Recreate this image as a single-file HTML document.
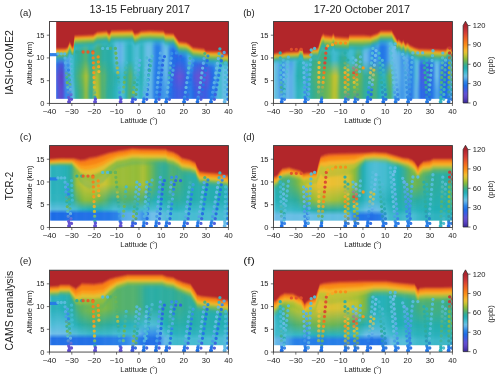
<!DOCTYPE html>
<html><head><meta charset="utf-8"><style>
html,body{margin:0;padding:0;background:#fff;width:500px;height:378px;overflow:hidden}
svg{display:block;will-change:transform}
text{font-family:"Liberation Sans",sans-serif;fill:#222}
.t{font-size:7px}
.l{font-size:8.2px}
.ti{font-size:10px}
</style></head><body>
<svg width="500" height="378" viewBox="0 0 500 378">
<defs><filter id="bl" x="-5%" y="-5%" width="110%" height="110%"><feGaussianBlur stdDeviation="0.8 0.4"/></filter><filter id="bb" x="-5%" y="-5%" width="110%" height="110%"><feGaussianBlur stdDeviation="0.7 0.8"/></filter>
<linearGradient id="g1" x2="0" y2="1"><stop offset=".513" stop-color="#368fe8"/><stop offset=".713" stop-color="#2375e7"/><stop offset=".914" stop-color="#348de8"/><stop offset="1" stop-color="#348de8"/></linearGradient><linearGradient id="g2" x2="0" y2="1"><stop offset=".513" stop-color="#2c85e8"/><stop offset=".713" stop-color="#1e6ce6"/><stop offset=".914" stop-color="#2980e8"/><stop offset="1" stop-color="#2980e8"/></linearGradient><linearGradient id="g3" x2="0" y2="1"><stop offset=".513" stop-color="#287de7"/><stop offset=".713" stop-color="#2867e5"/><stop offset=".914" stop-color="#2376e7"/><stop offset="1" stop-color="#2376e7"/></linearGradient><linearGradient id="g4" x2="0" y2="1"><stop offset=".513" stop-color="#1e6de6"/><stop offset=".713" stop-color="#5356da"/><stop offset=".914" stop-color="#3d5ce2"/><stop offset="1" stop-color="#3d5ce2"/></linearGradient><linearGradient id="g5" x2="0" y2="1"><stop offset=".513" stop-color="#375fe2"/><stop offset=".713" stop-color="#5d46c8"/><stop offset=".914" stop-color="#614dcf"/><stop offset="1" stop-color="#614dcf"/></linearGradient><linearGradient id="g6" x2="0" y2="1"><stop offset=".513" stop-color="#415ae1"/><stop offset=".713" stop-color="#5740c0"/><stop offset=".914" stop-color="#5f49cb"/><stop offset="1" stop-color="#5f49cb"/></linearGradient><linearGradient id="g7" x2="0" y2="1"><stop offset=".513" stop-color="#1e6ce6"/><stop offset=".713" stop-color="#5855d8"/><stop offset=".914" stop-color="#4759df"/><stop offset="1" stop-color="#4759df"/></linearGradient><linearGradient id="g8" x2="0" y2="1"><stop offset=".513" stop-color="#66b7e8"/><stop offset=".713" stop-color="#459ce8"/><stop offset=".914" stop-color="#358ee8"/><stop offset="1" stop-color="#358ee8"/></linearGradient><linearGradient id="g9" x2="0" y2="1"><stop offset=".513" stop-color="#3d95e8"/><stop offset=".713" stop-color="#3d95e8"/><stop offset=".914" stop-color="#267ae7"/><stop offset="1" stop-color="#267ae7"/></linearGradient><linearGradient id="g10" x2="0" y2="1"><stop offset=".513" stop-color="#67bee4"/><stop offset=".713" stop-color="#66b7e8"/><stop offset=".914" stop-color="#3d95e8"/><stop offset="1" stop-color="#3d95e8"/></linearGradient><linearGradient id="g11" x2="0" y2="1"><stop offset=".513" stop-color="#40bacd"/><stop offset=".713" stop-color="#40bacd"/><stop offset=".914" stop-color="#67bee4"/><stop offset="1" stop-color="#67bee4"/></linearGradient><linearGradient id="g12" x2="0" y2="1"><stop offset=".513" stop-color="#28aeaa"/><stop offset=".713" stop-color="#30ac98"/><stop offset=".914" stop-color="#28aeaa"/><stop offset="1" stop-color="#28aeaa"/></linearGradient><linearGradient id="g13" x2="0" y2="1"><stop offset=".513" stop-color="#2cada1"/><stop offset=".713" stop-color="#41ae83"/><stop offset=".914" stop-color="#2fac9b"/><stop offset="1" stop-color="#2fac9b"/></linearGradient><linearGradient id="g14" x2="0" y2="1"><stop offset=".513" stop-color="#30ac98"/><stop offset=".713" stop-color="#52b16e"/><stop offset=".914" stop-color="#41ae83"/><stop offset="1" stop-color="#41ae83"/></linearGradient><linearGradient id="g15" x2="0" y2="1"><stop offset=".513" stop-color="#3bae8a"/><stop offset=".713" stop-color="#69b556"/><stop offset=".914" stop-color="#4cb075"/><stop offset="1" stop-color="#4cb075"/></linearGradient><linearGradient id="g16" x2="0" y2="1"><stop offset=".513" stop-color="#46af7c"/><stop offset=".713" stop-color="#87ba3a"/><stop offset=".914" stop-color="#69b556"/><stop offset="1" stop-color="#69b556"/></linearGradient><linearGradient id="g17" x2="0" y2="1"><stop offset=".513" stop-color="#52b16e"/><stop offset=".713" stop-color="#afc035"/><stop offset=".914" stop-color="#9bbd37"/><stop offset="1" stop-color="#9bbd37"/></linearGradient><linearGradient id="g18" x2="0" y2="1"><stop offset=".513" stop-color="#2eac9c"/><stop offset=".713" stop-color="#6fb650"/><stop offset=".914" stop-color="#52b16e"/><stop offset="1" stop-color="#52b16e"/></linearGradient><linearGradient id="g19" x2="0" y2="1"><stop offset=".513" stop-color="#28aeaa"/><stop offset=".713" stop-color="#41ae83"/><stop offset=".914" stop-color="#2cada1"/><stop offset="1" stop-color="#2cada1"/></linearGradient><linearGradient id="g20" x2="0" y2="1"><stop offset=".513" stop-color="#2dada0"/><stop offset=".713" stop-color="#52b16e"/><stop offset=".914" stop-color="#46af7c"/><stop offset="1" stop-color="#46af7c"/></linearGradient><linearGradient id="g21" x2="0" y2="1"><stop offset=".513" stop-color="#41ae83"/><stop offset=".713" stop-color="#9bbd37"/><stop offset=".914" stop-color="#afc035"/><stop offset="1" stop-color="#afc035"/></linearGradient><linearGradient id="g22" x2="0" y2="1"><stop offset=".513" stop-color="#4cb075"/><stop offset=".713" stop-color="#a8bf36"/><stop offset=".914" stop-color="#bcc233"/><stop offset="1" stop-color="#bcc233"/></linearGradient><linearGradient id="g23" x2="0" y2="1"><stop offset=".513" stop-color="#41ae83"/><stop offset=".713" stop-color="#75b74b"/><stop offset=".914" stop-color="#7eb842"/><stop offset="1" stop-color="#7eb842"/></linearGradient><linearGradient id="g24" x2="0" y2="1"><stop offset=".513" stop-color="#2eac9c"/><stop offset=".713" stop-color="#49b079"/><stop offset=".914" stop-color="#46af7c"/><stop offset="1" stop-color="#46af7c"/></linearGradient><linearGradient id="g25" x2="0" y2="1"><stop offset=".513" stop-color="#2bada4"/><stop offset=".713" stop-color="#5ab264"/><stop offset=".914" stop-color="#52b16e"/><stop offset="1" stop-color="#52b16e"/></linearGradient><linearGradient id="g26" x2="0" y2="1"><stop offset=".513" stop-color="#2bada4"/><stop offset=".713" stop-color="#3eae87"/><stop offset=".914" stop-color="#36ad91"/><stop offset="1" stop-color="#36ad91"/></linearGradient><linearGradient id="g27" x2="0" y2="1"><stop offset=".513" stop-color="#2aada6"/><stop offset=".713" stop-color="#2fac9a"/><stop offset=".914" stop-color="#2dada0"/><stop offset="1" stop-color="#2dada0"/></linearGradient><linearGradient id="g28" x2="0" y2="1"><stop offset=".513" stop-color="#29aea8"/><stop offset=".713" stop-color="#2eac9c"/><stop offset=".914" stop-color="#2bada2"/><stop offset="1" stop-color="#2bada2"/></linearGradient><linearGradient id="g29" x2="0" y2="1"><stop offset=".513" stop-color="#2bb2bc"/><stop offset=".713" stop-color="#2cada2"/><stop offset=".914" stop-color="#27aeac"/><stop offset="1" stop-color="#27aeac"/></linearGradient><linearGradient id="g30" x2="0" y2="1"><stop offset=".513" stop-color="#53bdd9"/><stop offset=".713" stop-color="#28aeaa"/><stop offset=".914" stop-color="#29b1bb"/><stop offset="1" stop-color="#29b1bb"/></linearGradient><linearGradient id="g31" x2="0" y2="1"><stop offset=".513" stop-color="#69b9e8"/><stop offset=".713" stop-color="#2bb2bc"/><stop offset=".914" stop-color="#38b7c7"/><stop offset="1" stop-color="#38b7c7"/></linearGradient><linearGradient id="g32" x2="0" y2="1"><stop offset=".513" stop-color="#5baee8"/><stop offset=".713" stop-color="#38b7c7"/><stop offset=".914" stop-color="#44bbd0"/><stop offset="1" stop-color="#44bbd0"/></linearGradient><linearGradient id="g33" x2="0" y2="1"><stop offset=".513" stop-color="#66b7e8"/><stop offset=".713" stop-color="#40bacd"/><stop offset=".914" stop-color="#4dbcd6"/><stop offset="1" stop-color="#4dbcd6"/></linearGradient><linearGradient id="g34" x2="0" y2="1"><stop offset=".513" stop-color="#51bdd8"/><stop offset=".713" stop-color="#31b4c1"/><stop offset=".914" stop-color="#3cb8ca"/><stop offset="1" stop-color="#3cb8ca"/></linearGradient><linearGradient id="g35" x2="0" y2="1"><stop offset=".513" stop-color="#38b7c7"/><stop offset=".713" stop-color="#29aea8"/><stop offset=".914" stop-color="#26aeb0"/><stop offset="1" stop-color="#26aeb0"/></linearGradient><linearGradient id="g36" x2="0" y2="1"><stop offset=".513" stop-color="#29b1bb"/><stop offset=".713" stop-color="#52b16e"/><stop offset=".914" stop-color="#52b16e"/><stop offset="1" stop-color="#52b16e"/></linearGradient><linearGradient id="g37" x2="0" y2="1"><stop offset=".513" stop-color="#29b1bb"/><stop offset=".713" stop-color="#63b45c"/><stop offset=".914" stop-color="#46af7c"/><stop offset="1" stop-color="#46af7c"/></linearGradient><linearGradient id="g38" x2="0" y2="1"><stop offset=".513" stop-color="#3ab8c9"/><stop offset=".713" stop-color="#2cada1"/><stop offset=".914" stop-color="#23afb6"/><stop offset="1" stop-color="#23afb6"/></linearGradient><linearGradient id="g39" x2="0" y2="1"><stop offset=".513" stop-color="#4ebcd7"/><stop offset=".713" stop-color="#40bacd"/><stop offset=".914" stop-color="#4dbcd6"/><stop offset="1" stop-color="#4dbcd6"/></linearGradient><linearGradient id="g40" x2="0" y2="1"><stop offset=".513" stop-color="#52bdd8"/><stop offset=".713" stop-color="#40bacd"/><stop offset=".914" stop-color="#4dbcd6"/><stop offset="1" stop-color="#4dbcd6"/></linearGradient><linearGradient id="g41" x2="0" y2="1"><stop offset=".513" stop-color="#34b6c4"/><stop offset=".713" stop-color="#23afb6"/><stop offset=".914" stop-color="#32b4c2"/><stop offset="1" stop-color="#32b4c2"/></linearGradient><linearGradient id="g42" x2="0" y2="1"><stop offset=".513" stop-color="#29b1bb"/><stop offset=".713" stop-color="#26aeb0"/><stop offset=".914" stop-color="#2db3be"/><stop offset="1" stop-color="#2db3be"/></linearGradient><linearGradient id="g43" x2="0" y2="1"><stop offset=".513" stop-color="#4dbcd6"/><stop offset=".713" stop-color="#4dbcd6"/><stop offset=".914" stop-color="#5abddd"/><stop offset="1" stop-color="#5abddd"/></linearGradient><linearGradient id="g44" x2="0" y2="1"><stop offset=".513" stop-color="#67bee4"/><stop offset=".713" stop-color="#67bee4"/><stop offset=".914" stop-color="#66b7e8"/><stop offset="1" stop-color="#66b7e8"/></linearGradient><linearGradient id="g45" x2="0" y2="1"><stop offset=".513" stop-color="#6cbee7"/><stop offset=".713" stop-color="#6cbee7"/><stop offset=".914" stop-color="#5baee8"/><stop offset="1" stop-color="#5baee8"/></linearGradient><linearGradient id="g46" x2="0" y2="1"><stop offset=".513" stop-color="#5abddd"/><stop offset=".713" stop-color="#5abddd"/><stop offset=".914" stop-color="#66b7e8"/><stop offset="1" stop-color="#66b7e8"/></linearGradient><linearGradient id="g47" x2="0" y2="1"><stop offset=".513" stop-color="#459ce8"/><stop offset=".713" stop-color="#3b92e8"/><stop offset=".914" stop-color="#3089e8"/><stop offset="1" stop-color="#3089e8"/></linearGradient><linearGradient id="g48" x2="0" y2="1"><stop offset=".513" stop-color="#2980e8"/><stop offset=".713" stop-color="#267ae7"/><stop offset=".914" stop-color="#267ae7"/><stop offset="1" stop-color="#267ae7"/></linearGradient><linearGradient id="g49" x2="0" y2="1"><stop offset=".513" stop-color="#277ce7"/><stop offset=".713" stop-color="#267ae7"/><stop offset=".914" stop-color="#267ae7"/><stop offset="1" stop-color="#267ae7"/></linearGradient><linearGradient id="g50" x2="0" y2="1"><stop offset=".513" stop-color="#2c85e8"/><stop offset=".713" stop-color="#2a82e8"/><stop offset=".914" stop-color="#2980e8"/><stop offset="1" stop-color="#2980e8"/></linearGradient><linearGradient id="g51" x2="0" y2="1"><stop offset=".513" stop-color="#52a6e8"/><stop offset=".713" stop-color="#459ce8"/><stop offset=".914" stop-color="#3991e8"/><stop offset="1" stop-color="#3991e8"/></linearGradient><linearGradient id="g52" x2="0" y2="1"><stop offset=".513" stop-color="#6bbce8"/><stop offset=".713" stop-color="#5baee8"/><stop offset=".914" stop-color="#459ce8"/><stop offset="1" stop-color="#459ce8"/></linearGradient><linearGradient id="g53" x2="0" y2="1"><stop offset=".513" stop-color="#67bee4"/><stop offset=".713" stop-color="#66b7e8"/><stop offset=".914" stop-color="#459ce8"/><stop offset="1" stop-color="#459ce8"/></linearGradient><linearGradient id="g54" x2="0" y2="1"><stop offset=".513" stop-color="#358ee8"/><stop offset=".713" stop-color="#277ce7"/><stop offset=".914" stop-color="#277ce7"/><stop offset="1" stop-color="#277ce7"/></linearGradient><linearGradient id="g55" x2="0" y2="1"><stop offset=".513" stop-color="#2375e7"/><stop offset=".713" stop-color="#2d64e4"/><stop offset=".914" stop-color="#206be6"/><stop offset="1" stop-color="#206be6"/></linearGradient><linearGradient id="g56" x2="0" y2="1"><stop offset=".513" stop-color="#1e6ce6"/><stop offset=".713" stop-color="#415ae1"/><stop offset=".914" stop-color="#3063e4"/><stop offset="1" stop-color="#3063e4"/></linearGradient><linearGradient id="g57" x2="0" y2="1"><stop offset=".513" stop-color="#2469e5"/><stop offset=".713" stop-color="#5256da"/><stop offset=".914" stop-color="#3a5ee2"/><stop offset="1" stop-color="#3a5ee2"/></linearGradient><linearGradient id="g58" x2="0" y2="1"><stop offset=".513" stop-color="#2768e5"/><stop offset=".713" stop-color="#5e53d6"/><stop offset=".914" stop-color="#3e5be1"/><stop offset="1" stop-color="#3e5be1"/></linearGradient><linearGradient id="g59" x2="0" y2="1"><stop offset=".513" stop-color="#2668e5"/><stop offset=".713" stop-color="#6153d5"/><stop offset=".914" stop-color="#3e5be1"/><stop offset="1" stop-color="#3e5be1"/></linearGradient><linearGradient id="g60" x2="0" y2="1"><stop offset=".513" stop-color="#206be6"/><stop offset=".713" stop-color="#5b54d7"/><stop offset=".914" stop-color="#3a5ee2"/><stop offset="1" stop-color="#3a5ee2"/></linearGradient><linearGradient id="g61" x2="0" y2="1"><stop offset=".513" stop-color="#2476e7"/><stop offset=".713" stop-color="#4759df"/><stop offset=".914" stop-color="#2d64e4"/><stop offset="1" stop-color="#2d64e4"/></linearGradient><linearGradient id="g62" x2="0" y2="1"><stop offset=".513" stop-color="#338ce8"/><stop offset=".713" stop-color="#2867e5"/><stop offset=".914" stop-color="#2070e6"/><stop offset="1" stop-color="#2070e6"/></linearGradient><linearGradient id="g63" x2="0" y2="1"><stop offset=".513" stop-color="#5eb0e8"/><stop offset=".713" stop-color="#287ee7"/><stop offset=".914" stop-color="#287ee7"/><stop offset="1" stop-color="#287ee7"/></linearGradient><linearGradient id="g64" x2="0" y2="1"><stop offset=".513" stop-color="#53a7e8"/><stop offset=".713" stop-color="#2274e7"/><stop offset=".914" stop-color="#2476e7"/><stop offset="1" stop-color="#2476e7"/></linearGradient><linearGradient id="g65" x2="0" y2="1"><stop offset=".513" stop-color="#2375e7"/><stop offset=".713" stop-color="#4d57dd"/><stop offset=".914" stop-color="#2d64e4"/><stop offset="1" stop-color="#2d64e4"/></linearGradient><linearGradient id="g66" x2="0" y2="1"><stop offset=".513" stop-color="#1f6ee6"/><stop offset=".713" stop-color="#5b54d7"/><stop offset=".914" stop-color="#375fe2"/><stop offset="1" stop-color="#375fe2"/></linearGradient><linearGradient id="g67" x2="0" y2="1"><stop offset=".513" stop-color="#2369e5"/><stop offset=".713" stop-color="#6350d2"/><stop offset=".914" stop-color="#415ae1"/><stop offset="1" stop-color="#415ae1"/></linearGradient><linearGradient id="g68" x2="0" y2="1"><stop offset=".513" stop-color="#2668e5"/><stop offset=".713" stop-color="#624ed0"/><stop offset=".914" stop-color="#415ae1"/><stop offset="1" stop-color="#415ae1"/></linearGradient><linearGradient id="g69" x2="0" y2="1"><stop offset=".513" stop-color="#2867e5"/><stop offset=".713" stop-color="#614dcf"/><stop offset=".914" stop-color="#415ae1"/><stop offset="1" stop-color="#415ae1"/></linearGradient><linearGradient id="g70" x2="0" y2="1"><stop offset=".513" stop-color="#2668e5"/><stop offset=".713" stop-color="#6350d2"/><stop offset=".914" stop-color="#3c5de2"/><stop offset="1" stop-color="#3c5de2"/></linearGradient><linearGradient id="g71" x2="0" y2="1"><stop offset=".519" stop-color="#2369e5"/><stop offset=".713" stop-color="#6452d4"/><stop offset=".914" stop-color="#375fe2"/><stop offset="1" stop-color="#375fe2"/></linearGradient><linearGradient id="g72" x2="0" y2="1"><stop offset=".519" stop-color="#2274e7"/><stop offset=".713" stop-color="#4559e0"/><stop offset=".914" stop-color="#2369e5"/><stop offset="1" stop-color="#2369e5"/></linearGradient><linearGradient id="g73" x2="0" y2="1"><stop offset=".52" stop-color="#277de7"/><stop offset=".713" stop-color="#2d64e4"/><stop offset=".914" stop-color="#2375e7"/><stop offset="1" stop-color="#2375e7"/></linearGradient><linearGradient id="g74" x2="0" y2="1"><stop offset=".521" stop-color="#2b84e8"/><stop offset=".713" stop-color="#2070e6"/><stop offset=".914" stop-color="#287ee7"/><stop offset="1" stop-color="#287ee7"/></linearGradient><linearGradient id="g75" x2="0" y2="1"><stop offset=".521" stop-color="#4ea2e8"/><stop offset=".713" stop-color="#3d95e8"/><stop offset=".914" stop-color="#489ee8"/><stop offset="1" stop-color="#489ee8"/></linearGradient><linearGradient id="g76" x2="0" y2="1"><stop offset=".52" stop-color="#53bdd9"/><stop offset=".713" stop-color="#53bdd9"/><stop offset=".914" stop-color="#53bdd9"/><stop offset="1" stop-color="#53bdd9"/></linearGradient><linearGradient id="g77" x2="0" y2="1"><stop offset=".518" stop-color="#34b6c4"/><stop offset=".713" stop-color="#40bacd"/><stop offset=".914" stop-color="#40bacd"/><stop offset="1" stop-color="#40bacd"/></linearGradient><linearGradient id="g78" x2="0" y2="1"><stop offset=".553" stop-color="#5ebddf"/><stop offset=".713" stop-color="#63bde2"/><stop offset=".914" stop-color="#63bde2"/><stop offset="1" stop-color="#63bde2"/></linearGradient><linearGradient id="g79" x2="0" y2="1"><stop offset=".555" stop-color="#6abee6"/><stop offset=".713" stop-color="#6abee6"/><stop offset=".914" stop-color="#6cbee7"/><stop offset="1" stop-color="#6cbee7"/></linearGradient><linearGradient id="g80" x2="0" y2="1"><stop offset=".557" stop-color="#53bdd9"/><stop offset=".713" stop-color="#53bdd9"/><stop offset=".914" stop-color="#5abddd"/><stop offset="1" stop-color="#5abddd"/></linearGradient><linearGradient id="p81" gradientUnits="userSpaceOnUse" x1="0" y1="103.4" x2="0" y2="53.4"><stop offset="0" stop-color="#614dcf"/><stop offset="0.12" stop-color="#6452d4"/><stop offset="0.3" stop-color="#53bdd9"/><stop offset="0.4" stop-color="#75b74b"/><stop offset="0.5" stop-color="#28aeaa"/><stop offset="0.55" stop-color="#6cb553"/><stop offset="0.65" stop-color="#3d95e8"/><stop offset="0.8" stop-color="#56a9e8"/><stop offset="1" stop-color="#53bdd9"/></linearGradient><linearGradient id="p82" gradientUnits="userSpaceOnUse" x1="0" y1="103.4" x2="0" y2="53.4"><stop offset="0" stop-color="#5d46c8"/><stop offset="0.12" stop-color="#604bcd"/><stop offset="0.3" stop-color="#67bee4"/><stop offset="0.4" stop-color="#5ab264"/><stop offset="0.5" stop-color="#29b1bb"/><stop offset="0.55" stop-color="#52b16e"/><stop offset="0.65" stop-color="#2a82e8"/><stop offset="0.8" stop-color="#3d95e8"/><stop offset="1" stop-color="#67bee4"/></linearGradient><linearGradient id="p83" gradientUnits="userSpaceOnUse" x1="0" y1="103.4" x2="0" y2="53.4"><stop offset="0" stop-color="#6452d4"/><stop offset="0.15" stop-color="#28aeaa"/><stop offset="0.3" stop-color="#cbc232"/><stop offset="0.5" stop-color="#f9a521"/><stop offset="0.7" stop-color="#f98d19"/><stop offset="1" stop-color="#f4761b"/></linearGradient><linearGradient id="p84" gradientUnits="userSpaceOnUse" x1="0" y1="103.4" x2="0" y2="53.4"><stop offset="0" stop-color="#cbc232"/><stop offset="0.6" stop-color="#f2be32"/><stop offset="0.8" stop-color="#f9971b"/><stop offset="1" stop-color="#f88416"/></linearGradient><linearGradient id="p85" gradientUnits="userSpaceOnUse" x1="0" y1="103.4" x2="0" y2="53.4"><stop offset="0" stop-color="#6452d4"/><stop offset="0.08" stop-color="#2867e5"/><stop offset="0.2" stop-color="#3d95e8"/><stop offset="0.35" stop-color="#40bacd"/><stop offset="0.5" stop-color="#30ac98"/><stop offset="0.65" stop-color="#d3c132"/><stop offset="0.8" stop-color="#52b16e"/><stop offset="1" stop-color="#6cb553"/></linearGradient><linearGradient id="p86" gradientUnits="userSpaceOnUse" x1="0" y1="103.4" x2="0" y2="53.4"><stop offset="0" stop-color="#53bdd9"/><stop offset="0.4" stop-color="#75b74b"/><stop offset="0.5" stop-color="#52b16e"/><stop offset="0.8" stop-color="#40bacd"/><stop offset="1" stop-color="#53bdd9"/></linearGradient><linearGradient id="p87" gradientUnits="userSpaceOnUse" x1="0" y1="103.4" x2="0" y2="53.4"><stop offset="0" stop-color="#415ae1"/><stop offset="0.08" stop-color="#267ae7"/><stop offset="0.2" stop-color="#9bbd37"/><stop offset="0.4" stop-color="#41ae83"/><stop offset="0.7" stop-color="#53bdd9"/><stop offset="1" stop-color="#53bdd9"/></linearGradient><linearGradient id="p88" gradientUnits="userSpaceOnUse" x1="0" y1="103.4" x2="0" y2="53.4"><stop offset="0" stop-color="#6452d4"/><stop offset="0.08" stop-color="#2d64e4"/><stop offset="0.2" stop-color="#63b45c"/><stop offset="0.4" stop-color="#26aeb0"/><stop offset="0.7" stop-color="#5eb0e8"/><stop offset="1" stop-color="#5eb0e8"/></linearGradient><linearGradient id="p89" gradientUnits="userSpaceOnUse" x1="0" y1="103.4" x2="0" y2="53.4"><stop offset="0" stop-color="#2070e6"/><stop offset="0.15" stop-color="#56a9e8"/><stop offset="0.4" stop-color="#4dbcd6"/><stop offset="0.7" stop-color="#67bee4"/><stop offset="1" stop-color="#40bacd"/></linearGradient><linearGradient id="p90" gradientUnits="userSpaceOnUse" x1="0" y1="103.4" x2="0" y2="53.4"><stop offset="0" stop-color="#5855d8"/><stop offset="0.15" stop-color="#2369e5"/><stop offset="0.4" stop-color="#358ee8"/><stop offset="0.7" stop-color="#267ae7"/><stop offset="1" stop-color="#459ce8"/></linearGradient><linearGradient id="p91" gradientUnits="userSpaceOnUse" x1="0" y1="103.4" x2="0" y2="53.4"><stop offset="0" stop-color="#66b7e8"/><stop offset="0.5" stop-color="#40bacd"/><stop offset="0.7" stop-color="#30ac98"/><stop offset="1" stop-color="#53bdd9"/></linearGradient><linearGradient id="p92" gradientUnits="userSpaceOnUse" x1="0" y1="103.4" x2="0" y2="53.4"><stop offset="0" stop-color="#2070e6"/><stop offset="0.2" stop-color="#459ce8"/><stop offset="0.5" stop-color="#66b7e8"/><stop offset="0.7" stop-color="#459ce8"/><stop offset="1" stop-color="#56a9e8"/></linearGradient><linearGradient id="p93" gradientUnits="userSpaceOnUse" x1="0" y1="103.4" x2="0" y2="53.4"><stop offset="0" stop-color="#5855d8"/><stop offset="0.2" stop-color="#2d64e4"/><stop offset="0.5" stop-color="#2070e6"/><stop offset="0.7" stop-color="#2d64e4"/><stop offset="1" stop-color="#2369e5"/></linearGradient><linearGradient id="p94" gradientUnits="userSpaceOnUse" x1="0" y1="103.4" x2="0" y2="53.4"><stop offset="0" stop-color="#2070e6"/><stop offset="0.2" stop-color="#66b7e8"/><stop offset="0.45" stop-color="#5abddd"/><stop offset="0.6" stop-color="#2bada4"/><stop offset="0.8" stop-color="#66b7e8"/><stop offset="1" stop-color="#358ee8"/></linearGradient><linearGradient id="p95" gradientUnits="userSpaceOnUse" x1="0" y1="103.4" x2="0" y2="53.4"><stop offset="0" stop-color="#5855d8"/><stop offset="0.2" stop-color="#2070e6"/><stop offset="0.45" stop-color="#2a82e8"/><stop offset="0.6" stop-color="#5abddd"/><stop offset="0.8" stop-color="#2070e6"/><stop offset="1" stop-color="#375fe2"/></linearGradient><linearGradient id="p96" gradientUnits="userSpaceOnUse" x1="0" y1="103.4" x2="0" y2="53.4"><stop offset="0" stop-color="#2070e6"/><stop offset="0.3" stop-color="#67bee4"/><stop offset="0.5" stop-color="#56a9e8"/><stop offset="0.7" stop-color="#53bdd9"/><stop offset="1" stop-color="#30ac98"/></linearGradient><linearGradient id="p97" gradientUnits="userSpaceOnUse" x1="0" y1="103.4" x2="0" y2="53.4"><stop offset="0" stop-color="#5855d8"/><stop offset="0.3" stop-color="#267ae7"/><stop offset="0.5" stop-color="#2369e5"/><stop offset="0.7" stop-color="#2d87e8"/><stop offset="1" stop-color="#4dbcd6"/></linearGradient><linearGradient id="p98" gradientUnits="userSpaceOnUse" x1="0" y1="103.4" x2="0" y2="53.4"><stop offset="0" stop-color="#2070e6"/><stop offset="0.3" stop-color="#66b7e8"/><stop offset="0.5" stop-color="#5abddd"/><stop offset="0.7" stop-color="#66b7e8"/><stop offset="0.9" stop-color="#56a9e8"/><stop offset="1" stop-color="#52b16e"/></linearGradient><linearGradient id="p99" gradientUnits="userSpaceOnUse" x1="0" y1="103.4" x2="0" y2="53.4"><stop offset="0" stop-color="#5855d8"/><stop offset="0.3" stop-color="#2070e6"/><stop offset="0.5" stop-color="#2a82e8"/><stop offset="0.7" stop-color="#2070e6"/><stop offset="0.9" stop-color="#2369e5"/><stop offset="1" stop-color="#34b6c4"/></linearGradient><linearGradient id="p100" gradientUnits="userSpaceOnUse" x1="0" y1="103.4" x2="0" y2="53.4"><stop offset="0" stop-color="#2070e6"/><stop offset="0.3" stop-color="#56a9e8"/><stop offset="0.6" stop-color="#67bee4"/><stop offset="0.9" stop-color="#66b7e8"/><stop offset="1" stop-color="#34b6c4"/></linearGradient><linearGradient id="p101" gradientUnits="userSpaceOnUse" x1="0" y1="103.4" x2="0" y2="53.4"><stop offset="0" stop-color="#5855d8"/><stop offset="0.3" stop-color="#2369e5"/><stop offset="0.6" stop-color="#267ae7"/><stop offset="0.9" stop-color="#2070e6"/><stop offset="1" stop-color="#56a9e8"/></linearGradient><linearGradient id="p102" gradientUnits="userSpaceOnUse" x1="0" y1="103.4" x2="0" y2="53.4"><stop offset="0" stop-color="#66b7e8"/><stop offset="0.5" stop-color="#4dbcd6"/><stop offset="1" stop-color="#40bacd"/></linearGradient><linearGradient id="p103" gradientUnits="userSpaceOnUse" x1="0" y1="103.4" x2="0" y2="53.4"><stop offset="0" stop-color="#2070e6"/><stop offset="0.5" stop-color="#358ee8"/><stop offset="1" stop-color="#459ce8"/></linearGradient><linearGradient id="g104" x2="0" y2="1"><stop offset=".548" stop-color="#56bddb"/><stop offset=".713" stop-color="#56bddb"/><stop offset=".914" stop-color="#56bddb"/><stop offset="1" stop-color="#56bddb"/></linearGradient><linearGradient id="g105" x2="0" y2="1"><stop offset=".541" stop-color="#67bee4"/><stop offset=".713" stop-color="#67bee4"/><stop offset=".914" stop-color="#67bee4"/><stop offset="1" stop-color="#67bee4"/></linearGradient><linearGradient id="g106" x2="0" y2="1"><stop offset=".541" stop-color="#56a9e8"/><stop offset=".713" stop-color="#4ba0e8"/><stop offset=".914" stop-color="#56a9e8"/><stop offset="1" stop-color="#56a9e8"/></linearGradient><linearGradient id="g107" x2="0" y2="1"><stop offset=".541" stop-color="#3b92e8"/><stop offset=".713" stop-color="#3089e8"/><stop offset=".914" stop-color="#4097e8"/><stop offset="1" stop-color="#4097e8"/></linearGradient><linearGradient id="g108" x2="0" y2="1"><stop offset=".538" stop-color="#2a82e8"/><stop offset=".713" stop-color="#2a82e8"/><stop offset=".914" stop-color="#358ee8"/><stop offset="1" stop-color="#358ee8"/></linearGradient><linearGradient id="g109" x2="0" y2="1"><stop offset=".531" stop-color="#5baee8"/><stop offset=".713" stop-color="#5baee8"/><stop offset=".914" stop-color="#60b3e8"/><stop offset="1" stop-color="#60b3e8"/></linearGradient><linearGradient id="g110" x2="0" y2="1"><stop offset=".529" stop-color="#66b7e8"/><stop offset=".713" stop-color="#6bbce8"/><stop offset=".914" stop-color="#6bbce8"/><stop offset="1" stop-color="#6bbce8"/></linearGradient><linearGradient id="g111" x2="0" y2="1"><stop offset=".528" stop-color="#459ce8"/><stop offset=".713" stop-color="#56a9e8"/><stop offset=".914" stop-color="#56a9e8"/><stop offset="1" stop-color="#56a9e8"/></linearGradient><linearGradient id="g112" x2="0" y2="1"><stop offset=".527" stop-color="#50a5e8"/><stop offset=".713" stop-color="#60b3e8"/><stop offset=".914" stop-color="#60b3e8"/><stop offset="1" stop-color="#60b3e8"/></linearGradient><linearGradient id="g113" x2="0" y2="1"><stop offset=".526" stop-color="#5abddd"/><stop offset=".713" stop-color="#4dbcd6"/><stop offset=".914" stop-color="#53bdd9"/><stop offset="1" stop-color="#53bdd9"/></linearGradient><linearGradient id="g114" x2="0" y2="1"><stop offset=".525" stop-color="#2fb3bf"/><stop offset=".713" stop-color="#23afb6"/><stop offset=".914" stop-color="#32b4c2"/><stop offset="1" stop-color="#32b4c2"/></linearGradient><linearGradient id="g115" x2="0" y2="1"><stop offset=".513" stop-color="#23afb6"/><stop offset=".713" stop-color="#28aeaa"/><stop offset=".914" stop-color="#2cb2bd"/><stop offset="1" stop-color="#2cb2bd"/></linearGradient><linearGradient id="g116" x2="0" y2="1"><stop offset=".513" stop-color="#26b0b8"/><stop offset=".713" stop-color="#27aead"/><stop offset=".914" stop-color="#32b4c2"/><stop offset="1" stop-color="#32b4c2"/></linearGradient><linearGradient id="g117" x2="0" y2="1"><stop offset=".547" stop-color="#37b7c6"/><stop offset=".713" stop-color="#2cb2bd"/><stop offset=".914" stop-color="#43bbd0"/><stop offset="1" stop-color="#43bbd0"/></linearGradient><linearGradient id="g118" x2="0" y2="1"><stop offset=".547" stop-color="#3cb8ca"/><stop offset=".713" stop-color="#2db3be"/><stop offset=".914" stop-color="#44bbd0"/><stop offset="1" stop-color="#44bbd0"/></linearGradient><linearGradient id="g119" x2="0" y2="1"><stop offset=".547" stop-color="#34b6c4"/><stop offset=".713" stop-color="#26aeb0"/><stop offset=".914" stop-color="#34b6c4"/><stop offset="1" stop-color="#34b6c4"/></linearGradient><linearGradient id="g120" x2="0" y2="1"><stop offset=".547" stop-color="#29aea8"/><stop offset=".713" stop-color="#30ac98"/><stop offset=".914" stop-color="#29aea8"/><stop offset="1" stop-color="#29aea8"/></linearGradient><linearGradient id="g121" x2="0" y2="1"><stop offset=".513" stop-color="#34ad93"/><stop offset=".713" stop-color="#45af7e"/><stop offset=".914" stop-color="#34ad93"/><stop offset="1" stop-color="#34ad93"/></linearGradient><linearGradient id="g122" x2="0" y2="1"><stop offset=".513" stop-color="#3dae88"/><stop offset=".713" stop-color="#4db074"/><stop offset=".914" stop-color="#3dae88"/><stop offset="1" stop-color="#3dae88"/></linearGradient><linearGradient id="g123" x2="0" y2="1"><stop offset=".513" stop-color="#41ae83"/><stop offset=".713" stop-color="#52b16e"/><stop offset=".914" stop-color="#45af7e"/><stop offset="1" stop-color="#45af7e"/></linearGradient><linearGradient id="g124" x2="0" y2="1"><stop offset=".513" stop-color="#41ae83"/><stop offset=".713" stop-color="#52b16e"/><stop offset=".914" stop-color="#4db074"/><stop offset="1" stop-color="#4db074"/></linearGradient><linearGradient id="g125" x2="0" y2="1"><stop offset=".513" stop-color="#41ae83"/><stop offset=".713" stop-color="#56b169"/><stop offset=".914" stop-color="#56b169"/><stop offset="1" stop-color="#56b169"/></linearGradient><linearGradient id="g126" x2="0" y2="1"><stop offset=".513" stop-color="#41ae83"/><stop offset=".713" stop-color="#5eb360"/><stop offset=".914" stop-color="#5eb360"/><stop offset="1" stop-color="#5eb360"/></linearGradient><linearGradient id="g127" x2="0" y2="1"><stop offset=".513" stop-color="#3dae88"/><stop offset=".713" stop-color="#68b457"/><stop offset=".914" stop-color="#68b457"/><stop offset="1" stop-color="#68b457"/></linearGradient><linearGradient id="g128" x2="0" y2="1"><stop offset=".513" stop-color="#34ad93"/><stop offset=".713" stop-color="#70b64f"/><stop offset=".914" stop-color="#70b64f"/><stop offset="1" stop-color="#70b64f"/></linearGradient><linearGradient id="g129" x2="0" y2="1"><stop offset=".513" stop-color="#27aeac"/><stop offset=".713" stop-color="#87ba3a"/><stop offset=".914" stop-color="#87ba3a"/><stop offset="1" stop-color="#87ba3a"/></linearGradient><linearGradient id="g130" x2="0" y2="1"><stop offset=".513" stop-color="#40bacd"/><stop offset=".713" stop-color="#afc035"/><stop offset=".914" stop-color="#afc035"/><stop offset="1" stop-color="#afc035"/></linearGradient><linearGradient id="g131" x2="0" y2="1"><stop offset=".513" stop-color="#40bacd"/><stop offset=".713" stop-color="#c8c232"/><stop offset=".914" stop-color="#bcc233"/><stop offset="1" stop-color="#bcc233"/></linearGradient><linearGradient id="g132" x2="0" y2="1"><stop offset=".513" stop-color="#34b6c4"/><stop offset=".713" stop-color="#afc035"/><stop offset=".914" stop-color="#9bbd37"/><stop offset="1" stop-color="#9bbd37"/></linearGradient><linearGradient id="g133" x2="0" y2="1"><stop offset=".513" stop-color="#28aeaa"/><stop offset=".713" stop-color="#63b45c"/><stop offset=".914" stop-color="#5ab264"/><stop offset="1" stop-color="#5ab264"/></linearGradient><linearGradient id="g134" x2="0" y2="1"><stop offset=".513" stop-color="#30ac98"/><stop offset=".713" stop-color="#49b079"/><stop offset=".914" stop-color="#45af7e"/><stop offset="1" stop-color="#45af7e"/></linearGradient><linearGradient id="g135" x2="0" y2="1"><stop offset=".513" stop-color="#30ac98"/><stop offset=".713" stop-color="#5ab264"/><stop offset=".914" stop-color="#4db074"/><stop offset="1" stop-color="#4db074"/></linearGradient><linearGradient id="g136" x2="0" y2="1"><stop offset=".513" stop-color="#28aeaa"/><stop offset=".713" stop-color="#5eb360"/><stop offset=".914" stop-color="#4db074"/><stop offset="1" stop-color="#4db074"/></linearGradient><linearGradient id="g137" x2="0" y2="1"><stop offset=".513" stop-color="#3ab8c9"/><stop offset=".713" stop-color="#56b169"/><stop offset=".914" stop-color="#45af7e"/><stop offset="1" stop-color="#45af7e"/></linearGradient><linearGradient id="g138" x2="0" y2="1"><stop offset=".513" stop-color="#48bcd3"/><stop offset=".713" stop-color="#57b267"/><stop offset=".914" stop-color="#46af7c"/><stop offset="1" stop-color="#46af7c"/></linearGradient><linearGradient id="g139" x2="0" y2="1"><stop offset=".513" stop-color="#40bacd"/><stop offset=".713" stop-color="#63b45c"/><stop offset=".914" stop-color="#52b16e"/><stop offset="1" stop-color="#52b16e"/></linearGradient><linearGradient id="g140" x2="0" y2="1"><stop offset=".513" stop-color="#2bada4"/><stop offset=".713" stop-color="#63b45c"/><stop offset=".914" stop-color="#52b16e"/><stop offset="1" stop-color="#52b16e"/></linearGradient><linearGradient id="g141" x2="0" y2="1"><stop offset=".513" stop-color="#45af7e"/><stop offset=".713" stop-color="#65b45a"/><stop offset=".914" stop-color="#52b16e"/><stop offset="1" stop-color="#52b16e"/></linearGradient><linearGradient id="g142" x2="0" y2="1"><stop offset=".513" stop-color="#4db074"/><stop offset=".713" stop-color="#6ab555"/><stop offset=".914" stop-color="#52b16e"/><stop offset="1" stop-color="#52b16e"/></linearGradient><linearGradient id="g143" x2="0" y2="1"><stop offset=".513" stop-color="#27aeac"/><stop offset=".713" stop-color="#57b267"/><stop offset=".914" stop-color="#46af7c"/><stop offset="1" stop-color="#46af7c"/></linearGradient><linearGradient id="g144" x2="0" y2="1"><stop offset=".513" stop-color="#66b7e8"/><stop offset=".713" stop-color="#30ac98"/><stop offset=".914" stop-color="#30ac98"/><stop offset="1" stop-color="#30ac98"/></linearGradient><linearGradient id="g145" x2="0" y2="1"><stop offset=".513" stop-color="#66b7e8"/><stop offset=".713" stop-color="#30ac98"/><stop offset=".914" stop-color="#2bada4"/><stop offset="1" stop-color="#2bada4"/></linearGradient><linearGradient id="g146" x2="0" y2="1"><stop offset=".513" stop-color="#56a9e8"/><stop offset=".713" stop-color="#36ad91"/><stop offset=".914" stop-color="#2bada4"/><stop offset="1" stop-color="#2bada4"/></linearGradient><linearGradient id="g147" x2="0" y2="1"><stop offset=".513" stop-color="#358ee8"/><stop offset=".713" stop-color="#41ae83"/><stop offset=".914" stop-color="#30ac98"/><stop offset="1" stop-color="#30ac98"/></linearGradient><linearGradient id="g148" x2="0" y2="1"><stop offset=".513" stop-color="#2980e7"/><stop offset=".713" stop-color="#57b267"/><stop offset=".914" stop-color="#46af7c"/><stop offset="1" stop-color="#46af7c"/></linearGradient><linearGradient id="g149" x2="0" y2="1"><stop offset=".513" stop-color="#2a82e8"/><stop offset=".713" stop-color="#57b267"/><stop offset=".914" stop-color="#46af7c"/><stop offset="1" stop-color="#46af7c"/></linearGradient><linearGradient id="g150" x2="0" y2="1"><stop offset=".513" stop-color="#459ce8"/><stop offset=".713" stop-color="#41ae83"/><stop offset=".914" stop-color="#30ac98"/><stop offset="1" stop-color="#30ac98"/></linearGradient><linearGradient id="g151" x2="0" y2="1"><stop offset=".513" stop-color="#2980e7"/><stop offset=".713" stop-color="#27aeac"/><stop offset=".914" stop-color="#25b0b8"/><stop offset="1" stop-color="#25b0b8"/></linearGradient><linearGradient id="g152" x2="0" y2="1"><stop offset=".513" stop-color="#2375e7"/><stop offset=".713" stop-color="#29b1bb"/><stop offset=".914" stop-color="#34b6c4"/><stop offset="1" stop-color="#34b6c4"/></linearGradient><linearGradient id="g153" x2="0" y2="1"><stop offset=".513" stop-color="#2375e7"/><stop offset=".713" stop-color="#29b1bb"/><stop offset=".914" stop-color="#34b6c4"/><stop offset="1" stop-color="#34b6c4"/></linearGradient><linearGradient id="g154" x2="0" y2="1"><stop offset=".513" stop-color="#2b84e8"/><stop offset=".713" stop-color="#36ad91"/><stop offset=".914" stop-color="#2dada0"/><stop offset="1" stop-color="#2dada0"/></linearGradient><linearGradient id="g155" x2="0" y2="1"><stop offset=".513" stop-color="#50a5e8"/><stop offset=".713" stop-color="#5db361"/><stop offset=".914" stop-color="#46af7c"/><stop offset="1" stop-color="#46af7c"/></linearGradient><linearGradient id="g156" x2="0" y2="1"><stop offset=".513" stop-color="#5abddd"/><stop offset=".713" stop-color="#75b74b"/><stop offset=".914" stop-color="#52b16e"/><stop offset="1" stop-color="#52b16e"/></linearGradient><linearGradient id="g157" x2="0" y2="1"><stop offset=".513" stop-color="#6cbee7"/><stop offset=".713" stop-color="#34b6c4"/><stop offset=".914" stop-color="#3cb8ca"/><stop offset="1" stop-color="#3cb8ca"/></linearGradient><linearGradient id="g158" x2="0" y2="1"><stop offset=".513" stop-color="#66b7e8"/><stop offset=".713" stop-color="#6bbee6"/><stop offset=".914" stop-color="#6ebee8"/><stop offset="1" stop-color="#6ebee8"/></linearGradient><linearGradient id="g159" x2="0" y2="1"><stop offset=".513" stop-color="#66b7e8"/><stop offset=".713" stop-color="#6abbe8"/><stop offset=".914" stop-color="#5eb0e8"/><stop offset="1" stop-color="#5eb0e8"/></linearGradient><linearGradient id="g160" x2="0" y2="1"><stop offset=".513" stop-color="#58abe8"/><stop offset=".713" stop-color="#5aade8"/><stop offset=".914" stop-color="#4ea2e8"/><stop offset="1" stop-color="#4ea2e8"/></linearGradient><linearGradient id="g161" x2="0" y2="1"><stop offset=".513" stop-color="#3b93e8"/><stop offset=".713" stop-color="#4198e8"/><stop offset=".914" stop-color="#3d95e8"/><stop offset="1" stop-color="#3d95e8"/></linearGradient><linearGradient id="g162" x2="0" y2="1"><stop offset=".513" stop-color="#4097e8"/><stop offset=".713" stop-color="#4ba0e8"/><stop offset=".914" stop-color="#459ce8"/><stop offset="1" stop-color="#459ce8"/></linearGradient><linearGradient id="g163" x2="0" y2="1"><stop offset=".513" stop-color="#66b7e8"/><stop offset=".713" stop-color="#67bee4"/><stop offset=".914" stop-color="#66b7e8"/><stop offset="1" stop-color="#66b7e8"/></linearGradient><linearGradient id="g164" x2="0" y2="1"><stop offset=".513" stop-color="#3089e8"/><stop offset=".713" stop-color="#358ee8"/><stop offset=".914" stop-color="#3089e8"/><stop offset="1" stop-color="#3089e8"/></linearGradient><linearGradient id="g165" x2="0" y2="1"><stop offset=".513" stop-color="#287ee7"/><stop offset=".713" stop-color="#287ee7"/><stop offset=".914" stop-color="#287ee7"/><stop offset="1" stop-color="#287ee7"/></linearGradient><linearGradient id="g166" x2="0" y2="1"><stop offset=".513" stop-color="#2d87e8"/><stop offset=".713" stop-color="#2d87e8"/><stop offset=".914" stop-color="#2d87e8"/><stop offset="1" stop-color="#2d87e8"/></linearGradient><linearGradient id="g167" x2="0" y2="1"><stop offset=".513" stop-color="#4dbcd6"/><stop offset=".713" stop-color="#4dbcd6"/><stop offset=".914" stop-color="#66b7e8"/><stop offset="1" stop-color="#66b7e8"/></linearGradient><linearGradient id="g168" x2="0" y2="1"><stop offset=".513" stop-color="#67bee4"/><stop offset=".713" stop-color="#67bee4"/><stop offset=".914" stop-color="#56a9e8"/><stop offset="1" stop-color="#56a9e8"/></linearGradient><linearGradient id="g169" x2="0" y2="1"><stop offset=".513" stop-color="#2369e5"/><stop offset=".713" stop-color="#375fe2"/><stop offset=".914" stop-color="#2369e5"/><stop offset="1" stop-color="#2369e5"/></linearGradient><linearGradient id="g170" x2="0" y2="1"><stop offset=".513" stop-color="#2b65e4"/><stop offset=".713" stop-color="#3f5be1"/><stop offset=".914" stop-color="#2767e5"/><stop offset="1" stop-color="#2767e5"/></linearGradient><linearGradient id="g171" x2="0" y2="1"><stop offset=".513" stop-color="#3361e3"/><stop offset=".713" stop-color="#4858de"/><stop offset=".914" stop-color="#2b65e4"/><stop offset="1" stop-color="#2b65e4"/></linearGradient><linearGradient id="g172" x2="0" y2="1"><stop offset=".513" stop-color="#3460e3"/><stop offset=".713" stop-color="#4a58de"/><stop offset=".914" stop-color="#2a66e4"/><stop offset="1" stop-color="#2a66e4"/></linearGradient><linearGradient id="g173" x2="0" y2="1"><stop offset=".513" stop-color="#3063e4"/><stop offset=".713" stop-color="#4459e0"/><stop offset=".914" stop-color="#2668e5"/><stop offset="1" stop-color="#2668e5"/></linearGradient><linearGradient id="g174" x2="0" y2="1"><stop offset=".513" stop-color="#2369e5"/><stop offset=".713" stop-color="#3063e3"/><stop offset=".914" stop-color="#1f6ee6"/><stop offset="1" stop-color="#1f6ee6"/></linearGradient><linearGradient id="g175" x2="0" y2="1"><stop offset=".513" stop-color="#267ae7"/><stop offset=".713" stop-color="#267ae7"/><stop offset=".914" stop-color="#267ae7"/><stop offset="1" stop-color="#267ae7"/></linearGradient><linearGradient id="g176" x2="0" y2="1"><stop offset=".513" stop-color="#6bbce8"/><stop offset=".713" stop-color="#6bbce8"/><stop offset=".914" stop-color="#4ba0e8"/><stop offset="1" stop-color="#4ba0e8"/></linearGradient><linearGradient id="g177" x2="0" y2="1"><stop offset=".513" stop-color="#67bee4"/><stop offset=".713" stop-color="#6cbee7"/><stop offset=".914" stop-color="#50a5e8"/><stop offset="1" stop-color="#50a5e8"/></linearGradient><linearGradient id="g178" x2="0" y2="1"><stop offset=".513" stop-color="#358ee8"/><stop offset=".713" stop-color="#2a82e8"/><stop offset=".914" stop-color="#2a82e8"/><stop offset="1" stop-color="#2a82e8"/></linearGradient><linearGradient id="g179" x2="0" y2="1"><stop offset=".513" stop-color="#1f6ee6"/><stop offset=".713" stop-color="#2d64e4"/><stop offset=".914" stop-color="#2070e6"/><stop offset="1" stop-color="#2070e6"/></linearGradient><linearGradient id="g180" x2="0" y2="1"><stop offset=".513" stop-color="#2a66e4"/><stop offset=".713" stop-color="#3a5de2"/><stop offset=".914" stop-color="#206be6"/><stop offset="1" stop-color="#206be6"/></linearGradient><linearGradient id="g181" x2="0" y2="1"><stop offset=".513" stop-color="#2369e5"/><stop offset=".713" stop-color="#2d64e4"/><stop offset=".914" stop-color="#2070e6"/><stop offset="1" stop-color="#2070e6"/></linearGradient><linearGradient id="g182" x2="0" y2="1"><stop offset=".513" stop-color="#2980e7"/><stop offset=".713" stop-color="#277ce7"/><stop offset=".914" stop-color="#3089e8"/><stop offset="1" stop-color="#3089e8"/></linearGradient><linearGradient id="g183" x2="0" y2="1"><stop offset=".513" stop-color="#4ea2e8"/><stop offset=".713" stop-color="#4ea2e8"/><stop offset=".914" stop-color="#56a9e8"/><stop offset="1" stop-color="#56a9e8"/></linearGradient><linearGradient id="p184" gradientUnits="userSpaceOnUse" x1="0" y1="103.4" x2="0" y2="53.4"><stop offset="0" stop-color="#2070e6"/><stop offset="0.15" stop-color="#66b7e8"/><stop offset="0.3" stop-color="#41ae83"/><stop offset="0.5" stop-color="#53bdd9"/><stop offset="0.8" stop-color="#40bacd"/><stop offset="1" stop-color="#28aeaa"/></linearGradient><linearGradient id="p185" gradientUnits="userSpaceOnUse" x1="0" y1="103.4" x2="0" y2="53.4"><stop offset="0" stop-color="#2d64e4"/><stop offset="0.15" stop-color="#459ce8"/><stop offset="0.3" stop-color="#2bada4"/><stop offset="0.5" stop-color="#6ebee8"/><stop offset="0.8" stop-color="#5abddd"/><stop offset="1" stop-color="#2fb3bf"/></linearGradient><linearGradient id="p186" gradientUnits="userSpaceOnUse" x1="0" y1="103.4" x2="0" y2="53.4"><stop offset="0" stop-color="#2070e6"/><stop offset="0.5" stop-color="#66b7e8"/><stop offset="1" stop-color="#53bdd9"/></linearGradient><linearGradient id="p187" gradientUnits="userSpaceOnUse" x1="0" y1="103.4" x2="0" y2="53.4"><stop offset="0" stop-color="#2d64e4"/><stop offset="0.5" stop-color="#459ce8"/><stop offset="1" stop-color="#6ebee8"/></linearGradient><linearGradient id="p188" gradientUnits="userSpaceOnUse" x1="0" y1="103.4" x2="0" y2="53.4"><stop offset="0" stop-color="#56a9e8"/><stop offset="1" stop-color="#53bdd9"/></linearGradient><linearGradient id="p189" gradientUnits="userSpaceOnUse" x1="0" y1="103.4" x2="0" y2="53.4"><stop offset="0" stop-color="#30ac98"/><stop offset="0.5" stop-color="#f2be32"/><stop offset="1" stop-color="#e2c032"/></linearGradient><linearGradient id="p190" gradientUnits="userSpaceOnUse" x1="0" y1="103.4" x2="0" y2="53.4"><stop offset="0" stop-color="#2070e6"/><stop offset="0.2" stop-color="#52b16e"/><stop offset="0.45" stop-color="#f9a521"/><stop offset="0.6" stop-color="#f4761b"/><stop offset="0.8" stop-color="#d64034"/><stop offset="1" stop-color="#df4c2e"/></linearGradient><linearGradient id="p191" gradientUnits="userSpaceOnUse" x1="0" y1="103.4" x2="0" y2="53.4"><stop offset="0" stop-color="#2070e6"/><stop offset="0.3" stop-color="#cbc232"/><stop offset="0.5" stop-color="#f98d19"/><stop offset="0.65" stop-color="#f5b42b"/><stop offset="0.85" stop-color="#41ae83"/><stop offset="1" stop-color="#28aeaa"/></linearGradient><linearGradient id="p192" gradientUnits="userSpaceOnUse" x1="0" y1="103.4" x2="0" y2="53.4"><stop offset="0" stop-color="#2d64e4"/><stop offset="0.3" stop-color="#a5be36"/><stop offset="0.5" stop-color="#faa01e"/><stop offset="0.65" stop-color="#e2c032"/><stop offset="0.85" stop-color="#2bada4"/><stop offset="1" stop-color="#2fb3bf"/></linearGradient><linearGradient id="p193" gradientUnits="userSpaceOnUse" x1="0" y1="103.4" x2="0" y2="53.4"><stop offset="0" stop-color="#2070e6"/><stop offset="0.3" stop-color="#9bbd37"/><stop offset="0.45" stop-color="#f2be32"/><stop offset="0.6" stop-color="#df4c2e"/><stop offset="0.8" stop-color="#53bdd9"/><stop offset="1" stop-color="#53bdd9"/></linearGradient><linearGradient id="p194" gradientUnits="userSpaceOnUse" x1="0" y1="103.4" x2="0" y2="53.4"><stop offset="0" stop-color="#2d64e4"/><stop offset="0.3" stop-color="#75b74b"/><stop offset="0.45" stop-color="#d3c132"/><stop offset="0.6" stop-color="#eb5c26"/><stop offset="0.8" stop-color="#6ebee8"/><stop offset="1" stop-color="#6ebee8"/></linearGradient><linearGradient id="p195" gradientUnits="userSpaceOnUse" x1="0" y1="103.4" x2="0" y2="53.4"><stop offset="0" stop-color="#2070e6"/><stop offset="0.25" stop-color="#2a82e8"/><stop offset="0.4" stop-color="#53bdd9"/><stop offset="0.68" stop-color="#f2be32"/><stop offset="0.75" stop-color="#53bdd9"/><stop offset="1" stop-color="#53bdd9"/></linearGradient><linearGradient id="p196" gradientUnits="userSpaceOnUse" x1="0" y1="103.4" x2="0" y2="53.4"><stop offset="0" stop-color="#2d64e4"/><stop offset="0.25" stop-color="#2070e6"/><stop offset="0.4" stop-color="#6ebee8"/><stop offset="0.68" stop-color="#d3c132"/><stop offset="0.75" stop-color="#6ebee8"/><stop offset="1" stop-color="#6ebee8"/></linearGradient><linearGradient id="p197" gradientUnits="userSpaceOnUse" x1="0" y1="103.4" x2="0" y2="53.4"><stop offset="0" stop-color="#2070e6"/><stop offset="0.4" stop-color="#30ac98"/><stop offset="1" stop-color="#40bacd"/></linearGradient><linearGradient id="p198" gradientUnits="userSpaceOnUse" x1="0" y1="103.4" x2="0" y2="53.4"><stop offset="0" stop-color="#2d64e4"/><stop offset="0.4" stop-color="#26aeb0"/><stop offset="1" stop-color="#5abddd"/></linearGradient><linearGradient id="p199" gradientUnits="userSpaceOnUse" x1="0" y1="103.4" x2="0" y2="53.4"><stop offset="0" stop-color="#267ae7"/><stop offset="0.4" stop-color="#67bee4"/><stop offset="1" stop-color="#53bdd9"/></linearGradient><linearGradient id="p200" gradientUnits="userSpaceOnUse" x1="0" y1="103.4" x2="0" y2="53.4"><stop offset="0" stop-color="#2369e5"/><stop offset="0.4" stop-color="#56a9e8"/><stop offset="1" stop-color="#6ebee8"/></linearGradient><linearGradient id="p201" gradientUnits="userSpaceOnUse" x1="0" y1="103.4" x2="0" y2="53.4"><stop offset="0" stop-color="#267ae7"/><stop offset="1" stop-color="#5abddd"/></linearGradient><linearGradient id="p202" gradientUnits="userSpaceOnUse" x1="0" y1="103.4" x2="0" y2="53.4"><stop offset="0" stop-color="#2369e5"/><stop offset="1" stop-color="#66b7e8"/></linearGradient><linearGradient id="p203" gradientUnits="userSpaceOnUse" x1="0" y1="103.4" x2="0" y2="53.4"><stop offset="0" stop-color="#2a82e8"/><stop offset="1" stop-color="#5abddd"/></linearGradient><linearGradient id="p204" gradientUnits="userSpaceOnUse" x1="0" y1="103.4" x2="0" y2="53.4"><stop offset="0" stop-color="#267ae7"/><stop offset="0.4" stop-color="#30ac98"/><stop offset="1" stop-color="#28aeaa"/></linearGradient><linearGradient id="p205" gradientUnits="userSpaceOnUse" x1="0" y1="103.4" x2="0" y2="53.4"><stop offset="0" stop-color="#2369e5"/><stop offset="0.4" stop-color="#26aeb0"/><stop offset="1" stop-color="#2fb3bf"/></linearGradient><linearGradient id="p206" gradientUnits="userSpaceOnUse" x1="0" y1="103.4" x2="0" y2="53.4"><stop offset="0" stop-color="#34b6c4"/><stop offset="0.5" stop-color="#52b16e"/><stop offset="1" stop-color="#53bdd9"/></linearGradient><linearGradient id="p207" gradientUnits="userSpaceOnUse" x1="0" y1="103.4" x2="0" y2="53.4"><stop offset="0" stop-color="#4dbcd6"/><stop offset="0.5" stop-color="#30ac98"/><stop offset="1" stop-color="#6ebee8"/></linearGradient><linearGradient id="p208" gradientUnits="userSpaceOnUse" x1="0" y1="103.4" x2="0" y2="53.4"><stop offset="0" stop-color="#2070e6"/><stop offset="0.3" stop-color="#41ae83"/><stop offset="0.6" stop-color="#9bbd37"/><stop offset="0.85" stop-color="#6cb553"/><stop offset="1" stop-color="#c93436"/></linearGradient><linearGradient id="p209" gradientUnits="userSpaceOnUse" x1="0" y1="103.4" x2="0" y2="53.4"><stop offset="0" stop-color="#2d64e4"/><stop offset="0.3" stop-color="#2bada4"/><stop offset="0.6" stop-color="#75b74b"/><stop offset="0.85" stop-color="#49b079"/><stop offset="1" stop-color="#d64034"/></linearGradient><linearGradient id="cb210" gradientUnits="userSpaceOnUse" x1="0" y1="103.00" x2="0" y2="25.50"><stop offset="0.000" stop-color="#372896"/><stop offset="0.025" stop-color="#4532a8"/><stop offset="0.050" stop-color="#533dba"/><stop offset="0.075" stop-color="#5d46c8"/><stop offset="0.100" stop-color="#614dcf"/><stop offset="0.125" stop-color="#5e53d6"/><stop offset="0.150" stop-color="#4d57dd"/><stop offset="0.175" stop-color="#3c5de2"/><stop offset="0.200" stop-color="#2d64e4"/><stop offset="0.225" stop-color="#1e6ce6"/><stop offset="0.250" stop-color="#267ae7"/><stop offset="0.275" stop-color="#2d87e8"/><stop offset="0.300" stop-color="#459ce8"/><stop offset="0.325" stop-color="#5eb0e8"/><stop offset="0.350" stop-color="#67bee4"/><stop offset="0.375" stop-color="#53bdd9"/><stop offset="0.400" stop-color="#40bacd"/><stop offset="0.425" stop-color="#2fb3bf"/><stop offset="0.450" stop-color="#26aeb0"/><stop offset="0.475" stop-color="#2dad9e"/><stop offset="0.500" stop-color="#41ae83"/><stop offset="0.525" stop-color="#5ab264"/><stop offset="0.550" stop-color="#75b74b"/><stop offset="0.575" stop-color="#91bc39"/><stop offset="0.600" stop-color="#afc035"/><stop offset="0.625" stop-color="#cbc232"/><stop offset="0.650" stop-color="#e2c032"/><stop offset="0.675" stop-color="#f3b92f"/><stop offset="0.700" stop-color="#f7aa25"/><stop offset="0.725" stop-color="#fa9b1d"/><stop offset="0.750" stop-color="#f98d19"/><stop offset="0.775" stop-color="#f78018"/><stop offset="0.800" stop-color="#f3721d"/><stop offset="0.825" stop-color="#ef6422"/><stop offset="0.850" stop-color="#e85828"/><stop offset="0.875" stop-color="#df4c2e"/><stop offset="0.900" stop-color="#d64034"/><stop offset="0.925" stop-color="#cc3637"/><stop offset="0.950" stop-color="#c23034"/><stop offset="0.975" stop-color="#b72a31"/><stop offset="1.000" stop-color="#ac242e"/></linearGradient><linearGradient id="g211" x2="0" y2="1"><stop offset=".528" stop-color="#29b1bb"/><stop offset=".734" stop-color="#2fb3bf"/><stop offset=".852" stop-color="#5abddd"/><stop offset=".906" stop-color="#1e6ce6"/><stop offset="1" stop-color="#1e6ce6"/></linearGradient><linearGradient id="g212" x2="0" y2="1"><stop offset=".528" stop-color="#29b1bb"/><stop offset=".734" stop-color="#2fb3bf"/><stop offset=".852" stop-color="#5abddd"/><stop offset=".906" stop-color="#1e6ce6"/><stop offset="1" stop-color="#1e6ce6"/></linearGradient><linearGradient id="g213" x2="0" y2="1"><stop offset=".528" stop-color="#29b1bb"/><stop offset=".734" stop-color="#2fb3bf"/><stop offset=".852" stop-color="#5abddd"/><stop offset=".906" stop-color="#1e6ce6"/><stop offset="1" stop-color="#1e6ce6"/></linearGradient><linearGradient id="g214" x2="0" y2="1"><stop offset=".528" stop-color="#29b1bb"/><stop offset=".734" stop-color="#2fb3bf"/><stop offset=".852" stop-color="#5abddd"/><stop offset=".906" stop-color="#1e6ce6"/><stop offset="1" stop-color="#1e6ce6"/></linearGradient><linearGradient id="g215" x2="0" y2="1"><stop offset=".528" stop-color="#29b1bb"/><stop offset=".734" stop-color="#2fb3bf"/><stop offset=".852" stop-color="#5abddd"/><stop offset=".906" stop-color="#1e6ce6"/><stop offset="1" stop-color="#1e6ce6"/></linearGradient><linearGradient id="g216" x2="0" y2="1"><stop offset=".528" stop-color="#29b1bb"/><stop offset=".734" stop-color="#2fb3bf"/><stop offset=".852" stop-color="#5abddd"/><stop offset=".906" stop-color="#1e6ce6"/><stop offset="1" stop-color="#1e6ce6"/></linearGradient><linearGradient id="g217" x2="0" y2="1"><stop offset=".528" stop-color="#26b0b8"/><stop offset=".734" stop-color="#2db3be"/><stop offset=".852" stop-color="#58bddc"/><stop offset=".906" stop-color="#1e6ce6"/><stop offset="1" stop-color="#1e6ce6"/></linearGradient><linearGradient id="g218" x2="0" y2="1"><stop offset=".528" stop-color="#24afb3"/><stop offset=".734" stop-color="#2ab2bc"/><stop offset=".852" stop-color="#55bdda"/><stop offset=".906" stop-color="#1e6ce6"/><stop offset="1" stop-color="#1e6ce6"/></linearGradient><linearGradient id="g219" x2="0" y2="1"><stop offset=".528" stop-color="#28aeaa"/><stop offset=".734" stop-color="#24b0b7"/><stop offset=".852" stop-color="#52bdd8"/><stop offset=".906" stop-color="#1e6ce6"/><stop offset="1" stop-color="#1e6ce6"/></linearGradient><linearGradient id="g220" x2="0" y2="1"><stop offset=".528" stop-color="#2dad9e"/><stop offset=".734" stop-color="#26aeae"/><stop offset=".852" stop-color="#4ebcd7"/><stop offset=".906" stop-color="#1e6ce6"/><stop offset="1" stop-color="#1e6ce6"/></linearGradient><linearGradient id="g221" x2="0" y2="1"><stop offset=".528" stop-color="#49b079"/><stop offset=".734" stop-color="#2dada0"/><stop offset=".852" stop-color="#49bcd4"/><stop offset=".906" stop-color="#1f6de6"/><stop offset="1" stop-color="#1f6de6"/></linearGradient><linearGradient id="g222" x2="0" y2="1"><stop offset=".528" stop-color="#7eb842"/><stop offset=".734" stop-color="#43af81"/><stop offset=".852" stop-color="#43bbd0"/><stop offset=".906" stop-color="#206fe6"/><stop offset="1" stop-color="#206fe6"/></linearGradient><linearGradient id="g223" x2="0" y2="1"><stop offset=".528" stop-color="#a2be36"/><stop offset=".734" stop-color="#5ab264"/><stop offset=".852" stop-color="#3cb8ca"/><stop offset=".906" stop-color="#2070e6"/><stop offset="1" stop-color="#2070e6"/></linearGradient><linearGradient id="g224" x2="0" y2="1"><stop offset=".528" stop-color="#afc035"/><stop offset=".734" stop-color="#6cb553"/><stop offset=".852" stop-color="#34b6c4"/><stop offset=".906" stop-color="#2070e6"/><stop offset="1" stop-color="#2070e6"/></linearGradient><linearGradient id="g225" x2="0" y2="1"><stop offset=".528" stop-color="#bcc233"/><stop offset=".734" stop-color="#7eb842"/><stop offset=".852" stop-color="#2db3be"/><stop offset=".906" stop-color="#2070e6"/><stop offset="1" stop-color="#2070e6"/></linearGradient><linearGradient id="g226" x2="0" y2="1"><stop offset=".528" stop-color="#c4c332"/><stop offset=".734" stop-color="#89ba3a"/><stop offset=".852" stop-color="#28b1ba"/><stop offset=".906" stop-color="#2070e6"/><stop offset="1" stop-color="#2070e6"/></linearGradient><linearGradient id="g227" x2="0" y2="1"><stop offset=".528" stop-color="#c7c332"/><stop offset=".734" stop-color="#8cbb39"/><stop offset=".852" stop-color="#26b0b8"/><stop offset=".906" stop-color="#2070e6"/><stop offset="1" stop-color="#2070e6"/></linearGradient><linearGradient id="g228" x2="0" y2="1"><stop offset=".528" stop-color="#cac232"/><stop offset=".734" stop-color="#8fbb39"/><stop offset=".852" stop-color="#24afb7"/><stop offset=".906" stop-color="#2070e6"/><stop offset="1" stop-color="#2070e6"/></linearGradient><linearGradient id="g229" x2="0" y2="1"><stop offset=".528" stop-color="#cdc232"/><stop offset=".734" stop-color="#8ebb39"/><stop offset=".852" stop-color="#23afb6"/><stop offset=".906" stop-color="#2172e6"/><stop offset="1" stop-color="#2172e6"/></linearGradient><linearGradient id="g230" x2="0" y2="1"><stop offset=".528" stop-color="#d1c232"/><stop offset=".734" stop-color="#8aba3a"/><stop offset=".852" stop-color="#23afb6"/><stop offset=".906" stop-color="#2274e7"/><stop offset="1" stop-color="#2274e7"/></linearGradient><linearGradient id="g231" x2="0" y2="1"><stop offset=".528" stop-color="#d3c132"/><stop offset=".734" stop-color="#82b93e"/><stop offset=".852" stop-color="#24afb7"/><stop offset=".906" stop-color="#2375e7"/><stop offset="1" stop-color="#2375e7"/></linearGradient><linearGradient id="g232" x2="0" y2="1"><stop offset=".528" stop-color="#d3c132"/><stop offset=".734" stop-color="#7ab847"/><stop offset=".852" stop-color="#26b0b8"/><stop offset=".906" stop-color="#2375e7"/><stop offset="1" stop-color="#2375e7"/></linearGradient><linearGradient id="g233" x2="0" y2="1"><stop offset=".528" stop-color="#d3c132"/><stop offset=".734" stop-color="#70b64f"/><stop offset=".852" stop-color="#28b1ba"/><stop offset=".906" stop-color="#2375e7"/><stop offset="1" stop-color="#2375e7"/></linearGradient><linearGradient id="g234" x2="0" y2="1"><stop offset=".528" stop-color="#d0c232"/><stop offset=".734" stop-color="#67b458"/><stop offset=".852" stop-color="#2bb2bd"/><stop offset=".906" stop-color="#2375e7"/><stop offset="1" stop-color="#2375e7"/></linearGradient><linearGradient id="g235" x2="0" y2="1"><stop offset=".528" stop-color="#c9c232"/><stop offset=".734" stop-color="#5cb262"/><stop offset=".852" stop-color="#30b4c0"/><stop offset=".906" stop-color="#2375e7"/><stop offset="1" stop-color="#2375e7"/></linearGradient><linearGradient id="g236" x2="0" y2="1"><stop offset=".528" stop-color="#c3c332"/><stop offset=".734" stop-color="#52b16e"/><stop offset=".852" stop-color="#34b6c4"/><stop offset=".906" stop-color="#2375e7"/><stop offset="1" stop-color="#2375e7"/></linearGradient><linearGradient id="g237" x2="0" y2="1"><stop offset=".528" stop-color="#b3c134"/><stop offset=".734" stop-color="#44af7f"/><stop offset=".852" stop-color="#39b7c8"/><stop offset=".906" stop-color="#2477e7"/><stop offset="1" stop-color="#2477e7"/></linearGradient><linearGradient id="g238" x2="0" y2="1"><stop offset=".528" stop-color="#a3be36"/><stop offset=".734" stop-color="#37ad90"/><stop offset=".852" stop-color="#3eb9cb"/><stop offset=".906" stop-color="#2579e7"/><stop offset="1" stop-color="#2579e7"/></linearGradient><linearGradient id="g239" x2="0" y2="1"><stop offset=".528" stop-color="#9bbd37"/><stop offset=".734" stop-color="#30ac98"/><stop offset=".852" stop-color="#43bbd0"/><stop offset=".906" stop-color="#267be7"/><stop offset="1" stop-color="#267be7"/></linearGradient><linearGradient id="g240" x2="0" y2="1"><stop offset=".528" stop-color="#9bbd37"/><stop offset=".734" stop-color="#30ac98"/><stop offset=".852" stop-color="#49bcd4"/><stop offset=".906" stop-color="#277de7"/><stop offset="1" stop-color="#277de7"/></linearGradient><linearGradient id="g241" x2="0" y2="1"><stop offset=".528" stop-color="#9bbd37"/><stop offset=".734" stop-color="#38ad8e"/><stop offset=".852" stop-color="#49bcd4"/><stop offset=".906" stop-color="#2c85e8"/><stop offset="1" stop-color="#2c85e8"/></linearGradient><linearGradient id="g242" x2="0" y2="1"><stop offset=".528" stop-color="#9bbd37"/><stop offset=".734" stop-color="#49b079"/><stop offset=".852" stop-color="#43bbd0"/><stop offset=".906" stop-color="#4198e8"/><stop offset="1" stop-color="#4198e8"/></linearGradient><linearGradient id="g243" x2="0" y2="1"><stop offset=".528" stop-color="#9bbd37"/><stop offset=".734" stop-color="#52b16e"/><stop offset=".852" stop-color="#3eb9cc"/><stop offset=".906" stop-color="#50a5e8"/><stop offset="1" stop-color="#50a5e8"/></linearGradient><linearGradient id="g244" x2="0" y2="1"><stop offset=".528" stop-color="#9bbd37"/><stop offset=".734" stop-color="#52b16e"/><stop offset=".852" stop-color="#3ab8c9"/><stop offset=".906" stop-color="#56a9e8"/><stop offset="1" stop-color="#56a9e8"/></linearGradient><linearGradient id="g245" x2="0" y2="1"><stop offset=".528" stop-color="#9bbd37"/><stop offset=".734" stop-color="#52b16e"/><stop offset=".852" stop-color="#36b6c6"/><stop offset=".906" stop-color="#5baee8"/><stop offset="1" stop-color="#5baee8"/></linearGradient><linearGradient id="g246" x2="0" y2="1"><stop offset=".528" stop-color="#99bd38"/><stop offset=".734" stop-color="#50b170"/><stop offset=".852" stop-color="#34b6c4"/><stop offset=".906" stop-color="#5eb0e8"/><stop offset="1" stop-color="#5eb0e8"/></linearGradient><linearGradient id="g247" x2="0" y2="1"><stop offset=".528" stop-color="#96bc38"/><stop offset=".734" stop-color="#4db074"/><stop offset=".852" stop-color="#34b6c4"/><stop offset=".906" stop-color="#5eb0e8"/><stop offset="1" stop-color="#5eb0e8"/></linearGradient><linearGradient id="g248" x2="0" y2="1"><stop offset=".528" stop-color="#93bc38"/><stop offset=".734" stop-color="#4bb077"/><stop offset=".852" stop-color="#34b6c4"/><stop offset=".906" stop-color="#5eb0e8"/><stop offset="1" stop-color="#5eb0e8"/></linearGradient><linearGradient id="g249" x2="0" y2="1"><stop offset=".528" stop-color="#93bc38"/><stop offset=".734" stop-color="#4bb077"/><stop offset=".852" stop-color="#37b6c6"/><stop offset=".906" stop-color="#5baee8"/><stop offset="1" stop-color="#5baee8"/></linearGradient><linearGradient id="g250" x2="0" y2="1"><stop offset=".528" stop-color="#97bc38"/><stop offset=".734" stop-color="#4eb073"/><stop offset=".852" stop-color="#3cb8ca"/><stop offset=".906" stop-color="#54a8e8"/><stop offset="1" stop-color="#54a8e8"/></linearGradient><linearGradient id="g251" x2="0" y2="1"><stop offset=".528" stop-color="#9bbd37"/><stop offset=".734" stop-color="#52b16e"/><stop offset=".852" stop-color="#40bacd"/><stop offset=".906" stop-color="#4ea2e8"/><stop offset="1" stop-color="#4ea2e8"/></linearGradient><linearGradient id="g252" x2="0" y2="1"><stop offset=".528" stop-color="#a8bf36"/><stop offset=".734" stop-color="#4cb075"/><stop offset=".852" stop-color="#40bacd"/><stop offset=".906" stop-color="#3890e8"/><stop offset="1" stop-color="#3890e8"/></linearGradient><linearGradient id="g253" x2="0" y2="1"><stop offset=".528" stop-color="#a5be36"/><stop offset=".734" stop-color="#43af81"/><stop offset=".852" stop-color="#40bacd"/><stop offset=".906" stop-color="#3991e8"/><stop offset="1" stop-color="#3991e8"/></linearGradient><linearGradient id="g254" x2="0" y2="1"><stop offset=".528" stop-color="#91bc39"/><stop offset=".734" stop-color="#36ad90"/><stop offset=".852" stop-color="#40bacd"/><stop offset=".906" stop-color="#52a6e8"/><stop offset="1" stop-color="#52a6e8"/></linearGradient><linearGradient id="g255" x2="0" y2="1"><stop offset=".528" stop-color="#7eb842"/><stop offset=".734" stop-color="#2eac9c"/><stop offset=".852" stop-color="#40bacd"/><stop offset=".906" stop-color="#62b4e8"/><stop offset="1" stop-color="#62b4e8"/></linearGradient><linearGradient id="g256" x2="0" y2="1"><stop offset=".528" stop-color="#6cb553"/><stop offset=".734" stop-color="#2aada6"/><stop offset=".852" stop-color="#40bacd"/><stop offset=".906" stop-color="#6abbe8"/><stop offset="1" stop-color="#6abbe8"/></linearGradient><linearGradient id="g257" x2="0" y2="1"><stop offset=".528" stop-color="#5ab264"/><stop offset=".734" stop-color="#26aeae"/><stop offset=".852" stop-color="#43bbd0"/><stop offset=".906" stop-color="#6ebee8"/><stop offset="1" stop-color="#6ebee8"/></linearGradient><linearGradient id="g258" x2="0" y2="1"><stop offset=".528" stop-color="#49b079"/><stop offset=".734" stop-color="#24b0b7"/><stop offset=".852" stop-color="#49bcd4"/><stop offset=".906" stop-color="#6ebee8"/><stop offset="1" stop-color="#6ebee8"/></linearGradient><linearGradient id="g259" x2="0" y2="1"><stop offset=".528" stop-color="#3dae88"/><stop offset=".734" stop-color="#27b1ba"/><stop offset=".852" stop-color="#49bcd4"/><stop offset=".906" stop-color="#6bbee6"/><stop offset="1" stop-color="#6bbee6"/></linearGradient><linearGradient id="g260" x2="0" y2="1"><stop offset=".528" stop-color="#34ad93"/><stop offset=".734" stop-color="#24b0b7"/><stop offset=".852" stop-color="#43bbd0"/><stop offset=".906" stop-color="#64bee2"/><stop offset="1" stop-color="#64bee2"/></linearGradient><linearGradient id="g261" x2="0" y2="1"><stop offset=".528" stop-color="#30ac98"/><stop offset=".734" stop-color="#24afb3"/><stop offset=".852" stop-color="#3fb9cc"/><stop offset=".906" stop-color="#5dbddf"/><stop offset="1" stop-color="#5dbddf"/></linearGradient><linearGradient id="g262" x2="0" y2="1"><stop offset=".528" stop-color="#30ac98"/><stop offset=".734" stop-color="#27aead"/><stop offset=".852" stop-color="#3cb8ca"/><stop offset=".906" stop-color="#57bddb"/><stop offset="1" stop-color="#57bddb"/></linearGradient><linearGradient id="g263" x2="0" y2="1"><stop offset=".528" stop-color="#36ad91"/><stop offset=".734" stop-color="#29aea8"/><stop offset=".852" stop-color="#38b7c7"/><stop offset=".906" stop-color="#51bdd8"/><stop offset="1" stop-color="#51bdd8"/></linearGradient><linearGradient id="g264" x2="0" y2="1"><stop offset=".528" stop-color="#41ae83"/><stop offset=".734" stop-color="#2bada4"/><stop offset=".852" stop-color="#34b6c4"/><stop offset=".906" stop-color="#4dbcd6"/><stop offset="1" stop-color="#4dbcd6"/></linearGradient><linearGradient id="g265" x2="0" y2="1"><stop offset=".528" stop-color="#4cb075"/><stop offset=".734" stop-color="#2dada0"/><stop offset=".852" stop-color="#31b4c1"/><stop offset=".906" stop-color="#48bcd3"/><stop offset="1" stop-color="#48bcd3"/></linearGradient><linearGradient id="g266" x2="0" y2="1"><stop offset=".528" stop-color="#4fb072"/><stop offset=".734" stop-color="#2dad9e"/><stop offset=".852" stop-color="#2eb3bf"/><stop offset=".906" stop-color="#46bcd2"/><stop offset="1" stop-color="#46bcd2"/></linearGradient><linearGradient id="g267" x2="0" y2="1"><stop offset=".528" stop-color="#49b079"/><stop offset=".734" stop-color="#2dad9e"/><stop offset=".852" stop-color="#2cb2bd"/><stop offset=".906" stop-color="#46bcd2"/><stop offset="1" stop-color="#46bcd2"/></linearGradient><linearGradient id="g268" x2="0" y2="1"><stop offset=".528" stop-color="#44af80"/><stop offset=".734" stop-color="#2dad9e"/><stop offset=".852" stop-color="#2ab2bb"/><stop offset=".906" stop-color="#46bcd2"/><stop offset="1" stop-color="#46bcd2"/></linearGradient><linearGradient id="g269" x2="0" y2="1"><stop offset=".528" stop-color="#3dae88"/><stop offset=".734" stop-color="#2dada0"/><stop offset=".852" stop-color="#2cb2bd"/><stop offset=".906" stop-color="#46bcd2"/><stop offset="1" stop-color="#46bcd2"/></linearGradient><linearGradient id="g270" x2="0" y2="1"><stop offset=".528" stop-color="#34ad93"/><stop offset=".734" stop-color="#2bada4"/><stop offset=".852" stop-color="#32b4c2"/><stop offset=".906" stop-color="#46bcd2"/><stop offset="1" stop-color="#46bcd2"/></linearGradient><linearGradient id="g271" x2="0" y2="1"><stop offset=".528" stop-color="#2fac9b"/><stop offset=".734" stop-color="#29aea8"/><stop offset=".852" stop-color="#37b7c6"/><stop offset=".906" stop-color="#46bcd2"/><stop offset="1" stop-color="#46bcd2"/></linearGradient><linearGradient id="g272" x2="0" y2="1"><stop offset=".528" stop-color="#2dada0"/><stop offset=".734" stop-color="#28aeab"/><stop offset=".852" stop-color="#3ab8c9"/><stop offset=".906" stop-color="#46bcd2"/><stop offset="1" stop-color="#46bcd2"/></linearGradient><linearGradient id="g273" x2="0" y2="1"><stop offset=".528" stop-color="#2bada2"/><stop offset=".734" stop-color="#27aeac"/><stop offset=".852" stop-color="#3ab8c9"/><stop offset=".906" stop-color="#46bcd2"/><stop offset="1" stop-color="#46bcd2"/></linearGradient><linearGradient id="g274" x2="0" y2="1"><stop offset=".528" stop-color="#2aada6"/><stop offset=".734" stop-color="#27aeae"/><stop offset=".852" stop-color="#3ab8c9"/><stop offset=".906" stop-color="#46bcd2"/><stop offset="1" stop-color="#46bcd2"/></linearGradient><linearGradient id="g275" x2="0" y2="1"><stop offset=".528" stop-color="#29aea8"/><stop offset=".734" stop-color="#26aeaf"/><stop offset=".852" stop-color="#3ab8c9"/><stop offset=".906" stop-color="#46bcd2"/><stop offset="1" stop-color="#46bcd2"/></linearGradient><linearGradient id="g276" x2="0" y2="1"><stop offset=".528" stop-color="#28aeab"/><stop offset=".734" stop-color="#26aeb0"/><stop offset=".852" stop-color="#3ab8c9"/><stop offset=".906" stop-color="#46bcd2"/><stop offset="1" stop-color="#46bcd2"/></linearGradient><linearGradient id="g277" x2="0" y2="1"><stop offset=".528" stop-color="#27aeac"/><stop offset=".734" stop-color="#26aeb0"/><stop offset=".852" stop-color="#3ab8c9"/><stop offset=".906" stop-color="#46bcd2"/><stop offset="1" stop-color="#46bcd2"/></linearGradient><linearGradient id="g278" x2="0" y2="1"><stop offset=".528" stop-color="#27aead"/><stop offset=".734" stop-color="#26aeb0"/><stop offset=".852" stop-color="#3ab8c9"/><stop offset=".906" stop-color="#46bcd2"/><stop offset="1" stop-color="#46bcd2"/></linearGradient><linearGradient id="g279" x2="0" y2="1"><stop offset=".528" stop-color="#26aeae"/><stop offset=".734" stop-color="#26aeb0"/><stop offset=".852" stop-color="#3ab8c9"/><stop offset=".906" stop-color="#46bcd2"/><stop offset="1" stop-color="#46bcd2"/></linearGradient><linearGradient id="g280" x2="0" y2="1"><stop offset=".528" stop-color="#26aeaf"/><stop offset=".734" stop-color="#26aeb0"/><stop offset=".852" stop-color="#3ab8c9"/><stop offset=".906" stop-color="#46bcd2"/><stop offset="1" stop-color="#46bcd2"/></linearGradient><linearGradient id="g281" x2="0" y2="1"><stop offset=".528" stop-color="#26aeb0"/><stop offset=".734" stop-color="#26aeb0"/><stop offset=".852" stop-color="#3ab8c9"/><stop offset=".906" stop-color="#46bcd2"/><stop offset="1" stop-color="#46bcd2"/></linearGradient><linearGradient id="g282" x2="0" y2="1"><stop offset=".528" stop-color="#26aeb0"/><stop offset=".734" stop-color="#26aeb0"/><stop offset=".852" stop-color="#3ab8c9"/><stop offset=".906" stop-color="#46bcd2"/><stop offset="1" stop-color="#46bcd2"/></linearGradient><linearGradient id="g283" x2="0" y2="1"><stop offset=".528" stop-color="#26aeb0"/><stop offset=".734" stop-color="#26aeb0"/><stop offset=".852" stop-color="#3ab8c9"/><stop offset=".906" stop-color="#46bcd2"/><stop offset="1" stop-color="#46bcd2"/></linearGradient><linearGradient id="g284" x2="0" y2="1"><stop offset=".528" stop-color="#26aeb0"/><stop offset=".734" stop-color="#26aeb0"/><stop offset=".852" stop-color="#3ab8c9"/><stop offset=".906" stop-color="#46bcd2"/><stop offset="1" stop-color="#46bcd2"/></linearGradient><linearGradient id="g285" x2="0" y2="1"><stop offset=".528" stop-color="#26aeb0"/><stop offset=".734" stop-color="#26aeb0"/><stop offset=".852" stop-color="#3ab8c9"/><stop offset=".906" stop-color="#46bcd2"/><stop offset="1" stop-color="#46bcd2"/></linearGradient><linearGradient id="g286" x2="0" y2="1"><stop offset=".528" stop-color="#26aeb0"/><stop offset=".734" stop-color="#25aeb1"/><stop offset=".852" stop-color="#3ab8c9"/><stop offset=".906" stop-color="#46bcd2"/><stop offset="1" stop-color="#46bcd2"/></linearGradient><linearGradient id="g287" x2="0" y2="1"><stop offset=".528" stop-color="#26aeb0"/><stop offset=".734" stop-color="#25afb2"/><stop offset=".852" stop-color="#3ab8c9"/><stop offset=".906" stop-color="#46bcd2"/><stop offset="1" stop-color="#46bcd2"/></linearGradient><linearGradient id="g288" x2="0" y2="1"><stop offset=".528" stop-color="#26aeb0"/><stop offset=".734" stop-color="#24afb3"/><stop offset=".852" stop-color="#3ab8c9"/><stop offset=".906" stop-color="#46bcd2"/><stop offset="1" stop-color="#46bcd2"/></linearGradient><linearGradient id="g289" x2="0" y2="1"><stop offset=".531" stop-color="#26aeb0"/><stop offset=".734" stop-color="#24afb4"/><stop offset=".852" stop-color="#3ab8c9"/><stop offset=".906" stop-color="#46bcd2"/><stop offset="1" stop-color="#46bcd2"/></linearGradient><linearGradient id="g290" x2="0" y2="1"><stop offset=".537" stop-color="#26aeb0"/><stop offset=".734" stop-color="#23afb5"/><stop offset=".852" stop-color="#3ab8c9"/><stop offset=".906" stop-color="#46bcd2"/><stop offset="1" stop-color="#46bcd2"/></linearGradient><linearGradient id="p291" gradientUnits="userSpaceOnUse" x1="0" y1="227.4" x2="0" y2="177.4"><stop offset="0" stop-color="#614dcf"/><stop offset="0.12" stop-color="#6452d4"/><stop offset="0.3" stop-color="#53bdd9"/><stop offset="0.4" stop-color="#75b74b"/><stop offset="0.5" stop-color="#28aeaa"/><stop offset="0.55" stop-color="#6cb553"/><stop offset="0.65" stop-color="#3d95e8"/><stop offset="0.8" stop-color="#56a9e8"/><stop offset="1" stop-color="#53bdd9"/></linearGradient><linearGradient id="p292" gradientUnits="userSpaceOnUse" x1="0" y1="227.4" x2="0" y2="177.4"><stop offset="0" stop-color="#5d46c8"/><stop offset="0.12" stop-color="#604bcd"/><stop offset="0.3" stop-color="#67bee4"/><stop offset="0.4" stop-color="#5ab264"/><stop offset="0.5" stop-color="#29b1bb"/><stop offset="0.55" stop-color="#52b16e"/><stop offset="0.65" stop-color="#2a82e8"/><stop offset="0.8" stop-color="#3d95e8"/><stop offset="1" stop-color="#67bee4"/></linearGradient><linearGradient id="p293" gradientUnits="userSpaceOnUse" x1="0" y1="227.4" x2="0" y2="177.4"><stop offset="0" stop-color="#6452d4"/><stop offset="0.15" stop-color="#28aeaa"/><stop offset="0.3" stop-color="#cbc232"/><stop offset="0.5" stop-color="#f9a521"/><stop offset="0.7" stop-color="#f98d19"/><stop offset="1" stop-color="#f4761b"/></linearGradient><linearGradient id="p294" gradientUnits="userSpaceOnUse" x1="0" y1="227.4" x2="0" y2="177.4"><stop offset="0" stop-color="#cbc232"/><stop offset="0.6" stop-color="#f2be32"/><stop offset="0.8" stop-color="#f9971b"/><stop offset="1" stop-color="#f88416"/></linearGradient><linearGradient id="p295" gradientUnits="userSpaceOnUse" x1="0" y1="227.4" x2="0" y2="177.4"><stop offset="0" stop-color="#6452d4"/><stop offset="0.08" stop-color="#2867e5"/><stop offset="0.2" stop-color="#3d95e8"/><stop offset="0.35" stop-color="#40bacd"/><stop offset="0.5" stop-color="#30ac98"/><stop offset="0.65" stop-color="#d3c132"/><stop offset="0.8" stop-color="#52b16e"/><stop offset="1" stop-color="#6cb553"/></linearGradient><linearGradient id="p296" gradientUnits="userSpaceOnUse" x1="0" y1="227.4" x2="0" y2="177.4"><stop offset="0" stop-color="#53bdd9"/><stop offset="0.4" stop-color="#75b74b"/><stop offset="0.5" stop-color="#52b16e"/><stop offset="0.8" stop-color="#40bacd"/><stop offset="1" stop-color="#53bdd9"/></linearGradient><linearGradient id="p297" gradientUnits="userSpaceOnUse" x1="0" y1="227.4" x2="0" y2="177.4"><stop offset="0" stop-color="#415ae1"/><stop offset="0.08" stop-color="#267ae7"/><stop offset="0.2" stop-color="#9bbd37"/><stop offset="0.4" stop-color="#41ae83"/><stop offset="0.7" stop-color="#53bdd9"/><stop offset="1" stop-color="#53bdd9"/></linearGradient><linearGradient id="p298" gradientUnits="userSpaceOnUse" x1="0" y1="227.4" x2="0" y2="177.4"><stop offset="0" stop-color="#6452d4"/><stop offset="0.08" stop-color="#2d64e4"/><stop offset="0.2" stop-color="#63b45c"/><stop offset="0.4" stop-color="#26aeb0"/><stop offset="0.7" stop-color="#5eb0e8"/><stop offset="1" stop-color="#5eb0e8"/></linearGradient><linearGradient id="p299" gradientUnits="userSpaceOnUse" x1="0" y1="227.4" x2="0" y2="177.4"><stop offset="0" stop-color="#2070e6"/><stop offset="0.15" stop-color="#56a9e8"/><stop offset="0.4" stop-color="#4dbcd6"/><stop offset="0.7" stop-color="#67bee4"/><stop offset="1" stop-color="#40bacd"/></linearGradient><linearGradient id="p300" gradientUnits="userSpaceOnUse" x1="0" y1="227.4" x2="0" y2="177.4"><stop offset="0" stop-color="#5855d8"/><stop offset="0.15" stop-color="#2369e5"/><stop offset="0.4" stop-color="#358ee8"/><stop offset="0.7" stop-color="#267ae7"/><stop offset="1" stop-color="#459ce8"/></linearGradient><linearGradient id="p301" gradientUnits="userSpaceOnUse" x1="0" y1="227.4" x2="0" y2="177.4"><stop offset="0" stop-color="#66b7e8"/><stop offset="0.5" stop-color="#40bacd"/><stop offset="0.7" stop-color="#30ac98"/><stop offset="1" stop-color="#53bdd9"/></linearGradient><linearGradient id="p302" gradientUnits="userSpaceOnUse" x1="0" y1="227.4" x2="0" y2="177.4"><stop offset="0" stop-color="#2070e6"/><stop offset="0.2" stop-color="#459ce8"/><stop offset="0.5" stop-color="#66b7e8"/><stop offset="0.7" stop-color="#459ce8"/><stop offset="1" stop-color="#56a9e8"/></linearGradient><linearGradient id="p303" gradientUnits="userSpaceOnUse" x1="0" y1="227.4" x2="0" y2="177.4"><stop offset="0" stop-color="#5855d8"/><stop offset="0.2" stop-color="#2d64e4"/><stop offset="0.5" stop-color="#2070e6"/><stop offset="0.7" stop-color="#2d64e4"/><stop offset="1" stop-color="#2369e5"/></linearGradient><linearGradient id="p304" gradientUnits="userSpaceOnUse" x1="0" y1="227.4" x2="0" y2="177.4"><stop offset="0" stop-color="#2070e6"/><stop offset="0.2" stop-color="#66b7e8"/><stop offset="0.45" stop-color="#5abddd"/><stop offset="0.6" stop-color="#2bada4"/><stop offset="0.8" stop-color="#66b7e8"/><stop offset="1" stop-color="#358ee8"/></linearGradient><linearGradient id="p305" gradientUnits="userSpaceOnUse" x1="0" y1="227.4" x2="0" y2="177.4"><stop offset="0" stop-color="#5855d8"/><stop offset="0.2" stop-color="#2070e6"/><stop offset="0.45" stop-color="#2a82e8"/><stop offset="0.6" stop-color="#5abddd"/><stop offset="0.8" stop-color="#2070e6"/><stop offset="1" stop-color="#375fe2"/></linearGradient><linearGradient id="p306" gradientUnits="userSpaceOnUse" x1="0" y1="227.4" x2="0" y2="177.4"><stop offset="0" stop-color="#2070e6"/><stop offset="0.3" stop-color="#67bee4"/><stop offset="0.5" stop-color="#56a9e8"/><stop offset="0.7" stop-color="#53bdd9"/><stop offset="1" stop-color="#30ac98"/></linearGradient><linearGradient id="p307" gradientUnits="userSpaceOnUse" x1="0" y1="227.4" x2="0" y2="177.4"><stop offset="0" stop-color="#5855d8"/><stop offset="0.3" stop-color="#267ae7"/><stop offset="0.5" stop-color="#2369e5"/><stop offset="0.7" stop-color="#2d87e8"/><stop offset="1" stop-color="#4dbcd6"/></linearGradient><linearGradient id="p308" gradientUnits="userSpaceOnUse" x1="0" y1="227.4" x2="0" y2="177.4"><stop offset="0" stop-color="#2070e6"/><stop offset="0.3" stop-color="#66b7e8"/><stop offset="0.5" stop-color="#5abddd"/><stop offset="0.7" stop-color="#66b7e8"/><stop offset="0.9" stop-color="#56a9e8"/><stop offset="1" stop-color="#52b16e"/></linearGradient><linearGradient id="p309" gradientUnits="userSpaceOnUse" x1="0" y1="227.4" x2="0" y2="177.4"><stop offset="0" stop-color="#5855d8"/><stop offset="0.3" stop-color="#2070e6"/><stop offset="0.5" stop-color="#2a82e8"/><stop offset="0.7" stop-color="#2070e6"/><stop offset="0.9" stop-color="#2369e5"/><stop offset="1" stop-color="#34b6c4"/></linearGradient><linearGradient id="p310" gradientUnits="userSpaceOnUse" x1="0" y1="227.4" x2="0" y2="177.4"><stop offset="0" stop-color="#2070e6"/><stop offset="0.3" stop-color="#56a9e8"/><stop offset="0.6" stop-color="#67bee4"/><stop offset="0.9" stop-color="#66b7e8"/><stop offset="1" stop-color="#34b6c4"/></linearGradient><linearGradient id="p311" gradientUnits="userSpaceOnUse" x1="0" y1="227.4" x2="0" y2="177.4"><stop offset="0" stop-color="#5855d8"/><stop offset="0.3" stop-color="#2369e5"/><stop offset="0.6" stop-color="#267ae7"/><stop offset="0.9" stop-color="#2070e6"/><stop offset="1" stop-color="#56a9e8"/></linearGradient><linearGradient id="p312" gradientUnits="userSpaceOnUse" x1="0" y1="227.4" x2="0" y2="177.4"><stop offset="0" stop-color="#66b7e8"/><stop offset="0.5" stop-color="#4dbcd6"/><stop offset="1" stop-color="#40bacd"/></linearGradient><linearGradient id="p313" gradientUnits="userSpaceOnUse" x1="0" y1="227.4" x2="0" y2="177.4"><stop offset="0" stop-color="#2070e6"/><stop offset="0.5" stop-color="#358ee8"/><stop offset="1" stop-color="#459ce8"/></linearGradient><linearGradient id="g314" x2="0" y2="1"><stop offset=".552" stop-color="#26aeb0"/><stop offset=".734" stop-color="#2cb2bd"/><stop offset=".864" stop-color="#43bbd0"/><stop offset=".929" stop-color="#6ebee8"/><stop offset="1" stop-color="#6ebee8"/></linearGradient><linearGradient id="g315" x2="0" y2="1"><stop offset=".541" stop-color="#2bada4"/><stop offset=".734" stop-color="#26b0b8"/><stop offset=".864" stop-color="#3db9cb"/><stop offset=".929" stop-color="#6ebee8"/><stop offset="1" stop-color="#6ebee8"/></linearGradient><linearGradient id="g316" x2="0" y2="1"><stop offset=".528" stop-color="#2fac9b"/><stop offset=".734" stop-color="#24afb4"/><stop offset=".864" stop-color="#3ab8c9"/><stop offset=".929" stop-color="#6ebee8"/><stop offset="1" stop-color="#6ebee8"/></linearGradient><linearGradient id="g317" x2="0" y2="1"><stop offset=".528" stop-color="#34ad93"/><stop offset=".734" stop-color="#26aeb0"/><stop offset=".864" stop-color="#3ab8c9"/><stop offset=".929" stop-color="#6ebee8"/><stop offset="1" stop-color="#6ebee8"/></linearGradient><linearGradient id="g318" x2="0" y2="1"><stop offset=".528" stop-color="#3dae88"/><stop offset=".734" stop-color="#27aeac"/><stop offset=".864" stop-color="#3ab8c9"/><stop offset=".929" stop-color="#6ebee8"/><stop offset="1" stop-color="#6ebee8"/></linearGradient><linearGradient id="g319" x2="0" y2="1"><stop offset=".528" stop-color="#44af80"/><stop offset=".734" stop-color="#29aea9"/><stop offset=".864" stop-color="#3ab8c9"/><stop offset=".929" stop-color="#6dbee7"/><stop offset="1" stop-color="#6dbee7"/></linearGradient><linearGradient id="g320" x2="0" y2="1"><stop offset=".528" stop-color="#49b079"/><stop offset=".734" stop-color="#2aaea7"/><stop offset=".864" stop-color="#3ab8c9"/><stop offset=".929" stop-color="#6bbee6"/><stop offset="1" stop-color="#6bbee6"/></linearGradient><linearGradient id="g321" x2="0" y2="1"><stop offset=".528" stop-color="#4fb072"/><stop offset=".734" stop-color="#2aada5"/><stop offset=".864" stop-color="#3ab8c9"/><stop offset=".929" stop-color="#68bee5"/><stop offset="1" stop-color="#68bee5"/></linearGradient><linearGradient id="g322" x2="0" y2="1"><stop offset=".528" stop-color="#57b267"/><stop offset=".734" stop-color="#2cada2"/><stop offset=".864" stop-color="#39b7c8"/><stop offset=".929" stop-color="#67bee4"/><stop offset="1" stop-color="#67bee4"/></linearGradient><linearGradient id="g323" x2="0" y2="1"><stop offset=".528" stop-color="#63b45c"/><stop offset=".734" stop-color="#2dad9e"/><stop offset=".864" stop-color="#37b7c6"/><stop offset=".929" stop-color="#67bee4"/><stop offset="1" stop-color="#67bee4"/></linearGradient><linearGradient id="g324" x2="0" y2="1"><stop offset=".528" stop-color="#6fb650"/><stop offset=".734" stop-color="#2fac9a"/><stop offset=".864" stop-color="#35b6c5"/><stop offset=".929" stop-color="#67bee4"/><stop offset="1" stop-color="#67bee4"/></linearGradient><linearGradient id="g325" x2="0" y2="1"><stop offset=".528" stop-color="#81b940"/><stop offset=".734" stop-color="#38ad8e"/><stop offset=".864" stop-color="#33b5c2"/><stop offset=".929" stop-color="#67bee4"/><stop offset="1" stop-color="#67bee4"/></linearGradient><linearGradient id="g326" x2="0" y2="1"><stop offset=".528" stop-color="#9bbd37"/><stop offset=".734" stop-color="#49b079"/><stop offset=".864" stop-color="#2fb3bf"/><stop offset=".929" stop-color="#67bee4"/><stop offset="1" stop-color="#67bee4"/></linearGradient><linearGradient id="g327" x2="0" y2="1"><stop offset=".528" stop-color="#b6c134"/><stop offset=".734" stop-color="#5ab264"/><stop offset=".864" stop-color="#2bb2bc"/><stop offset=".929" stop-color="#67bee4"/><stop offset="1" stop-color="#67bee4"/></linearGradient><linearGradient id="g328" x2="0" y2="1"><stop offset=".528" stop-color="#c7c332"/><stop offset=".734" stop-color="#69b556"/><stop offset=".864" stop-color="#27b0b9"/><stop offset=".929" stop-color="#67bee4"/><stop offset="1" stop-color="#67bee4"/></linearGradient><linearGradient id="g329" x2="0" y2="1"><stop offset=".528" stop-color="#cfc232"/><stop offset=".734" stop-color="#75b74b"/><stop offset=".864" stop-color="#23afb6"/><stop offset=".929" stop-color="#67bee4"/><stop offset="1" stop-color="#67bee4"/></linearGradient><linearGradient id="g330" x2="0" y2="1"><stop offset=".528" stop-color="#d7c132"/><stop offset=".734" stop-color="#81b940"/><stop offset=".864" stop-color="#25afb2"/><stop offset=".929" stop-color="#67bee4"/><stop offset="1" stop-color="#67bee4"/></linearGradient><linearGradient id="g331" x2="0" y2="1"><stop offset=".528" stop-color="#ddc032"/><stop offset=".734" stop-color="#8cbb39"/><stop offset=".864" stop-color="#26aeae"/><stop offset=".929" stop-color="#66bee4"/><stop offset="1" stop-color="#66bee4"/></linearGradient><linearGradient id="g332" x2="0" y2="1"><stop offset=".528" stop-color="#e2c032"/><stop offset=".734" stop-color="#96bc38"/><stop offset=".864" stop-color="#28aeaa"/><stop offset=".929" stop-color="#64bee2"/><stop offset="1" stop-color="#64bee2"/></linearGradient><linearGradient id="g333" x2="0" y2="1"><stop offset=".528" stop-color="#e8bf32"/><stop offset=".734" stop-color="#a0be37"/><stop offset=".864" stop-color="#2aada6"/><stop offset=".929" stop-color="#62bde1"/><stop offset="1" stop-color="#62bde1"/></linearGradient><linearGradient id="g334" x2="0" y2="1"><stop offset=".528" stop-color="#ebbf32"/><stop offset=".734" stop-color="#a7bf36"/><stop offset=".864" stop-color="#2bada4"/><stop offset=".929" stop-color="#61bde1"/><stop offset="1" stop-color="#61bde1"/></linearGradient><linearGradient id="g335" x2="0" y2="1"><stop offset=".528" stop-color="#eebe32"/><stop offset=".734" stop-color="#aabf35"/><stop offset=".864" stop-color="#2bada4"/><stop offset=".929" stop-color="#61bde1"/><stop offset="1" stop-color="#61bde1"/></linearGradient><linearGradient id="g336" x2="0" y2="1"><stop offset=".528" stop-color="#f1be32"/><stop offset=".734" stop-color="#adc035"/><stop offset=".864" stop-color="#2bada4"/><stop offset=".929" stop-color="#61bde1"/><stop offset="1" stop-color="#61bde1"/></linearGradient><linearGradient id="g337" x2="0" y2="1"><stop offset=".528" stop-color="#f1be32"/><stop offset=".734" stop-color="#aec035"/><stop offset=".864" stop-color="#2bada4"/><stop offset=".929" stop-color="#61bde1"/><stop offset="1" stop-color="#61bde1"/></linearGradient><linearGradient id="g338" x2="0" y2="1"><stop offset=".528" stop-color="#efbe32"/><stop offset=".734" stop-color="#abbf35"/><stop offset=".864" stop-color="#2bada4"/><stop offset=".929" stop-color="#61bde1"/><stop offset="1" stop-color="#61bde1"/></linearGradient><linearGradient id="g339" x2="0" y2="1"><stop offset=".528" stop-color="#edbf32"/><stop offset=".734" stop-color="#a9bf36"/><stop offset=".864" stop-color="#2bada4"/><stop offset=".929" stop-color="#61bde1"/><stop offset="1" stop-color="#61bde1"/></linearGradient><linearGradient id="g340" x2="0" y2="1"><stop offset=".528" stop-color="#ebbf32"/><stop offset=".734" stop-color="#a6bf36"/><stop offset=".864" stop-color="#2bada4"/><stop offset=".929" stop-color="#61bde1"/><stop offset="1" stop-color="#61bde1"/></linearGradient><linearGradient id="g341" x2="0" y2="1"><stop offset=".528" stop-color="#e9bf32"/><stop offset=".734" stop-color="#a2be36"/><stop offset=".864" stop-color="#2aada5"/><stop offset=".929" stop-color="#61bde1"/><stop offset="1" stop-color="#61bde1"/></linearGradient><linearGradient id="g342" x2="0" y2="1"><stop offset=".528" stop-color="#e7bf32"/><stop offset=".734" stop-color="#9ebd37"/><stop offset=".864" stop-color="#2aada6"/><stop offset=".929" stop-color="#61bde1"/><stop offset="1" stop-color="#61bde1"/></linearGradient><linearGradient id="g343" x2="0" y2="1"><stop offset=".528" stop-color="#e5bf32"/><stop offset=".734" stop-color="#98bd38"/><stop offset=".864" stop-color="#29aea8"/><stop offset=".929" stop-color="#61bde1"/><stop offset="1" stop-color="#61bde1"/></linearGradient><linearGradient id="g344" x2="0" y2="1"><stop offset=".528" stop-color="#e3c032"/><stop offset=".734" stop-color="#94bc38"/><stop offset=".864" stop-color="#29aea9"/><stop offset=".929" stop-color="#61bde1"/><stop offset="1" stop-color="#61bde1"/></linearGradient><linearGradient id="g345" x2="0" y2="1"><stop offset=".528" stop-color="#dec032"/><stop offset=".734" stop-color="#89ba3a"/><stop offset=".864" stop-color="#28aeab"/><stop offset=".929" stop-color="#65bee3"/><stop offset="1" stop-color="#65bee3"/></linearGradient><linearGradient id="g346" x2="0" y2="1"><stop offset=".528" stop-color="#d7c132"/><stop offset=".734" stop-color="#7ab847"/><stop offset=".864" stop-color="#27aead"/><stop offset=".929" stop-color="#6ebee8"/><stop offset="1" stop-color="#6ebee8"/></linearGradient><linearGradient id="g347" x2="0" y2="1"><stop offset=".528" stop-color="#cfc232"/><stop offset=".734" stop-color="#6ab555"/><stop offset=".864" stop-color="#26aeaf"/><stop offset=".929" stop-color="#63b5e8"/><stop offset="1" stop-color="#63b5e8"/></linearGradient><linearGradient id="g348" x2="0" y2="1"><stop offset=".528" stop-color="#bec233"/><stop offset=".734" stop-color="#5ab264"/><stop offset=".864" stop-color="#23afb6"/><stop offset=".929" stop-color="#52a6e8"/><stop offset="1" stop-color="#52a6e8"/></linearGradient><linearGradient id="g349" x2="0" y2="1"><stop offset=".528" stop-color="#a0be37"/><stop offset=".734" stop-color="#49b079"/><stop offset=".864" stop-color="#2fb3bf"/><stop offset=".929" stop-color="#3991e8"/><stop offset="1" stop-color="#3991e8"/></linearGradient><linearGradient id="g350" x2="0" y2="1"><stop offset=".528" stop-color="#82b93e"/><stop offset=".734" stop-color="#38ad8e"/><stop offset=".864" stop-color="#3ab8c9"/><stop offset=".929" stop-color="#2980e8"/><stop offset="1" stop-color="#2980e8"/></linearGradient><linearGradient id="g351" x2="0" y2="1"><stop offset=".528" stop-color="#63b45c"/><stop offset=".734" stop-color="#2dad9e"/><stop offset=".864" stop-color="#44bbd0"/><stop offset=".929" stop-color="#2579e7"/><stop offset="1" stop-color="#2579e7"/></linearGradient><linearGradient id="g352" x2="0" y2="1"><stop offset=".528" stop-color="#41ae83"/><stop offset=".734" stop-color="#28aeaa"/><stop offset=".864" stop-color="#4dbcd6"/><stop offset=".929" stop-color="#2477e7"/><stop offset="1" stop-color="#2477e7"/></linearGradient><linearGradient id="g353" x2="0" y2="1"><stop offset=".528" stop-color="#2bada4"/><stop offset=".734" stop-color="#23afb6"/><stop offset=".864" stop-color="#56bddb"/><stop offset=".929" stop-color="#2376e7"/><stop offset="1" stop-color="#2376e7"/></linearGradient><linearGradient id="g354" x2="0" y2="1"><stop offset=".528" stop-color="#24afb7"/><stop offset=".734" stop-color="#2db3be"/><stop offset=".864" stop-color="#5ebddf"/><stop offset=".929" stop-color="#2374e7"/><stop offset="1" stop-color="#2374e7"/></linearGradient><linearGradient id="g355" x2="0" y2="1"><stop offset=".528" stop-color="#32b4c2"/><stop offset=".734" stop-color="#34b6c4"/><stop offset=".864" stop-color="#67bee4"/><stop offset=".929" stop-color="#2273e6"/><stop offset="1" stop-color="#2273e6"/></linearGradient><linearGradient id="g356" x2="0" y2="1"><stop offset=".528" stop-color="#3fb9cd"/><stop offset=".734" stop-color="#3cb8ca"/><stop offset=".864" stop-color="#6bbce8"/><stop offset=".929" stop-color="#2171e6"/><stop offset="1" stop-color="#2171e6"/></linearGradient><linearGradient id="g357" x2="0" y2="1"><stop offset=".528" stop-color="#47bcd3"/><stop offset=".734" stop-color="#40bacd"/><stop offset=".864" stop-color="#66b7e8"/><stop offset=".929" stop-color="#2070e6"/><stop offset="1" stop-color="#2070e6"/></linearGradient><linearGradient id="g358" x2="0" y2="1"><stop offset=".528" stop-color="#49bcd4"/><stop offset=".734" stop-color="#40bacd"/><stop offset=".864" stop-color="#66b7e8"/><stop offset=".929" stop-color="#2070e6"/><stop offset="1" stop-color="#2070e6"/></linearGradient><linearGradient id="g359" x2="0" y2="1"><stop offset=".528" stop-color="#4cbcd5"/><stop offset=".734" stop-color="#40bacd"/><stop offset=".864" stop-color="#66b7e8"/><stop offset=".929" stop-color="#2070e6"/><stop offset="1" stop-color="#2070e6"/></linearGradient><linearGradient id="g360" x2="0" y2="1"><stop offset=".528" stop-color="#4cbcd5"/><stop offset=".734" stop-color="#3eb9cc"/><stop offset=".864" stop-color="#6dbde8"/><stop offset=".929" stop-color="#2374e7"/><stop offset="1" stop-color="#2374e7"/></linearGradient><linearGradient id="g361" x2="0" y2="1"><stop offset=".528" stop-color="#49bcd4"/><stop offset=".734" stop-color="#3ab8c9"/><stop offset=".864" stop-color="#64bee2"/><stop offset=".929" stop-color="#277ce7"/><stop offset="1" stop-color="#277ce7"/></linearGradient><linearGradient id="g362" x2="0" y2="1"><stop offset=".528" stop-color="#47bcd3"/><stop offset=".734" stop-color="#36b6c6"/><stop offset=".864" stop-color="#59bddc"/><stop offset=".929" stop-color="#2b83e8"/><stop offset="1" stop-color="#2b83e8"/></linearGradient><linearGradient id="g363" x2="0" y2="1"><stop offset=".528" stop-color="#43bbd0"/><stop offset=".734" stop-color="#32b4c2"/><stop offset=".864" stop-color="#4dbcd6"/><stop offset=".929" stop-color="#499fe8"/><stop offset="1" stop-color="#499fe8"/></linearGradient><linearGradient id="g364" x2="0" y2="1"><stop offset=".528" stop-color="#3db9cb"/><stop offset=".734" stop-color="#2cb2bd"/><stop offset=".864" stop-color="#40bacd"/><stop offset=".929" stop-color="#5dbddf"/><stop offset="1" stop-color="#5dbddf"/></linearGradient><linearGradient id="g365" x2="0" y2="1"><stop offset=".528" stop-color="#38b7c7"/><stop offset=".734" stop-color="#27b0b9"/><stop offset=".864" stop-color="#37b7c6"/><stop offset=".929" stop-color="#44bbd0"/><stop offset="1" stop-color="#44bbd0"/></linearGradient><linearGradient id="g366" x2="0" y2="1"><stop offset=".528" stop-color="#34b6c4"/><stop offset=".734" stop-color="#23afb6"/><stop offset=".864" stop-color="#32b4c2"/><stop offset=".929" stop-color="#40bacd"/><stop offset="1" stop-color="#40bacd"/></linearGradient><linearGradient id="g367" x2="0" y2="1"><stop offset=".528" stop-color="#31b4c1"/><stop offset=".734" stop-color="#25afb2"/><stop offset=".864" stop-color="#2cb2bd"/><stop offset=".929" stop-color="#3cb8ca"/><stop offset="1" stop-color="#3cb8ca"/></linearGradient><linearGradient id="g368" x2="0" y2="1"><stop offset=".528" stop-color="#2bb2bc"/><stop offset=".734" stop-color="#26aeaf"/><stop offset=".864" stop-color="#28b1ba"/><stop offset=".929" stop-color="#3ab8c9"/><stop offset="1" stop-color="#3ab8c9"/></linearGradient><linearGradient id="g369" x2="0" y2="1"><stop offset=".528" stop-color="#23afb6"/><stop offset=".734" stop-color="#27aead"/><stop offset=".864" stop-color="#26b0b8"/><stop offset=".929" stop-color="#3ab8c9"/><stop offset="1" stop-color="#3ab8c9"/></linearGradient><linearGradient id="g370" x2="0" y2="1"><stop offset=".528" stop-color="#26aeae"/><stop offset=".734" stop-color="#28aeab"/><stop offset=".864" stop-color="#24afb7"/><stop offset=".929" stop-color="#3ab8c9"/><stop offset="1" stop-color="#3ab8c9"/></linearGradient><linearGradient id="g371" x2="0" y2="1"><stop offset=".528" stop-color="#2bada3"/><stop offset=".734" stop-color="#29aea9"/><stop offset=".864" stop-color="#24afb7"/><stop offset=".929" stop-color="#3cb8ca"/><stop offset="1" stop-color="#3cb8ca"/></linearGradient><linearGradient id="g372" x2="0" y2="1"><stop offset=".528" stop-color="#34ad93"/><stop offset=".734" stop-color="#2aaea7"/><stop offset=".864" stop-color="#26b0b8"/><stop offset=".929" stop-color="#40bacd"/><stop offset="1" stop-color="#40bacd"/></linearGradient><linearGradient id="g373" x2="0" y2="1"><stop offset=".528" stop-color="#48af7b"/><stop offset=".734" stop-color="#2aada5"/><stop offset=".864" stop-color="#28b1ba"/><stop offset=".929" stop-color="#44bbd0"/><stop offset="1" stop-color="#44bbd0"/></linearGradient><linearGradient id="g374" x2="0" y2="1"><stop offset=".528" stop-color="#57b267"/><stop offset=".734" stop-color="#2bada3"/><stop offset=".864" stop-color="#2ab2bb"/><stop offset=".929" stop-color="#46bcd2"/><stop offset="1" stop-color="#46bcd2"/></linearGradient><linearGradient id="g375" x2="0" y2="1"><stop offset=".528" stop-color="#63b45c"/><stop offset=".734" stop-color="#2cada1"/><stop offset=".864" stop-color="#2cb2bd"/><stop offset=".929" stop-color="#46bcd2"/><stop offset="1" stop-color="#46bcd2"/></linearGradient><linearGradient id="g376" x2="0" y2="1"><stop offset=".528" stop-color="#6fb650"/><stop offset=".734" stop-color="#2dad9f"/><stop offset=".864" stop-color="#2eb3bf"/><stop offset=".929" stop-color="#46bcd2"/><stop offset="1" stop-color="#46bcd2"/></linearGradient><linearGradient id="g377" x2="0" y2="1"><stop offset=".528" stop-color="#70b64f"/><stop offset=".734" stop-color="#2dada0"/><stop offset=".864" stop-color="#2db3be"/><stop offset=".929" stop-color="#43bbd0"/><stop offset="1" stop-color="#43bbd0"/></linearGradient><linearGradient id="g378" x2="0" y2="1"><stop offset=".528" stop-color="#68b457"/><stop offset=".734" stop-color="#2bada2"/><stop offset=".864" stop-color="#2ab2bc"/><stop offset=".929" stop-color="#3db9cb"/><stop offset="1" stop-color="#3db9cb"/></linearGradient><linearGradient id="g379" x2="0" y2="1"><stop offset=".528" stop-color="#5eb360"/><stop offset=".734" stop-color="#2aada6"/><stop offset=".864" stop-color="#27b1ba"/><stop offset=".929" stop-color="#37b7c6"/><stop offset="1" stop-color="#37b7c6"/></linearGradient><linearGradient id="g380" x2="0" y2="1"><stop offset=".528" stop-color="#56b169"/><stop offset=".734" stop-color="#29aea8"/><stop offset=".864" stop-color="#24b0b7"/><stop offset=".929" stop-color="#32b4c2"/><stop offset="1" stop-color="#32b4c2"/></linearGradient><linearGradient id="g381" x2="0" y2="1"><stop offset=".528" stop-color="#4db074"/><stop offset=".734" stop-color="#28aeaa"/><stop offset=".864" stop-color="#23afb6"/><stop offset=".929" stop-color="#2fb3bf"/><stop offset="1" stop-color="#2fb3bf"/></linearGradient><linearGradient id="g382" x2="0" y2="1"><stop offset=".528" stop-color="#45af7e"/><stop offset=".734" stop-color="#28aeaa"/><stop offset=".864" stop-color="#23afb6"/><stop offset=".929" stop-color="#2fb3bf"/><stop offset="1" stop-color="#2fb3bf"/></linearGradient><linearGradient id="g383" x2="0" y2="1"><stop offset=".528" stop-color="#3dae88"/><stop offset=".734" stop-color="#28aeaa"/><stop offset=".864" stop-color="#23afb6"/><stop offset=".929" stop-color="#2fb3bf"/><stop offset="1" stop-color="#2fb3bf"/></linearGradient><linearGradient id="g384" x2="0" y2="1"><stop offset=".528" stop-color="#34ad93"/><stop offset=".734" stop-color="#28aeaa"/><stop offset=".864" stop-color="#23afb6"/><stop offset=".929" stop-color="#2fb3bf"/><stop offset="1" stop-color="#2fb3bf"/></linearGradient><linearGradient id="g385" x2="0" y2="1"><stop offset=".528" stop-color="#2fac9a"/><stop offset=".734" stop-color="#28aeab"/><stop offset=".864" stop-color="#23afb6"/><stop offset=".929" stop-color="#2fb3bf"/><stop offset="1" stop-color="#2fb3bf"/></linearGradient><linearGradient id="g386" x2="0" y2="1"><stop offset=".528" stop-color="#2eac9c"/><stop offset=".734" stop-color="#27aeac"/><stop offset=".864" stop-color="#23afb6"/><stop offset=".929" stop-color="#2fb3bf"/><stop offset="1" stop-color="#2fb3bf"/></linearGradient><linearGradient id="g387" x2="0" y2="1"><stop offset=".528" stop-color="#2dada0"/><stop offset=".734" stop-color="#27aeae"/><stop offset=".864" stop-color="#23afb6"/><stop offset=".929" stop-color="#2fb3bf"/><stop offset="1" stop-color="#2fb3bf"/></linearGradient><linearGradient id="g388" x2="0" y2="1"><stop offset=".528" stop-color="#2bada2"/><stop offset=".734" stop-color="#26aeaf"/><stop offset=".864" stop-color="#23afb6"/><stop offset=".929" stop-color="#2fb3bf"/><stop offset="1" stop-color="#2fb3bf"/></linearGradient><linearGradient id="g389" x2="0" y2="1"><stop offset=".528" stop-color="#2bada4"/><stop offset=".734" stop-color="#26aeb0"/><stop offset=".864" stop-color="#23afb6"/><stop offset=".929" stop-color="#2fb3bf"/><stop offset="1" stop-color="#2fb3bf"/></linearGradient><linearGradient id="g390" x2="0" y2="1"><stop offset=".528" stop-color="#2bada4"/><stop offset=".734" stop-color="#26aeb0"/><stop offset=".864" stop-color="#23afb6"/><stop offset=".929" stop-color="#2fb3bf"/><stop offset="1" stop-color="#2fb3bf"/></linearGradient><linearGradient id="g391" x2="0" y2="1"><stop offset=".528" stop-color="#2bada4"/><stop offset=".734" stop-color="#26aeb0"/><stop offset=".864" stop-color="#23afb6"/><stop offset=".929" stop-color="#2fb3bf"/><stop offset="1" stop-color="#2fb3bf"/></linearGradient><linearGradient id="g392" x2="0" y2="1"><stop offset=".528" stop-color="#2bada4"/><stop offset=".734" stop-color="#26aeb0"/><stop offset=".864" stop-color="#23afb6"/><stop offset=".929" stop-color="#2fb3bf"/><stop offset="1" stop-color="#2fb3bf"/></linearGradient><linearGradient id="g393" x2="0" y2="1"><stop offset=".528" stop-color="#2bada4"/><stop offset=".734" stop-color="#26aeb0"/><stop offset=".864" stop-color="#23afb6"/><stop offset=".929" stop-color="#2fb3bf"/><stop offset="1" stop-color="#2fb3bf"/></linearGradient><linearGradient id="p394" gradientUnits="userSpaceOnUse" x1="0" y1="227.4" x2="0" y2="177.4"><stop offset="0" stop-color="#2070e6"/><stop offset="0.15" stop-color="#66b7e8"/><stop offset="0.3" stop-color="#41ae83"/><stop offset="0.5" stop-color="#53bdd9"/><stop offset="0.8" stop-color="#40bacd"/><stop offset="1" stop-color="#28aeaa"/></linearGradient><linearGradient id="p395" gradientUnits="userSpaceOnUse" x1="0" y1="227.4" x2="0" y2="177.4"><stop offset="0" stop-color="#2d64e4"/><stop offset="0.15" stop-color="#459ce8"/><stop offset="0.3" stop-color="#2bada4"/><stop offset="0.5" stop-color="#6ebee8"/><stop offset="0.8" stop-color="#5abddd"/><stop offset="1" stop-color="#2fb3bf"/></linearGradient><linearGradient id="p396" gradientUnits="userSpaceOnUse" x1="0" y1="227.4" x2="0" y2="177.4"><stop offset="0" stop-color="#2070e6"/><stop offset="0.5" stop-color="#66b7e8"/><stop offset="1" stop-color="#53bdd9"/></linearGradient><linearGradient id="p397" gradientUnits="userSpaceOnUse" x1="0" y1="227.4" x2="0" y2="177.4"><stop offset="0" stop-color="#2d64e4"/><stop offset="0.5" stop-color="#459ce8"/><stop offset="1" stop-color="#6ebee8"/></linearGradient><linearGradient id="p398" gradientUnits="userSpaceOnUse" x1="0" y1="227.4" x2="0" y2="177.4"><stop offset="0" stop-color="#56a9e8"/><stop offset="1" stop-color="#53bdd9"/></linearGradient><linearGradient id="p399" gradientUnits="userSpaceOnUse" x1="0" y1="227.4" x2="0" y2="177.4"><stop offset="0" stop-color="#30ac98"/><stop offset="0.5" stop-color="#f2be32"/><stop offset="1" stop-color="#e2c032"/></linearGradient><linearGradient id="p400" gradientUnits="userSpaceOnUse" x1="0" y1="227.4" x2="0" y2="177.4"><stop offset="0" stop-color="#2070e6"/><stop offset="0.2" stop-color="#52b16e"/><stop offset="0.45" stop-color="#f9a521"/><stop offset="0.6" stop-color="#f4761b"/><stop offset="0.8" stop-color="#d64034"/><stop offset="1" stop-color="#df4c2e"/></linearGradient><linearGradient id="p401" gradientUnits="userSpaceOnUse" x1="0" y1="227.4" x2="0" y2="177.4"><stop offset="0" stop-color="#2070e6"/><stop offset="0.3" stop-color="#cbc232"/><stop offset="0.5" stop-color="#f98d19"/><stop offset="0.65" stop-color="#f5b42b"/><stop offset="0.85" stop-color="#41ae83"/><stop offset="1" stop-color="#28aeaa"/></linearGradient><linearGradient id="p402" gradientUnits="userSpaceOnUse" x1="0" y1="227.4" x2="0" y2="177.4"><stop offset="0" stop-color="#2d64e4"/><stop offset="0.3" stop-color="#a5be36"/><stop offset="0.5" stop-color="#faa01e"/><stop offset="0.65" stop-color="#e2c032"/><stop offset="0.85" stop-color="#2bada4"/><stop offset="1" stop-color="#2fb3bf"/></linearGradient><linearGradient id="p403" gradientUnits="userSpaceOnUse" x1="0" y1="227.4" x2="0" y2="177.4"><stop offset="0" stop-color="#2070e6"/><stop offset="0.3" stop-color="#9bbd37"/><stop offset="0.45" stop-color="#f2be32"/><stop offset="0.6" stop-color="#df4c2e"/><stop offset="0.8" stop-color="#53bdd9"/><stop offset="1" stop-color="#53bdd9"/></linearGradient><linearGradient id="p404" gradientUnits="userSpaceOnUse" x1="0" y1="227.4" x2="0" y2="177.4"><stop offset="0" stop-color="#2d64e4"/><stop offset="0.3" stop-color="#75b74b"/><stop offset="0.45" stop-color="#d3c132"/><stop offset="0.6" stop-color="#eb5c26"/><stop offset="0.8" stop-color="#6ebee8"/><stop offset="1" stop-color="#6ebee8"/></linearGradient><linearGradient id="p405" gradientUnits="userSpaceOnUse" x1="0" y1="227.4" x2="0" y2="177.4"><stop offset="0" stop-color="#2070e6"/><stop offset="0.25" stop-color="#2a82e8"/><stop offset="0.4" stop-color="#53bdd9"/><stop offset="0.68" stop-color="#f2be32"/><stop offset="0.75" stop-color="#53bdd9"/><stop offset="1" stop-color="#53bdd9"/></linearGradient><linearGradient id="p406" gradientUnits="userSpaceOnUse" x1="0" y1="227.4" x2="0" y2="177.4"><stop offset="0" stop-color="#2d64e4"/><stop offset="0.25" stop-color="#2070e6"/><stop offset="0.4" stop-color="#6ebee8"/><stop offset="0.68" stop-color="#d3c132"/><stop offset="0.75" stop-color="#6ebee8"/><stop offset="1" stop-color="#6ebee8"/></linearGradient><linearGradient id="p407" gradientUnits="userSpaceOnUse" x1="0" y1="227.4" x2="0" y2="177.4"><stop offset="0" stop-color="#2070e6"/><stop offset="0.4" stop-color="#30ac98"/><stop offset="1" stop-color="#40bacd"/></linearGradient><linearGradient id="p408" gradientUnits="userSpaceOnUse" x1="0" y1="227.4" x2="0" y2="177.4"><stop offset="0" stop-color="#2d64e4"/><stop offset="0.4" stop-color="#26aeb0"/><stop offset="1" stop-color="#5abddd"/></linearGradient><linearGradient id="p409" gradientUnits="userSpaceOnUse" x1="0" y1="227.4" x2="0" y2="177.4"><stop offset="0" stop-color="#267ae7"/><stop offset="0.4" stop-color="#67bee4"/><stop offset="1" stop-color="#53bdd9"/></linearGradient><linearGradient id="p410" gradientUnits="userSpaceOnUse" x1="0" y1="227.4" x2="0" y2="177.4"><stop offset="0" stop-color="#2369e5"/><stop offset="0.4" stop-color="#56a9e8"/><stop offset="1" stop-color="#6ebee8"/></linearGradient><linearGradient id="p411" gradientUnits="userSpaceOnUse" x1="0" y1="227.4" x2="0" y2="177.4"><stop offset="0" stop-color="#267ae7"/><stop offset="1" stop-color="#5abddd"/></linearGradient><linearGradient id="p412" gradientUnits="userSpaceOnUse" x1="0" y1="227.4" x2="0" y2="177.4"><stop offset="0" stop-color="#2369e5"/><stop offset="1" stop-color="#66b7e8"/></linearGradient><linearGradient id="p413" gradientUnits="userSpaceOnUse" x1="0" y1="227.4" x2="0" y2="177.4"><stop offset="0" stop-color="#2a82e8"/><stop offset="1" stop-color="#5abddd"/></linearGradient><linearGradient id="p414" gradientUnits="userSpaceOnUse" x1="0" y1="227.4" x2="0" y2="177.4"><stop offset="0" stop-color="#267ae7"/><stop offset="0.4" stop-color="#30ac98"/><stop offset="1" stop-color="#28aeaa"/></linearGradient><linearGradient id="p415" gradientUnits="userSpaceOnUse" x1="0" y1="227.4" x2="0" y2="177.4"><stop offset="0" stop-color="#2369e5"/><stop offset="0.4" stop-color="#26aeb0"/><stop offset="1" stop-color="#2fb3bf"/></linearGradient><linearGradient id="p416" gradientUnits="userSpaceOnUse" x1="0" y1="227.4" x2="0" y2="177.4"><stop offset="0" stop-color="#34b6c4"/><stop offset="0.5" stop-color="#52b16e"/><stop offset="1" stop-color="#53bdd9"/></linearGradient><linearGradient id="p417" gradientUnits="userSpaceOnUse" x1="0" y1="227.4" x2="0" y2="177.4"><stop offset="0" stop-color="#4dbcd6"/><stop offset="0.5" stop-color="#30ac98"/><stop offset="1" stop-color="#6ebee8"/></linearGradient><linearGradient id="p418" gradientUnits="userSpaceOnUse" x1="0" y1="227.4" x2="0" y2="177.4"><stop offset="0" stop-color="#2070e6"/><stop offset="0.3" stop-color="#41ae83"/><stop offset="0.6" stop-color="#9bbd37"/><stop offset="0.85" stop-color="#6cb553"/><stop offset="1" stop-color="#c93436"/></linearGradient><linearGradient id="p419" gradientUnits="userSpaceOnUse" x1="0" y1="227.4" x2="0" y2="177.4"><stop offset="0" stop-color="#2d64e4"/><stop offset="0.3" stop-color="#2bada4"/><stop offset="0.6" stop-color="#75b74b"/><stop offset="0.85" stop-color="#49b079"/><stop offset="1" stop-color="#d64034"/></linearGradient><linearGradient id="cb420" gradientUnits="userSpaceOnUse" x1="0" y1="227.05" x2="0" y2="149.55"><stop offset="0.000" stop-color="#372896"/><stop offset="0.025" stop-color="#4532a8"/><stop offset="0.050" stop-color="#533dba"/><stop offset="0.075" stop-color="#5d46c8"/><stop offset="0.100" stop-color="#614dcf"/><stop offset="0.125" stop-color="#5e53d6"/><stop offset="0.150" stop-color="#4d57dd"/><stop offset="0.175" stop-color="#3c5de2"/><stop offset="0.200" stop-color="#2d64e4"/><stop offset="0.225" stop-color="#1e6ce6"/><stop offset="0.250" stop-color="#267ae7"/><stop offset="0.275" stop-color="#2d87e8"/><stop offset="0.300" stop-color="#459ce8"/><stop offset="0.325" stop-color="#5eb0e8"/><stop offset="0.350" stop-color="#67bee4"/><stop offset="0.375" stop-color="#53bdd9"/><stop offset="0.400" stop-color="#40bacd"/><stop offset="0.425" stop-color="#2fb3bf"/><stop offset="0.450" stop-color="#26aeb0"/><stop offset="0.475" stop-color="#2dad9e"/><stop offset="0.500" stop-color="#41ae83"/><stop offset="0.525" stop-color="#5ab264"/><stop offset="0.550" stop-color="#75b74b"/><stop offset="0.575" stop-color="#91bc39"/><stop offset="0.600" stop-color="#afc035"/><stop offset="0.625" stop-color="#cbc232"/><stop offset="0.650" stop-color="#e2c032"/><stop offset="0.675" stop-color="#f3b92f"/><stop offset="0.700" stop-color="#f7aa25"/><stop offset="0.725" stop-color="#fa9b1d"/><stop offset="0.750" stop-color="#f98d19"/><stop offset="0.775" stop-color="#f78018"/><stop offset="0.800" stop-color="#f3721d"/><stop offset="0.825" stop-color="#ef6422"/><stop offset="0.850" stop-color="#e85828"/><stop offset="0.875" stop-color="#df4c2e"/><stop offset="0.900" stop-color="#d64034"/><stop offset="0.925" stop-color="#cc3637"/><stop offset="0.950" stop-color="#c23034"/><stop offset="0.975" stop-color="#b72a31"/><stop offset="1.000" stop-color="#ac242e"/></linearGradient><linearGradient id="g421" x2="0" y2="1"><stop offset=".528" stop-color="#29b1bb"/><stop offset=".734" stop-color="#4dbcd6"/><stop offset=".852" stop-color="#6ebee8"/><stop offset=".911" stop-color="#2070e6"/><stop offset="1" stop-color="#2070e6"/></linearGradient><linearGradient id="g422" x2="0" y2="1"><stop offset=".528" stop-color="#29b1bb"/><stop offset=".734" stop-color="#4fbcd7"/><stop offset=".852" stop-color="#6ebee8"/><stop offset=".911" stop-color="#2070e6"/><stop offset="1" stop-color="#2070e6"/></linearGradient><linearGradient id="g423" x2="0" y2="1"><stop offset=".528" stop-color="#29b1bb"/><stop offset=".734" stop-color="#50bcd8"/><stop offset=".852" stop-color="#6ebee8"/><stop offset=".911" stop-color="#2070e6"/><stop offset="1" stop-color="#2070e6"/></linearGradient><linearGradient id="g424" x2="0" y2="1"><stop offset=".528" stop-color="#29b1bb"/><stop offset=".734" stop-color="#51bdd8"/><stop offset=".852" stop-color="#6ebee8"/><stop offset=".911" stop-color="#2070e6"/><stop offset="1" stop-color="#2070e6"/></linearGradient><linearGradient id="g425" x2="0" y2="1"><stop offset=".528" stop-color="#29b1bb"/><stop offset=".734" stop-color="#53bdd9"/><stop offset=".852" stop-color="#6ebee8"/><stop offset=".911" stop-color="#2070e6"/><stop offset="1" stop-color="#2070e6"/></linearGradient><linearGradient id="g426" x2="0" y2="1"><stop offset=".528" stop-color="#27b0b9"/><stop offset=".734" stop-color="#52bdd9"/><stop offset=".852" stop-color="#6dbee7"/><stop offset=".911" stop-color="#2070e6"/><stop offset="1" stop-color="#2070e6"/></linearGradient><linearGradient id="g427" x2="0" y2="1"><stop offset=".528" stop-color="#23afb6"/><stop offset=".734" stop-color="#50bcd8"/><stop offset=".852" stop-color="#6bbee6"/><stop offset=".911" stop-color="#2070e6"/><stop offset="1" stop-color="#2070e6"/></linearGradient><linearGradient id="g428" x2="0" y2="1"><stop offset=".528" stop-color="#25afb2"/><stop offset=".734" stop-color="#4ebcd6"/><stop offset=".852" stop-color="#68bee5"/><stop offset=".911" stop-color="#2070e6"/><stop offset="1" stop-color="#2070e6"/></linearGradient><linearGradient id="g429" x2="0" y2="1"><stop offset=".528" stop-color="#27aeac"/><stop offset=".734" stop-color="#46bcd2"/><stop offset=".852" stop-color="#64bee2"/><stop offset=".911" stop-color="#2070e6"/><stop offset="1" stop-color="#2070e6"/></linearGradient><linearGradient id="g430" x2="0" y2="1"><stop offset=".528" stop-color="#2bada4"/><stop offset=".734" stop-color="#3ab8c9"/><stop offset=".852" stop-color="#5dbddf"/><stop offset=".911" stop-color="#2070e6"/><stop offset="1" stop-color="#2070e6"/></linearGradient><linearGradient id="g431" x2="0" y2="1"><stop offset=".528" stop-color="#2eac9c"/><stop offset=".734" stop-color="#2fb3bf"/><stop offset=".852" stop-color="#57bddb"/><stop offset=".911" stop-color="#2070e6"/><stop offset="1" stop-color="#2070e6"/></linearGradient><linearGradient id="g432" x2="0" y2="1"><stop offset=".528" stop-color="#38ad8e"/><stop offset=".734" stop-color="#25b0b8"/><stop offset=".852" stop-color="#51bdd8"/><stop offset=".911" stop-color="#2070e6"/><stop offset="1" stop-color="#2070e6"/></linearGradient><linearGradient id="g433" x2="0" y2="1"><stop offset=".528" stop-color="#49b079"/><stop offset=".734" stop-color="#26aeb0"/><stop offset=".852" stop-color="#4dbcd6"/><stop offset=".911" stop-color="#2070e6"/><stop offset="1" stop-color="#2070e6"/></linearGradient><linearGradient id="g434" x2="0" y2="1"><stop offset=".528" stop-color="#5ab264"/><stop offset=".734" stop-color="#29aea8"/><stop offset=".852" stop-color="#48bcd3"/><stop offset=".911" stop-color="#2070e6"/><stop offset="1" stop-color="#2070e6"/></linearGradient><linearGradient id="g435" x2="0" y2="1"><stop offset=".528" stop-color="#66b458"/><stop offset=".734" stop-color="#2cada2"/><stop offset=".852" stop-color="#45bbd1"/><stop offset=".911" stop-color="#2070e6"/><stop offset="1" stop-color="#2070e6"/></linearGradient><linearGradient id="g436" x2="0" y2="1"><stop offset=".528" stop-color="#6db552"/><stop offset=".734" stop-color="#2ead9d"/><stop offset=".852" stop-color="#42bace"/><stop offset=".911" stop-color="#2070e6"/><stop offset="1" stop-color="#2070e6"/></linearGradient><linearGradient id="g437" x2="0" y2="1"><stop offset=".528" stop-color="#74b74c"/><stop offset=".734" stop-color="#30ac99"/><stop offset=".852" stop-color="#3fb9cc"/><stop offset=".911" stop-color="#2070e6"/><stop offset="1" stop-color="#2070e6"/></linearGradient><linearGradient id="g438" x2="0" y2="1"><stop offset=".528" stop-color="#7bb846"/><stop offset=".734" stop-color="#35ad92"/><stop offset=".852" stop-color="#3cb8ca"/><stop offset=".911" stop-color="#2070e6"/><stop offset="1" stop-color="#2070e6"/></linearGradient><linearGradient id="g439" x2="0" y2="1"><stop offset=".528" stop-color="#7fb941"/><stop offset=".734" stop-color="#38ad8e"/><stop offset=".852" stop-color="#3ab8c9"/><stop offset=".911" stop-color="#2171e6"/><stop offset="1" stop-color="#2171e6"/></linearGradient><linearGradient id="g440" x2="0" y2="1"><stop offset=".528" stop-color="#81b93f"/><stop offset=".734" stop-color="#38ad8e"/><stop offset=".852" stop-color="#3ab8c9"/><stop offset=".911" stop-color="#2172e6"/><stop offset="1" stop-color="#2172e6"/></linearGradient><linearGradient id="g441" x2="0" y2="1"><stop offset=".528" stop-color="#84b93d"/><stop offset=".734" stop-color="#38ad8e"/><stop offset=".852" stop-color="#3ab8c9"/><stop offset=".911" stop-color="#2273e7"/><stop offset="1" stop-color="#2273e7"/></linearGradient><linearGradient id="g442" x2="0" y2="1"><stop offset=".528" stop-color="#86ba3b"/><stop offset=".734" stop-color="#38ad8e"/><stop offset=".852" stop-color="#3ab8c9"/><stop offset=".911" stop-color="#2374e7"/><stop offset="1" stop-color="#2374e7"/></linearGradient><linearGradient id="g443" x2="0" y2="1"><stop offset=".528" stop-color="#85ba3c"/><stop offset=".734" stop-color="#36ad90"/><stop offset=".852" stop-color="#3ab8c9"/><stop offset=".911" stop-color="#2376e7"/><stop offset="1" stop-color="#2376e7"/></linearGradient><linearGradient id="g444" x2="0" y2="1"><stop offset=".528" stop-color="#80b940"/><stop offset=".734" stop-color="#32ac95"/><stop offset=".852" stop-color="#3ab8c9"/><stop offset=".911" stop-color="#2477e7"/><stop offset="1" stop-color="#2477e7"/></linearGradient><linearGradient id="g445" x2="0" y2="1"><stop offset=".528" stop-color="#7cb844"/><stop offset=".734" stop-color="#2fac9a"/><stop offset=".852" stop-color="#3ab8c9"/><stop offset=".911" stop-color="#2578e7"/><stop offset="1" stop-color="#2578e7"/></linearGradient><linearGradient id="g446" x2="0" y2="1"><stop offset=".528" stop-color="#77b749"/><stop offset=".734" stop-color="#2eac9c"/><stop offset=".852" stop-color="#3ab8c9"/><stop offset=".911" stop-color="#2579e7"/><stop offset="1" stop-color="#2579e7"/></linearGradient><linearGradient id="g447" x2="0" y2="1"><stop offset=".528" stop-color="#72b64e"/><stop offset=".734" stop-color="#2dada0"/><stop offset=".852" stop-color="#3cb8ca"/><stop offset=".911" stop-color="#267ae7"/><stop offset="1" stop-color="#267ae7"/></linearGradient><linearGradient id="g448" x2="0" y2="1"><stop offset=".528" stop-color="#6bb554"/><stop offset=".734" stop-color="#2bada2"/><stop offset=".852" stop-color="#3fb9cc"/><stop offset=".911" stop-color="#267be7"/><stop offset="1" stop-color="#267be7"/></linearGradient><linearGradient id="g449" x2="0" y2="1"><stop offset=".528" stop-color="#64b45b"/><stop offset=".734" stop-color="#2aada6"/><stop offset=".852" stop-color="#42bace"/><stop offset=".911" stop-color="#277ce7"/><stop offset="1" stop-color="#277ce7"/></linearGradient><linearGradient id="g450" x2="0" y2="1"><stop offset=".528" stop-color="#5db361"/><stop offset=".734" stop-color="#29aea8"/><stop offset=".852" stop-color="#45bbd1"/><stop offset=".911" stop-color="#287de7"/><stop offset="1" stop-color="#287de7"/></linearGradient><linearGradient id="g451" x2="0" y2="1"><stop offset=".528" stop-color="#59b265"/><stop offset=".734" stop-color="#27aeac"/><stop offset=".852" stop-color="#45bcd1"/><stop offset=".911" stop-color="#297fe7"/><stop offset="1" stop-color="#297fe7"/></linearGradient><linearGradient id="g452" x2="0" y2="1"><stop offset=".528" stop-color="#57b268"/><stop offset=".734" stop-color="#25aeb1"/><stop offset=".852" stop-color="#44bbd0"/><stop offset=".911" stop-color="#2a81e8"/><stop offset="1" stop-color="#2a81e8"/></linearGradient><linearGradient id="g453" x2="0" y2="1"><stop offset=".528" stop-color="#55b16a"/><stop offset=".734" stop-color="#23afb5"/><stop offset=".852" stop-color="#42bbcf"/><stop offset=".911" stop-color="#2b84e8"/><stop offset="1" stop-color="#2b84e8"/></linearGradient><linearGradient id="g454" x2="0" y2="1"><stop offset=".528" stop-color="#53b16d"/><stop offset=".734" stop-color="#27b0b9"/><stop offset=".852" stop-color="#41bace"/><stop offset=".911" stop-color="#2c86e8"/><stop offset="1" stop-color="#2c86e8"/></linearGradient><linearGradient id="g455" x2="0" y2="1"><stop offset=".528" stop-color="#52b16e"/><stop offset=".734" stop-color="#29b1bb"/><stop offset=".852" stop-color="#40bacd"/><stop offset=".911" stop-color="#318ae8"/><stop offset="1" stop-color="#318ae8"/></linearGradient><linearGradient id="g456" x2="0" y2="1"><stop offset=".528" stop-color="#52b16e"/><stop offset=".734" stop-color="#29b1bb"/><stop offset=".852" stop-color="#40bacd"/><stop offset=".911" stop-color="#3991e8"/><stop offset="1" stop-color="#3991e8"/></linearGradient><linearGradient id="g457" x2="0" y2="1"><stop offset=".528" stop-color="#52b16e"/><stop offset=".734" stop-color="#29b1bb"/><stop offset=".852" stop-color="#40bacd"/><stop offset=".911" stop-color="#4198e8"/><stop offset="1" stop-color="#4198e8"/></linearGradient><linearGradient id="g458" x2="0" y2="1"><stop offset=".528" stop-color="#52b16e"/><stop offset=".734" stop-color="#29b1bb"/><stop offset=".852" stop-color="#40bacd"/><stop offset=".911" stop-color="#499fe8"/><stop offset="1" stop-color="#499fe8"/></linearGradient><linearGradient id="g459" x2="0" y2="1"><stop offset=".528" stop-color="#4fb072"/><stop offset=".734" stop-color="#2bb2bc"/><stop offset=".852" stop-color="#4abcd4"/><stop offset=".911" stop-color="#4399e8"/><stop offset="1" stop-color="#4399e8"/></linearGradient><linearGradient id="g460" x2="0" y2="1"><stop offset=".528" stop-color="#49b079"/><stop offset=".734" stop-color="#2fb3bf"/><stop offset=".852" stop-color="#61bde1"/><stop offset=".911" stop-color="#2d87e8"/><stop offset="1" stop-color="#2d87e8"/></linearGradient><linearGradient id="g461" x2="0" y2="1"><stop offset=".528" stop-color="#44af80"/><stop offset=".734" stop-color="#33b5c2"/><stop offset=".852" stop-color="#63b5e8"/><stop offset=".911" stop-color="#267be7"/><stop offset="1" stop-color="#267be7"/></linearGradient><linearGradient id="g462" x2="0" y2="1"><stop offset=".528" stop-color="#3bae8a"/><stop offset=".734" stop-color="#38b7c7"/><stop offset=".852" stop-color="#50a5e8"/><stop offset=".911" stop-color="#2374e7"/><stop offset="1" stop-color="#2374e7"/></linearGradient><linearGradient id="g463" x2="0" y2="1"><stop offset=".528" stop-color="#30ac98"/><stop offset=".734" stop-color="#40bacd"/><stop offset=".852" stop-color="#459ce8"/><stop offset=".911" stop-color="#2273e6"/><stop offset="1" stop-color="#2273e6"/></linearGradient><linearGradient id="g464" x2="0" y2="1"><stop offset=".528" stop-color="#2dada0"/><stop offset=".734" stop-color="#48bcd3"/><stop offset=".852" stop-color="#3b92e8"/><stop offset=".911" stop-color="#2171e6"/><stop offset="1" stop-color="#2171e6"/></linearGradient><linearGradient id="g465" x2="0" y2="1"><stop offset=".528" stop-color="#2bada4"/><stop offset=".734" stop-color="#4dbcd6"/><stop offset=".852" stop-color="#358ee8"/><stop offset=".911" stop-color="#2070e6"/><stop offset="1" stop-color="#2070e6"/></linearGradient><linearGradient id="g466" x2="0" y2="1"><stop offset=".528" stop-color="#2bada4"/><stop offset=".734" stop-color="#4dbcd6"/><stop offset=".852" stop-color="#358ee8"/><stop offset=".911" stop-color="#2070e6"/><stop offset="1" stop-color="#2070e6"/></linearGradient><linearGradient id="g467" x2="0" y2="1"><stop offset=".528" stop-color="#2bada4"/><stop offset=".734" stop-color="#4dbcd6"/><stop offset=".852" stop-color="#358ee8"/><stop offset=".911" stop-color="#2070e6"/><stop offset="1" stop-color="#2070e6"/></linearGradient><linearGradient id="g468" x2="0" y2="1"><stop offset=".528" stop-color="#2bada4"/><stop offset=".734" stop-color="#4dbcd6"/><stop offset=".852" stop-color="#358ee8"/><stop offset=".911" stop-color="#2070e6"/><stop offset="1" stop-color="#2070e6"/></linearGradient><linearGradient id="g469" x2="0" y2="1"><stop offset=".528" stop-color="#2bada3"/><stop offset=".734" stop-color="#46bcd2"/><stop offset=".852" stop-color="#459ce8"/><stop offset=".911" stop-color="#2579e7"/><stop offset="1" stop-color="#2579e7"/></linearGradient><linearGradient id="g470" x2="0" y2="1"><stop offset=".528" stop-color="#2cada1"/><stop offset=".734" stop-color="#3ab8c9"/><stop offset=".852" stop-color="#66b7e8"/><stop offset=".911" stop-color="#318ae8"/><stop offset="1" stop-color="#318ae8"/></linearGradient><linearGradient id="g471" x2="0" y2="1"><stop offset=".528" stop-color="#2dad9f"/><stop offset=".734" stop-color="#2fb3bf"/><stop offset=".852" stop-color="#5abddd"/><stop offset=".911" stop-color="#4fa4e8"/><stop offset="1" stop-color="#4fa4e8"/></linearGradient><linearGradient id="g472" x2="0" y2="1"><stop offset=".528" stop-color="#2dad9e"/><stop offset=".734" stop-color="#26b0b8"/><stop offset=".852" stop-color="#47bcd3"/><stop offset=".911" stop-color="#69b9e8"/><stop offset="1" stop-color="#69b9e8"/></linearGradient><linearGradient id="g473" x2="0" y2="1"><stop offset=".528" stop-color="#2dad9e"/><stop offset=".734" stop-color="#24afb3"/><stop offset=".852" stop-color="#3db9cb"/><stop offset=".911" stop-color="#61bde1"/><stop offset="1" stop-color="#61bde1"/></linearGradient><linearGradient id="g474" x2="0" y2="1"><stop offset=".528" stop-color="#2dad9e"/><stop offset=".734" stop-color="#27aead"/><stop offset=".852" stop-color="#34b5c3"/><stop offset=".911" stop-color="#4fbcd7"/><stop offset="1" stop-color="#4fbcd7"/></linearGradient><linearGradient id="g475" x2="0" y2="1"><stop offset=".528" stop-color="#2eac9c"/><stop offset=".734" stop-color="#28aeaa"/><stop offset=".852" stop-color="#2eb3bf"/><stop offset=".911" stop-color="#45bbd1"/><stop offset="1" stop-color="#45bbd1"/></linearGradient><linearGradient id="g476" x2="0" y2="1"><stop offset=".528" stop-color="#2fac9a"/><stop offset=".734" stop-color="#28aeaa"/><stop offset=".852" stop-color="#2cb3be"/><stop offset=".911" stop-color="#42bace"/><stop offset="1" stop-color="#42bace"/></linearGradient><linearGradient id="g477" x2="0" y2="1"><stop offset=".528" stop-color="#32ac95"/><stop offset=".734" stop-color="#28aeaa"/><stop offset=".852" stop-color="#2bb2bc"/><stop offset=".911" stop-color="#3fb9cc"/><stop offset="1" stop-color="#3fb9cc"/></linearGradient><linearGradient id="g478" x2="0" y2="1"><stop offset=".528" stop-color="#36ad90"/><stop offset=".734" stop-color="#28aeaa"/><stop offset=".852" stop-color="#2ab1bb"/><stop offset=".911" stop-color="#3cb8ca"/><stop offset="1" stop-color="#3cb8ca"/></linearGradient><linearGradient id="g479" x2="0" y2="1"><stop offset=".528" stop-color="#36ad90"/><stop offset=".734" stop-color="#28aeaa"/><stop offset=".852" stop-color="#2ab1bb"/><stop offset=".911" stop-color="#3cb8ca"/><stop offset="1" stop-color="#3cb8ca"/></linearGradient><linearGradient id="g480" x2="0" y2="1"><stop offset=".528" stop-color="#32ac95"/><stop offset=".734" stop-color="#28aeaa"/><stop offset=".852" stop-color="#2bb2bc"/><stop offset=".911" stop-color="#3fb9cc"/><stop offset="1" stop-color="#3fb9cc"/></linearGradient><linearGradient id="g481" x2="0" y2="1"><stop offset=".528" stop-color="#2fac9a"/><stop offset=".734" stop-color="#28aeaa"/><stop offset=".852" stop-color="#2cb3be"/><stop offset=".911" stop-color="#42bace"/><stop offset="1" stop-color="#42bace"/></linearGradient><linearGradient id="g482" x2="0" y2="1"><stop offset=".528" stop-color="#2eac9c"/><stop offset=".734" stop-color="#28aeaa"/><stop offset=".852" stop-color="#2eb3bf"/><stop offset=".911" stop-color="#45bbd1"/><stop offset="1" stop-color="#45bbd1"/></linearGradient><linearGradient id="g483" x2="0" y2="1"><stop offset=".528" stop-color="#2dad9f"/><stop offset=".734" stop-color="#28aeaa"/><stop offset=".852" stop-color="#2fb3bf"/><stop offset=".911" stop-color="#46bcd2"/><stop offset="1" stop-color="#46bcd2"/></linearGradient><linearGradient id="g484" x2="0" y2="1"><stop offset=".528" stop-color="#2cada1"/><stop offset=".734" stop-color="#28aeac"/><stop offset=".852" stop-color="#2fb3bf"/><stop offset=".911" stop-color="#46bcd2"/><stop offset="1" stop-color="#46bcd2"/></linearGradient><linearGradient id="g485" x2="0" y2="1"><stop offset=".528" stop-color="#2bada3"/><stop offset=".734" stop-color="#27aeac"/><stop offset=".852" stop-color="#2fb3bf"/><stop offset=".911" stop-color="#46bcd2"/><stop offset="1" stop-color="#46bcd2"/></linearGradient><linearGradient id="g486" x2="0" y2="1"><stop offset=".528" stop-color="#2aada5"/><stop offset=".734" stop-color="#27aeae"/><stop offset=".852" stop-color="#2fb3bf"/><stop offset=".911" stop-color="#46bcd2"/><stop offset="1" stop-color="#46bcd2"/></linearGradient><linearGradient id="g487" x2="0" y2="1"><stop offset=".528" stop-color="#2aaea7"/><stop offset=".734" stop-color="#26aeae"/><stop offset=".852" stop-color="#2fb3bf"/><stop offset=".911" stop-color="#46bcd2"/><stop offset="1" stop-color="#46bcd2"/></linearGradient><linearGradient id="g488" x2="0" y2="1"><stop offset=".528" stop-color="#29aea9"/><stop offset=".734" stop-color="#26aeb0"/><stop offset=".852" stop-color="#2fb3bf"/><stop offset=".911" stop-color="#46bcd2"/><stop offset="1" stop-color="#46bcd2"/></linearGradient><linearGradient id="g489" x2="0" y2="1"><stop offset=".528" stop-color="#28aeaa"/><stop offset=".734" stop-color="#26aeb0"/><stop offset=".852" stop-color="#2fb3bf"/><stop offset=".911" stop-color="#46bcd2"/><stop offset="1" stop-color="#46bcd2"/></linearGradient><linearGradient id="g490" x2="0" y2="1"><stop offset=".528" stop-color="#28aeac"/><stop offset=".734" stop-color="#26aeb0"/><stop offset=".852" stop-color="#2fb3bf"/><stop offset=".911" stop-color="#46bcd2"/><stop offset="1" stop-color="#46bcd2"/></linearGradient><linearGradient id="g491" x2="0" y2="1"><stop offset=".528" stop-color="#27aeac"/><stop offset=".734" stop-color="#26aeb0"/><stop offset=".852" stop-color="#2fb3bf"/><stop offset=".911" stop-color="#46bcd2"/><stop offset="1" stop-color="#46bcd2"/></linearGradient><linearGradient id="g492" x2="0" y2="1"><stop offset=".528" stop-color="#27aeae"/><stop offset=".734" stop-color="#26aeb0"/><stop offset=".852" stop-color="#2fb3bf"/><stop offset=".911" stop-color="#46bcd2"/><stop offset="1" stop-color="#46bcd2"/></linearGradient><linearGradient id="g493" x2="0" y2="1"><stop offset=".528" stop-color="#26aeae"/><stop offset=".734" stop-color="#26aeb0"/><stop offset=".852" stop-color="#2fb3bf"/><stop offset=".911" stop-color="#46bcd2"/><stop offset="1" stop-color="#46bcd2"/></linearGradient><linearGradient id="g494" x2="0" y2="1"><stop offset=".528" stop-color="#26aeb0"/><stop offset=".734" stop-color="#26aeb0"/><stop offset=".852" stop-color="#2fb3bf"/><stop offset=".911" stop-color="#46bcd2"/><stop offset="1" stop-color="#46bcd2"/></linearGradient><linearGradient id="g495" x2="0" y2="1"><stop offset=".528" stop-color="#26aeb0"/><stop offset=".734" stop-color="#25aeb0"/><stop offset=".852" stop-color="#30b4c0"/><stop offset=".911" stop-color="#47bcd3"/><stop offset="1" stop-color="#47bcd3"/></linearGradient><linearGradient id="g496" x2="0" y2="1"><stop offset=".528" stop-color="#26aeb0"/><stop offset=".734" stop-color="#25afb2"/><stop offset=".852" stop-color="#32b4c2"/><stop offset=".911" stop-color="#49bcd4"/><stop offset="1" stop-color="#49bcd4"/></linearGradient><linearGradient id="g497" x2="0" y2="1"><stop offset=".528" stop-color="#26aeb0"/><stop offset=".734" stop-color="#25afb2"/><stop offset=".852" stop-color="#34b5c3"/><stop offset=".911" stop-color="#4cbcd5"/><stop offset="1" stop-color="#4cbcd5"/></linearGradient><linearGradient id="g498" x2="0" y2="1"><stop offset=".53" stop-color="#26aeb0"/><stop offset=".734" stop-color="#24afb4"/><stop offset=".852" stop-color="#35b6c5"/><stop offset=".911" stop-color="#4ebcd6"/><stop offset="1" stop-color="#4ebcd6"/></linearGradient><linearGradient id="g499" x2="0" y2="1"><stop offset=".535" stop-color="#26aeb0"/><stop offset=".734" stop-color="#24afb4"/><stop offset=".852" stop-color="#37b7c6"/><stop offset=".911" stop-color="#50bcd8"/><stop offset="1" stop-color="#50bcd8"/></linearGradient><linearGradient id="g500" x2="0" y2="1"><stop offset=".539" stop-color="#26aeb0"/><stop offset=".734" stop-color="#23afb6"/><stop offset=".852" stop-color="#39b7c8"/><stop offset=".911" stop-color="#52bdd9"/><stop offset="1" stop-color="#52bdd9"/></linearGradient><linearGradient id="p501" gradientUnits="userSpaceOnUse" x1="0" y1="352.0" x2="0" y2="302.0"><stop offset="0" stop-color="#614dcf"/><stop offset="0.12" stop-color="#6452d4"/><stop offset="0.3" stop-color="#53bdd9"/><stop offset="0.4" stop-color="#75b74b"/><stop offset="0.5" stop-color="#28aeaa"/><stop offset="0.55" stop-color="#6cb553"/><stop offset="0.65" stop-color="#3d95e8"/><stop offset="0.8" stop-color="#56a9e8"/><stop offset="1" stop-color="#53bdd9"/></linearGradient><linearGradient id="p502" gradientUnits="userSpaceOnUse" x1="0" y1="352.0" x2="0" y2="302.0"><stop offset="0" stop-color="#5d46c8"/><stop offset="0.12" stop-color="#604bcd"/><stop offset="0.3" stop-color="#67bee4"/><stop offset="0.4" stop-color="#5ab264"/><stop offset="0.5" stop-color="#29b1bb"/><stop offset="0.55" stop-color="#52b16e"/><stop offset="0.65" stop-color="#2a82e8"/><stop offset="0.8" stop-color="#3d95e8"/><stop offset="1" stop-color="#67bee4"/></linearGradient><linearGradient id="p503" gradientUnits="userSpaceOnUse" x1="0" y1="352.0" x2="0" y2="302.0"><stop offset="0" stop-color="#6452d4"/><stop offset="0.15" stop-color="#28aeaa"/><stop offset="0.3" stop-color="#cbc232"/><stop offset="0.5" stop-color="#f9a521"/><stop offset="0.7" stop-color="#f98d19"/><stop offset="1" stop-color="#f4761b"/></linearGradient><linearGradient id="p504" gradientUnits="userSpaceOnUse" x1="0" y1="352.0" x2="0" y2="302.0"><stop offset="0" stop-color="#cbc232"/><stop offset="0.6" stop-color="#f2be32"/><stop offset="0.8" stop-color="#f9971b"/><stop offset="1" stop-color="#f88416"/></linearGradient><linearGradient id="p505" gradientUnits="userSpaceOnUse" x1="0" y1="352.0" x2="0" y2="302.0"><stop offset="0" stop-color="#6452d4"/><stop offset="0.08" stop-color="#2867e5"/><stop offset="0.2" stop-color="#3d95e8"/><stop offset="0.35" stop-color="#40bacd"/><stop offset="0.5" stop-color="#30ac98"/><stop offset="0.65" stop-color="#d3c132"/><stop offset="0.8" stop-color="#52b16e"/><stop offset="1" stop-color="#6cb553"/></linearGradient><linearGradient id="p506" gradientUnits="userSpaceOnUse" x1="0" y1="352.0" x2="0" y2="302.0"><stop offset="0" stop-color="#53bdd9"/><stop offset="0.4" stop-color="#75b74b"/><stop offset="0.5" stop-color="#52b16e"/><stop offset="0.8" stop-color="#40bacd"/><stop offset="1" stop-color="#53bdd9"/></linearGradient><linearGradient id="p507" gradientUnits="userSpaceOnUse" x1="0" y1="352.0" x2="0" y2="302.0"><stop offset="0" stop-color="#415ae1"/><stop offset="0.08" stop-color="#267ae7"/><stop offset="0.2" stop-color="#9bbd37"/><stop offset="0.4" stop-color="#41ae83"/><stop offset="0.7" stop-color="#53bdd9"/><stop offset="1" stop-color="#53bdd9"/></linearGradient><linearGradient id="p508" gradientUnits="userSpaceOnUse" x1="0" y1="352.0" x2="0" y2="302.0"><stop offset="0" stop-color="#6452d4"/><stop offset="0.08" stop-color="#2d64e4"/><stop offset="0.2" stop-color="#63b45c"/><stop offset="0.4" stop-color="#26aeb0"/><stop offset="0.7" stop-color="#5eb0e8"/><stop offset="1" stop-color="#5eb0e8"/></linearGradient><linearGradient id="p509" gradientUnits="userSpaceOnUse" x1="0" y1="352.0" x2="0" y2="302.0"><stop offset="0" stop-color="#2070e6"/><stop offset="0.15" stop-color="#56a9e8"/><stop offset="0.4" stop-color="#4dbcd6"/><stop offset="0.7" stop-color="#67bee4"/><stop offset="1" stop-color="#40bacd"/></linearGradient><linearGradient id="p510" gradientUnits="userSpaceOnUse" x1="0" y1="352.0" x2="0" y2="302.0"><stop offset="0" stop-color="#5855d8"/><stop offset="0.15" stop-color="#2369e5"/><stop offset="0.4" stop-color="#358ee8"/><stop offset="0.7" stop-color="#267ae7"/><stop offset="1" stop-color="#459ce8"/></linearGradient><linearGradient id="p511" gradientUnits="userSpaceOnUse" x1="0" y1="352.0" x2="0" y2="302.0"><stop offset="0" stop-color="#66b7e8"/><stop offset="0.5" stop-color="#40bacd"/><stop offset="0.7" stop-color="#30ac98"/><stop offset="1" stop-color="#53bdd9"/></linearGradient><linearGradient id="p512" gradientUnits="userSpaceOnUse" x1="0" y1="352.0" x2="0" y2="302.0"><stop offset="0" stop-color="#2070e6"/><stop offset="0.2" stop-color="#459ce8"/><stop offset="0.5" stop-color="#66b7e8"/><stop offset="0.7" stop-color="#459ce8"/><stop offset="1" stop-color="#56a9e8"/></linearGradient><linearGradient id="p513" gradientUnits="userSpaceOnUse" x1="0" y1="352.0" x2="0" y2="302.0"><stop offset="0" stop-color="#5855d8"/><stop offset="0.2" stop-color="#2d64e4"/><stop offset="0.5" stop-color="#2070e6"/><stop offset="0.7" stop-color="#2d64e4"/><stop offset="1" stop-color="#2369e5"/></linearGradient><linearGradient id="p514" gradientUnits="userSpaceOnUse" x1="0" y1="352.0" x2="0" y2="302.0"><stop offset="0" stop-color="#2070e6"/><stop offset="0.2" stop-color="#66b7e8"/><stop offset="0.45" stop-color="#5abddd"/><stop offset="0.6" stop-color="#2bada4"/><stop offset="0.8" stop-color="#66b7e8"/><stop offset="1" stop-color="#358ee8"/></linearGradient><linearGradient id="p515" gradientUnits="userSpaceOnUse" x1="0" y1="352.0" x2="0" y2="302.0"><stop offset="0" stop-color="#5855d8"/><stop offset="0.2" stop-color="#2070e6"/><stop offset="0.45" stop-color="#2a82e8"/><stop offset="0.6" stop-color="#5abddd"/><stop offset="0.8" stop-color="#2070e6"/><stop offset="1" stop-color="#375fe2"/></linearGradient><linearGradient id="p516" gradientUnits="userSpaceOnUse" x1="0" y1="352.0" x2="0" y2="302.0"><stop offset="0" stop-color="#2070e6"/><stop offset="0.3" stop-color="#67bee4"/><stop offset="0.5" stop-color="#56a9e8"/><stop offset="0.7" stop-color="#53bdd9"/><stop offset="1" stop-color="#30ac98"/></linearGradient><linearGradient id="p517" gradientUnits="userSpaceOnUse" x1="0" y1="352.0" x2="0" y2="302.0"><stop offset="0" stop-color="#5855d8"/><stop offset="0.3" stop-color="#267ae7"/><stop offset="0.5" stop-color="#2369e5"/><stop offset="0.7" stop-color="#2d87e8"/><stop offset="1" stop-color="#4dbcd6"/></linearGradient><linearGradient id="p518" gradientUnits="userSpaceOnUse" x1="0" y1="352.0" x2="0" y2="302.0"><stop offset="0" stop-color="#2070e6"/><stop offset="0.3" stop-color="#66b7e8"/><stop offset="0.5" stop-color="#5abddd"/><stop offset="0.7" stop-color="#66b7e8"/><stop offset="0.9" stop-color="#56a9e8"/><stop offset="1" stop-color="#52b16e"/></linearGradient><linearGradient id="p519" gradientUnits="userSpaceOnUse" x1="0" y1="352.0" x2="0" y2="302.0"><stop offset="0" stop-color="#5855d8"/><stop offset="0.3" stop-color="#2070e6"/><stop offset="0.5" stop-color="#2a82e8"/><stop offset="0.7" stop-color="#2070e6"/><stop offset="0.9" stop-color="#2369e5"/><stop offset="1" stop-color="#34b6c4"/></linearGradient><linearGradient id="p520" gradientUnits="userSpaceOnUse" x1="0" y1="352.0" x2="0" y2="302.0"><stop offset="0" stop-color="#2070e6"/><stop offset="0.3" stop-color="#56a9e8"/><stop offset="0.6" stop-color="#67bee4"/><stop offset="0.9" stop-color="#66b7e8"/><stop offset="1" stop-color="#34b6c4"/></linearGradient><linearGradient id="p521" gradientUnits="userSpaceOnUse" x1="0" y1="352.0" x2="0" y2="302.0"><stop offset="0" stop-color="#5855d8"/><stop offset="0.3" stop-color="#2369e5"/><stop offset="0.6" stop-color="#267ae7"/><stop offset="0.9" stop-color="#2070e6"/><stop offset="1" stop-color="#56a9e8"/></linearGradient><linearGradient id="p522" gradientUnits="userSpaceOnUse" x1="0" y1="352.0" x2="0" y2="302.0"><stop offset="0" stop-color="#66b7e8"/><stop offset="0.5" stop-color="#4dbcd6"/><stop offset="1" stop-color="#40bacd"/></linearGradient><linearGradient id="p523" gradientUnits="userSpaceOnUse" x1="0" y1="352.0" x2="0" y2="302.0"><stop offset="0" stop-color="#2070e6"/><stop offset="0.5" stop-color="#358ee8"/><stop offset="1" stop-color="#459ce8"/></linearGradient><linearGradient id="g524" x2="0" y2="1"><stop offset=".549" stop-color="#34b6c4"/><stop offset=".734" stop-color="#42bbcf"/><stop offset=".864" stop-color="#40bacd"/><stop offset=".929" stop-color="#6bbce8"/><stop offset="1" stop-color="#6bbce8"/></linearGradient><linearGradient id="g525" x2="0" y2="1"><stop offset=".532" stop-color="#29b1bb"/><stop offset=".734" stop-color="#3ab8c9"/><stop offset=".864" stop-color="#40bacd"/><stop offset=".929" stop-color="#66b7e8"/><stop offset="1" stop-color="#66b7e8"/></linearGradient><linearGradient id="g526" x2="0" y2="1"><stop offset=".528" stop-color="#26aeb0"/><stop offset=".734" stop-color="#33b5c2"/><stop offset=".864" stop-color="#40bacd"/><stop offset=".929" stop-color="#60b3e8"/><stop offset="1" stop-color="#60b3e8"/></linearGradient><linearGradient id="g527" x2="0" y2="1"><stop offset=".528" stop-color="#2eac9d"/><stop offset=".734" stop-color="#28b1ba"/><stop offset=".864" stop-color="#40bacd"/><stop offset=".929" stop-color="#5baee8"/><stop offset="1" stop-color="#5baee8"/></linearGradient><linearGradient id="g528" x2="0" y2="1"><stop offset=".528" stop-color="#4db074"/><stop offset=".734" stop-color="#27aead"/><stop offset=".864" stop-color="#40bacd"/><stop offset=".929" stop-color="#56a9e8"/><stop offset="1" stop-color="#56a9e8"/></linearGradient><linearGradient id="g529" x2="0" y2="1"><stop offset=".528" stop-color="#73b74c"/><stop offset=".734" stop-color="#2dad9f"/><stop offset=".864" stop-color="#40bacd"/><stop offset=".929" stop-color="#50a5e8"/><stop offset="1" stop-color="#50a5e8"/></linearGradient><linearGradient id="g530" x2="0" y2="1"><stop offset=".528" stop-color="#8dbb39"/><stop offset=".734" stop-color="#34ad93"/><stop offset=".864" stop-color="#3fb9cc"/><stop offset=".929" stop-color="#479de8"/><stop offset="1" stop-color="#479de8"/></linearGradient><linearGradient id="g531" x2="0" y2="1"><stop offset=".528" stop-color="#9abd38"/><stop offset=".734" stop-color="#3dae88"/><stop offset=".864" stop-color="#3cb8ca"/><stop offset=".929" stop-color="#3b93e8"/><stop offset="1" stop-color="#3b93e8"/></linearGradient><linearGradient id="g532" x2="0" y2="1"><stop offset=".528" stop-color="#a6bf36"/><stop offset=".734" stop-color="#45af7e"/><stop offset=".864" stop-color="#39b7c8"/><stop offset=".929" stop-color="#2f89e8"/><stop offset="1" stop-color="#2f89e8"/></linearGradient><linearGradient id="g533" x2="0" y2="1"><stop offset=".528" stop-color="#b3c134"/><stop offset=".734" stop-color="#4db074"/><stop offset=".864" stop-color="#36b6c5"/><stop offset=".929" stop-color="#2a81e8"/><stop offset="1" stop-color="#2a81e8"/></linearGradient><linearGradient id="g534" x2="0" y2="1"><stop offset=".528" stop-color="#bcc233"/><stop offset=".734" stop-color="#53b16d"/><stop offset=".864" stop-color="#34b6c4"/><stop offset=".929" stop-color="#287ee7"/><stop offset="1" stop-color="#287ee7"/></linearGradient><linearGradient id="g535" x2="0" y2="1"><stop offset=".528" stop-color="#c0c332"/><stop offset=".734" stop-color="#55b16a"/><stop offset=".864" stop-color="#34b6c4"/><stop offset=".929" stop-color="#287ee7"/><stop offset="1" stop-color="#287ee7"/></linearGradient><linearGradient id="g536" x2="0" y2="1"><stop offset=".528" stop-color="#c5c332"/><stop offset=".734" stop-color="#57b268"/><stop offset=".864" stop-color="#34b6c4"/><stop offset=".929" stop-color="#287ee7"/><stop offset="1" stop-color="#287ee7"/></linearGradient><linearGradient id="g537" x2="0" y2="1"><stop offset=".567" stop-color="#c9c232"/><stop offset=".734" stop-color="#59b265"/><stop offset=".864" stop-color="#34b6c4"/><stop offset=".929" stop-color="#287ee7"/><stop offset="1" stop-color="#287ee7"/></linearGradient><linearGradient id="g538" x2="0" y2="1"><stop offset=".569" stop-color="#ccc232"/><stop offset=".734" stop-color="#5cb262"/><stop offset=".864" stop-color="#33b5c3"/><stop offset=".929" stop-color="#287ee7"/><stop offset="1" stop-color="#287ee7"/></linearGradient><linearGradient id="g539" x2="0" y2="1"><stop offset=".549" stop-color="#cec232"/><stop offset=".734" stop-color="#61b35e"/><stop offset=".864" stop-color="#30b4c0"/><stop offset=".929" stop-color="#287ee7"/><stop offset="1" stop-color="#287ee7"/></linearGradient><linearGradient id="g540" x2="0" y2="1"><stop offset=".528" stop-color="#d0c232"/><stop offset=".734" stop-color="#65b45a"/><stop offset=".864" stop-color="#2db3be"/><stop offset=".929" stop-color="#287ee7"/><stop offset="1" stop-color="#287ee7"/></linearGradient><linearGradient id="g541" x2="0" y2="1"><stop offset=".528" stop-color="#d2c132"/><stop offset=".734" stop-color="#6ab555"/><stop offset=".864" stop-color="#2ab2bc"/><stop offset=".929" stop-color="#287ee7"/><stop offset="1" stop-color="#287ee7"/></linearGradient><linearGradient id="g542" x2="0" y2="1"><stop offset=".528" stop-color="#d4c132"/><stop offset=".734" stop-color="#6db552"/><stop offset=".864" stop-color="#29b1bb"/><stop offset=".929" stop-color="#287ee7"/><stop offset="1" stop-color="#287ee7"/></linearGradient><linearGradient id="g543" x2="0" y2="1"><stop offset=".528" stop-color="#d6c132"/><stop offset=".734" stop-color="#6fb650"/><stop offset=".864" stop-color="#29b1bb"/><stop offset=".929" stop-color="#287ee7"/><stop offset="1" stop-color="#287ee7"/></linearGradient><linearGradient id="g544" x2="0" y2="1"><stop offset=".528" stop-color="#d8c132"/><stop offset=".734" stop-color="#72b64e"/><stop offset=".864" stop-color="#29b1bb"/><stop offset=".929" stop-color="#287ee7"/><stop offset="1" stop-color="#287ee7"/></linearGradient><linearGradient id="g545" x2="0" y2="1"><stop offset=".528" stop-color="#dac132"/><stop offset=".734" stop-color="#74b74c"/><stop offset=".864" stop-color="#29b1bb"/><stop offset=".929" stop-color="#287ee7"/><stop offset="1" stop-color="#287ee7"/></linearGradient><linearGradient id="g546" x2="0" y2="1"><stop offset=".528" stop-color="#dac032"/><stop offset=".734" stop-color="#74b74c"/><stop offset=".864" stop-color="#29b1bb"/><stop offset=".929" stop-color="#287ee7"/><stop offset="1" stop-color="#287ee7"/></linearGradient><linearGradient id="g547" x2="0" y2="1"><stop offset=".528" stop-color="#dac032"/><stop offset=".734" stop-color="#72b64e"/><stop offset=".864" stop-color="#29b1bb"/><stop offset=".929" stop-color="#287ee7"/><stop offset="1" stop-color="#287ee7"/></linearGradient><linearGradient id="g548" x2="0" y2="1"><stop offset=".528" stop-color="#dac032"/><stop offset=".734" stop-color="#6fb650"/><stop offset=".864" stop-color="#29b1bb"/><stop offset=".929" stop-color="#287ee7"/><stop offset="1" stop-color="#287ee7"/></linearGradient><linearGradient id="g549" x2="0" y2="1"><stop offset=".528" stop-color="#dac032"/><stop offset=".734" stop-color="#6db552"/><stop offset=".864" stop-color="#29b1bb"/><stop offset=".929" stop-color="#287ee7"/><stop offset="1" stop-color="#287ee7"/></linearGradient><linearGradient id="g550" x2="0" y2="1"><stop offset=".528" stop-color="#dac132"/><stop offset=".734" stop-color="#6bb554"/><stop offset=".864" stop-color="#29b1bb"/><stop offset=".929" stop-color="#287ee7"/><stop offset="1" stop-color="#287ee7"/></linearGradient><linearGradient id="g551" x2="0" y2="1"><stop offset=".528" stop-color="#d8c132"/><stop offset=".734" stop-color="#69b556"/><stop offset=".864" stop-color="#29b1bb"/><stop offset=".929" stop-color="#287ee7"/><stop offset="1" stop-color="#287ee7"/></linearGradient><linearGradient id="g552" x2="0" y2="1"><stop offset=".528" stop-color="#d6c132"/><stop offset=".734" stop-color="#66b458"/><stop offset=".864" stop-color="#29b1bb"/><stop offset=".929" stop-color="#287ee7"/><stop offset="1" stop-color="#287ee7"/></linearGradient><linearGradient id="g553" x2="0" y2="1"><stop offset=".528" stop-color="#d4c132"/><stop offset=".734" stop-color="#64b45b"/><stop offset=".864" stop-color="#29b1bb"/><stop offset=".929" stop-color="#287ee7"/><stop offset="1" stop-color="#287ee7"/></linearGradient><linearGradient id="g554" x2="0" y2="1"><stop offset=".528" stop-color="#d2c132"/><stop offset=".734" stop-color="#61b35e"/><stop offset=".864" stop-color="#2ab2bc"/><stop offset=".929" stop-color="#287ee7"/><stop offset="1" stop-color="#287ee7"/></linearGradient><linearGradient id="g555" x2="0" y2="1"><stop offset=".528" stop-color="#d0c232"/><stop offset=".734" stop-color="#5cb262"/><stop offset=".864" stop-color="#2db3be"/><stop offset=".929" stop-color="#287ee7"/><stop offset="1" stop-color="#287ee7"/></linearGradient><linearGradient id="g556" x2="0" y2="1"><stop offset=".528" stop-color="#cec232"/><stop offset=".734" stop-color="#58b267"/><stop offset=".864" stop-color="#30b4c0"/><stop offset=".929" stop-color="#287ee7"/><stop offset="1" stop-color="#287ee7"/></linearGradient><linearGradient id="g557" x2="0" y2="1"><stop offset=".528" stop-color="#ccc232"/><stop offset=".734" stop-color="#54b16c"/><stop offset=".864" stop-color="#33b5c3"/><stop offset=".929" stop-color="#287ee7"/><stop offset="1" stop-color="#287ee7"/></linearGradient><linearGradient id="g558" x2="0" y2="1"><stop offset=".528" stop-color="#c8c232"/><stop offset=".734" stop-color="#4db074"/><stop offset=".864" stop-color="#36b6c5"/><stop offset=".929" stop-color="#287de7"/><stop offset="1" stop-color="#287de7"/></linearGradient><linearGradient id="g559" x2="0" y2="1"><stop offset=".528" stop-color="#c2c332"/><stop offset=".734" stop-color="#45af7e"/><stop offset=".864" stop-color="#39b7c8"/><stop offset=".929" stop-color="#277ce7"/><stop offset="1" stop-color="#277ce7"/></linearGradient><linearGradient id="g560" x2="0" y2="1"><stop offset=".528" stop-color="#bac233"/><stop offset=".734" stop-color="#3dae88"/><stop offset=".864" stop-color="#3cb8ca"/><stop offset=".929" stop-color="#267be7"/><stop offset="1" stop-color="#267be7"/></linearGradient><linearGradient id="g561" x2="0" y2="1"><stop offset=".528" stop-color="#b3c134"/><stop offset=".734" stop-color="#34ad93"/><stop offset=".864" stop-color="#3fb9cc"/><stop offset=".929" stop-color="#267ae7"/><stop offset="1" stop-color="#267ae7"/></linearGradient><linearGradient id="g562" x2="0" y2="1"><stop offset=".528" stop-color="#a5be36"/><stop offset=".734" stop-color="#2eac9c"/><stop offset=".864" stop-color="#46bcd2"/><stop offset=".929" stop-color="#2579e7"/><stop offset="1" stop-color="#2579e7"/></linearGradient><linearGradient id="g563" x2="0" y2="1"><stop offset=".528" stop-color="#91bc39"/><stop offset=".734" stop-color="#2bada4"/><stop offset=".864" stop-color="#53bdd9"/><stop offset=".929" stop-color="#2477e7"/><stop offset="1" stop-color="#2477e7"/></linearGradient><linearGradient id="g564" x2="0" y2="1"><stop offset=".528" stop-color="#7eb842"/><stop offset=".734" stop-color="#27aeac"/><stop offset=".864" stop-color="#61bde1"/><stop offset=".929" stop-color="#2376e7"/><stop offset="1" stop-color="#2376e7"/></linearGradient><linearGradient id="g565" x2="0" y2="1"><stop offset=".528" stop-color="#65b45a"/><stop offset=".734" stop-color="#24afb4"/><stop offset=".864" stop-color="#6abee6"/><stop offset=".929" stop-color="#2374e7"/><stop offset="1" stop-color="#2374e7"/></linearGradient><linearGradient id="g566" x2="0" y2="1"><stop offset=".528" stop-color="#45af7e"/><stop offset=".734" stop-color="#29b1bb"/><stop offset=".864" stop-color="#6ebee8"/><stop offset=".929" stop-color="#2273e6"/><stop offset="1" stop-color="#2273e6"/></linearGradient><linearGradient id="g567" x2="0" y2="1"><stop offset=".528" stop-color="#2dad9f"/><stop offset=".734" stop-color="#31b4c1"/><stop offset=".864" stop-color="#69b9e8"/><stop offset=".929" stop-color="#2171e6"/><stop offset="1" stop-color="#2171e6"/></linearGradient><linearGradient id="g568" x2="0" y2="1"><stop offset=".528" stop-color="#27aeac"/><stop offset=".734" stop-color="#36b6c5"/><stop offset=".864" stop-color="#66b7e8"/><stop offset=".929" stop-color="#2070e6"/><stop offset="1" stop-color="#2070e6"/></linearGradient><linearGradient id="g569" x2="0" y2="1"><stop offset=".528" stop-color="#25aeb1"/><stop offset=".734" stop-color="#39b7c8"/><stop offset=".864" stop-color="#66b7e8"/><stop offset=".929" stop-color="#2070e6"/><stop offset="1" stop-color="#2070e6"/></linearGradient><linearGradient id="g570" x2="0" y2="1"><stop offset=".528" stop-color="#23afb5"/><stop offset=".734" stop-color="#3cb8ca"/><stop offset=".864" stop-color="#66b7e8"/><stop offset=".929" stop-color="#2070e6"/><stop offset="1" stop-color="#2070e6"/></linearGradient><linearGradient id="g571" x2="0" y2="1"><stop offset=".528" stop-color="#27b0b9"/><stop offset=".734" stop-color="#3fb9cc"/><stop offset=".864" stop-color="#66b7e8"/><stop offset=".929" stop-color="#2070e6"/><stop offset="1" stop-color="#2070e6"/></linearGradient><linearGradient id="g572" x2="0" y2="1"><stop offset=".528" stop-color="#27b0b9"/><stop offset=".734" stop-color="#3eb9cc"/><stop offset=".864" stop-color="#6ebee8"/><stop offset=".929" stop-color="#2477e7"/><stop offset="1" stop-color="#2477e7"/></linearGradient><linearGradient id="g573" x2="0" y2="1"><stop offset=".528" stop-color="#23afb6"/><stop offset=".734" stop-color="#3ab8c9"/><stop offset=".864" stop-color="#61bde1"/><stop offset=".929" stop-color="#2c85e8"/><stop offset="1" stop-color="#2c85e8"/></linearGradient><linearGradient id="g574" x2="0" y2="1"><stop offset=".528" stop-color="#25afb2"/><stop offset=".734" stop-color="#36b6c6"/><stop offset=".864" stop-color="#53bdd9"/><stop offset=".929" stop-color="#4198e8"/><stop offset="1" stop-color="#4198e8"/></linearGradient><linearGradient id="g575" x2="0" y2="1"><stop offset=".528" stop-color="#26aeaf"/><stop offset=".734" stop-color="#32b4c2"/><stop offset=".864" stop-color="#49bcd4"/><stop offset=".929" stop-color="#58ace8"/><stop offset="1" stop-color="#58ace8"/></linearGradient><linearGradient id="g576" x2="0" y2="1"><stop offset=".528" stop-color="#27aead"/><stop offset=".734" stop-color="#2cb2bd"/><stop offset=".864" stop-color="#43bbd0"/><stop offset=".929" stop-color="#6ebee8"/><stop offset="1" stop-color="#6ebee8"/></linearGradient><linearGradient id="g577" x2="0" y2="1"><stop offset=".528" stop-color="#28aeab"/><stop offset=".734" stop-color="#26b0b8"/><stop offset=".864" stop-color="#3db9cb"/><stop offset=".929" stop-color="#5cbdde"/><stop offset="1" stop-color="#5cbdde"/></linearGradient><linearGradient id="g578" x2="0" y2="1"><stop offset=".528" stop-color="#28aeaa"/><stop offset=".734" stop-color="#23afb6"/><stop offset=".864" stop-color="#3ab8c9"/><stop offset=".929" stop-color="#53bdd9"/><stop offset="1" stop-color="#53bdd9"/></linearGradient><linearGradient id="g579" x2="0" y2="1"><stop offset=".528" stop-color="#28aeaa"/><stop offset=".734" stop-color="#23afb6"/><stop offset=".864" stop-color="#3ab8c9"/><stop offset=".929" stop-color="#53bdd9"/><stop offset="1" stop-color="#53bdd9"/></linearGradient><linearGradient id="g580" x2="0" y2="1"><stop offset=".528" stop-color="#28aeaa"/><stop offset=".734" stop-color="#23afb6"/><stop offset=".864" stop-color="#3ab8c9"/><stop offset=".929" stop-color="#53bdd9"/><stop offset="1" stop-color="#53bdd9"/></linearGradient><linearGradient id="g581" x2="0" y2="1"><stop offset=".528" stop-color="#28aeaa"/><stop offset=".734" stop-color="#23afb6"/><stop offset=".864" stop-color="#3ab8c9"/><stop offset=".929" stop-color="#53bdd9"/><stop offset="1" stop-color="#53bdd9"/></linearGradient><linearGradient id="g582" x2="0" y2="1"><stop offset=".528" stop-color="#29aea8"/><stop offset=".734" stop-color="#23afb5"/><stop offset=".864" stop-color="#39b7c8"/><stop offset=".929" stop-color="#52bdd8"/><stop offset="1" stop-color="#52bdd8"/></linearGradient><linearGradient id="g583" x2="0" y2="1"><stop offset=".528" stop-color="#2bada3"/><stop offset=".734" stop-color="#24afb4"/><stop offset=".864" stop-color="#36b6c5"/><stop offset=".929" stop-color="#4ebcd7"/><stop offset="1" stop-color="#4ebcd7"/></linearGradient><linearGradient id="g584" x2="0" y2="1"><stop offset=".528" stop-color="#2dad9f"/><stop offset=".734" stop-color="#25afb2"/><stop offset=".864" stop-color="#33b5c3"/><stop offset=".929" stop-color="#4bbcd5"/><stop offset="1" stop-color="#4bbcd5"/></linearGradient><linearGradient id="g585" x2="0" y2="1"><stop offset=".528" stop-color="#2fac9a"/><stop offset=".734" stop-color="#25aeb1"/><stop offset=".864" stop-color="#30b4c0"/><stop offset=".929" stop-color="#48bcd3"/><stop offset="1" stop-color="#48bcd3"/></linearGradient><linearGradient id="g586" x2="0" y2="1"><stop offset=".528" stop-color="#33ac94"/><stop offset=".734" stop-color="#26aeaf"/><stop offset=".864" stop-color="#2eb3bf"/><stop offset=".929" stop-color="#45bbd1"/><stop offset="1" stop-color="#45bbd1"/></linearGradient><linearGradient id="g587" x2="0" y2="1"><stop offset=".528" stop-color="#39ad8c"/><stop offset=".734" stop-color="#27aeae"/><stop offset=".864" stop-color="#2cb3be"/><stop offset=".929" stop-color="#42bace"/><stop offset="1" stop-color="#42bace"/></linearGradient><linearGradient id="g588" x2="0" y2="1"><stop offset=".528" stop-color="#40ae84"/><stop offset=".734" stop-color="#27aeac"/><stop offset=".864" stop-color="#2bb2bc"/><stop offset=".929" stop-color="#3fb9cc"/><stop offset="1" stop-color="#3fb9cc"/></linearGradient><linearGradient id="g589" x2="0" y2="1"><stop offset=".528" stop-color="#46af7d"/><stop offset=".734" stop-color="#28aeab"/><stop offset=".864" stop-color="#2ab1bb"/><stop offset=".929" stop-color="#3cb8ca"/><stop offset="1" stop-color="#3cb8ca"/></linearGradient><linearGradient id="g590" x2="0" y2="1"><stop offset=".528" stop-color="#49b079"/><stop offset=".734" stop-color="#28aeaa"/><stop offset=".864" stop-color="#29b1bb"/><stop offset=".929" stop-color="#3ab8c9"/><stop offset="1" stop-color="#3ab8c9"/></linearGradient><linearGradient id="g591" x2="0" y2="1"><stop offset=".528" stop-color="#49b079"/><stop offset=".734" stop-color="#28aeaa"/><stop offset=".864" stop-color="#29b1bb"/><stop offset=".929" stop-color="#3ab8c9"/><stop offset="1" stop-color="#3ab8c9"/></linearGradient><linearGradient id="g592" x2="0" y2="1"><stop offset=".528" stop-color="#49b079"/><stop offset=".734" stop-color="#28aeaa"/><stop offset=".864" stop-color="#29b1bb"/><stop offset=".929" stop-color="#3ab8c9"/><stop offset="1" stop-color="#3ab8c9"/></linearGradient><linearGradient id="g593" x2="0" y2="1"><stop offset=".528" stop-color="#49b079"/><stop offset=".734" stop-color="#28aeaa"/><stop offset=".864" stop-color="#29b1bb"/><stop offset=".929" stop-color="#3ab8c9"/><stop offset="1" stop-color="#3ab8c9"/></linearGradient><linearGradient id="g594" x2="0" y2="1"><stop offset=".528" stop-color="#48af7a"/><stop offset=".734" stop-color="#28aeaa"/><stop offset=".864" stop-color="#29b1bb"/><stop offset=".929" stop-color="#3ab8c9"/><stop offset="1" stop-color="#3ab8c9"/></linearGradient><linearGradient id="g595" x2="0" y2="1"><stop offset=".528" stop-color="#47af7c"/><stop offset=".734" stop-color="#28aeaa"/><stop offset=".864" stop-color="#29b1bb"/><stop offset=".929" stop-color="#3ab8c9"/><stop offset="1" stop-color="#3ab8c9"/></linearGradient><linearGradient id="g596" x2="0" y2="1"><stop offset=".528" stop-color="#45af7e"/><stop offset=".734" stop-color="#28aeaa"/><stop offset=".864" stop-color="#29b1bb"/><stop offset=".929" stop-color="#3ab8c9"/><stop offset="1" stop-color="#3ab8c9"/></linearGradient><linearGradient id="g597" x2="0" y2="1"><stop offset=".528" stop-color="#43af80"/><stop offset=".734" stop-color="#28aeaa"/><stop offset=".864" stop-color="#29b1bb"/><stop offset=".929" stop-color="#3ab8c9"/><stop offset="1" stop-color="#3ab8c9"/></linearGradient><linearGradient id="g598" x2="0" y2="1"><stop offset=".528" stop-color="#42af82"/><stop offset=".734" stop-color="#28aeaa"/><stop offset=".864" stop-color="#29b1bb"/><stop offset=".929" stop-color="#3ab8c9"/><stop offset="1" stop-color="#3ab8c9"/></linearGradient><linearGradient id="g599" x2="0" y2="1"><stop offset=".528" stop-color="#3fae85"/><stop offset=".734" stop-color="#28aeaa"/><stop offset=".864" stop-color="#29b1bb"/><stop offset=".929" stop-color="#3ab8c9"/><stop offset="1" stop-color="#3ab8c9"/></linearGradient><linearGradient id="g600" x2="0" y2="1"><stop offset=".528" stop-color="#3cae89"/><stop offset=".734" stop-color="#28aeaa"/><stop offset=".864" stop-color="#29b1bb"/><stop offset=".929" stop-color="#3ab8c9"/><stop offset="1" stop-color="#3ab8c9"/></linearGradient><linearGradient id="g601" x2="0" y2="1"><stop offset=".528" stop-color="#38ad8e"/><stop offset=".734" stop-color="#28aeaa"/><stop offset=".864" stop-color="#29b1bb"/><stop offset=".929" stop-color="#3ab8c9"/><stop offset="1" stop-color="#3ab8c9"/></linearGradient><linearGradient id="g602" x2="0" y2="1"><stop offset=".528" stop-color="#35ad92"/><stop offset=".734" stop-color="#28aeaa"/><stop offset=".864" stop-color="#29b1bb"/><stop offset=".929" stop-color="#3ab8c9"/><stop offset="1" stop-color="#3ab8c9"/></linearGradient><linearGradient id="g603" x2="0" y2="1"><stop offset=".528" stop-color="#32ac96"/><stop offset=".734" stop-color="#28aeaa"/><stop offset=".864" stop-color="#29b1bb"/><stop offset=".929" stop-color="#3ab8c9"/><stop offset="1" stop-color="#3ab8c9"/></linearGradient><linearGradient id="p604" gradientUnits="userSpaceOnUse" x1="0" y1="352.0" x2="0" y2="302.0"><stop offset="0" stop-color="#2070e6"/><stop offset="0.15" stop-color="#66b7e8"/><stop offset="0.3" stop-color="#41ae83"/><stop offset="0.5" stop-color="#53bdd9"/><stop offset="0.8" stop-color="#40bacd"/><stop offset="1" stop-color="#28aeaa"/></linearGradient><linearGradient id="p605" gradientUnits="userSpaceOnUse" x1="0" y1="352.0" x2="0" y2="302.0"><stop offset="0" stop-color="#2d64e4"/><stop offset="0.15" stop-color="#459ce8"/><stop offset="0.3" stop-color="#2bada4"/><stop offset="0.5" stop-color="#6ebee8"/><stop offset="0.8" stop-color="#5abddd"/><stop offset="1" stop-color="#2fb3bf"/></linearGradient><linearGradient id="p606" gradientUnits="userSpaceOnUse" x1="0" y1="352.0" x2="0" y2="302.0"><stop offset="0" stop-color="#2070e6"/><stop offset="0.5" stop-color="#66b7e8"/><stop offset="1" stop-color="#53bdd9"/></linearGradient><linearGradient id="p607" gradientUnits="userSpaceOnUse" x1="0" y1="352.0" x2="0" y2="302.0"><stop offset="0" stop-color="#2d64e4"/><stop offset="0.5" stop-color="#459ce8"/><stop offset="1" stop-color="#6ebee8"/></linearGradient><linearGradient id="p608" gradientUnits="userSpaceOnUse" x1="0" y1="352.0" x2="0" y2="302.0"><stop offset="0" stop-color="#56a9e8"/><stop offset="1" stop-color="#53bdd9"/></linearGradient><linearGradient id="p609" gradientUnits="userSpaceOnUse" x1="0" y1="352.0" x2="0" y2="302.0"><stop offset="0" stop-color="#30ac98"/><stop offset="0.5" stop-color="#f2be32"/><stop offset="1" stop-color="#e2c032"/></linearGradient><linearGradient id="p610" gradientUnits="userSpaceOnUse" x1="0" y1="352.0" x2="0" y2="302.0"><stop offset="0" stop-color="#2070e6"/><stop offset="0.2" stop-color="#52b16e"/><stop offset="0.45" stop-color="#f9a521"/><stop offset="0.6" stop-color="#f4761b"/><stop offset="0.8" stop-color="#d64034"/><stop offset="1" stop-color="#df4c2e"/></linearGradient><linearGradient id="p611" gradientUnits="userSpaceOnUse" x1="0" y1="352.0" x2="0" y2="302.0"><stop offset="0" stop-color="#2070e6"/><stop offset="0.3" stop-color="#cbc232"/><stop offset="0.5" stop-color="#f98d19"/><stop offset="0.65" stop-color="#f5b42b"/><stop offset="0.85" stop-color="#41ae83"/><stop offset="1" stop-color="#28aeaa"/></linearGradient><linearGradient id="p612" gradientUnits="userSpaceOnUse" x1="0" y1="352.0" x2="0" y2="302.0"><stop offset="0" stop-color="#2d64e4"/><stop offset="0.3" stop-color="#a5be36"/><stop offset="0.5" stop-color="#faa01e"/><stop offset="0.65" stop-color="#e2c032"/><stop offset="0.85" stop-color="#2bada4"/><stop offset="1" stop-color="#2fb3bf"/></linearGradient><linearGradient id="p613" gradientUnits="userSpaceOnUse" x1="0" y1="352.0" x2="0" y2="302.0"><stop offset="0" stop-color="#2070e6"/><stop offset="0.3" stop-color="#9bbd37"/><stop offset="0.45" stop-color="#f2be32"/><stop offset="0.6" stop-color="#df4c2e"/><stop offset="0.8" stop-color="#53bdd9"/><stop offset="1" stop-color="#53bdd9"/></linearGradient><linearGradient id="p614" gradientUnits="userSpaceOnUse" x1="0" y1="352.0" x2="0" y2="302.0"><stop offset="0" stop-color="#2d64e4"/><stop offset="0.3" stop-color="#75b74b"/><stop offset="0.45" stop-color="#d3c132"/><stop offset="0.6" stop-color="#eb5c26"/><stop offset="0.8" stop-color="#6ebee8"/><stop offset="1" stop-color="#6ebee8"/></linearGradient><linearGradient id="p615" gradientUnits="userSpaceOnUse" x1="0" y1="352.0" x2="0" y2="302.0"><stop offset="0" stop-color="#2070e6"/><stop offset="0.25" stop-color="#2a82e8"/><stop offset="0.4" stop-color="#53bdd9"/><stop offset="0.68" stop-color="#f2be32"/><stop offset="0.75" stop-color="#53bdd9"/><stop offset="1" stop-color="#53bdd9"/></linearGradient><linearGradient id="p616" gradientUnits="userSpaceOnUse" x1="0" y1="352.0" x2="0" y2="302.0"><stop offset="0" stop-color="#2d64e4"/><stop offset="0.25" stop-color="#2070e6"/><stop offset="0.4" stop-color="#6ebee8"/><stop offset="0.68" stop-color="#d3c132"/><stop offset="0.75" stop-color="#6ebee8"/><stop offset="1" stop-color="#6ebee8"/></linearGradient><linearGradient id="p617" gradientUnits="userSpaceOnUse" x1="0" y1="352.0" x2="0" y2="302.0"><stop offset="0" stop-color="#2070e6"/><stop offset="0.4" stop-color="#30ac98"/><stop offset="1" stop-color="#40bacd"/></linearGradient><linearGradient id="p618" gradientUnits="userSpaceOnUse" x1="0" y1="352.0" x2="0" y2="302.0"><stop offset="0" stop-color="#2d64e4"/><stop offset="0.4" stop-color="#26aeb0"/><stop offset="1" stop-color="#5abddd"/></linearGradient><linearGradient id="p619" gradientUnits="userSpaceOnUse" x1="0" y1="352.0" x2="0" y2="302.0"><stop offset="0" stop-color="#267ae7"/><stop offset="0.4" stop-color="#67bee4"/><stop offset="1" stop-color="#53bdd9"/></linearGradient><linearGradient id="p620" gradientUnits="userSpaceOnUse" x1="0" y1="352.0" x2="0" y2="302.0"><stop offset="0" stop-color="#2369e5"/><stop offset="0.4" stop-color="#56a9e8"/><stop offset="1" stop-color="#6ebee8"/></linearGradient><linearGradient id="p621" gradientUnits="userSpaceOnUse" x1="0" y1="352.0" x2="0" y2="302.0"><stop offset="0" stop-color="#267ae7"/><stop offset="1" stop-color="#5abddd"/></linearGradient><linearGradient id="p622" gradientUnits="userSpaceOnUse" x1="0" y1="352.0" x2="0" y2="302.0"><stop offset="0" stop-color="#2369e5"/><stop offset="1" stop-color="#66b7e8"/></linearGradient><linearGradient id="p623" gradientUnits="userSpaceOnUse" x1="0" y1="352.0" x2="0" y2="302.0"><stop offset="0" stop-color="#2a82e8"/><stop offset="1" stop-color="#5abddd"/></linearGradient><linearGradient id="p624" gradientUnits="userSpaceOnUse" x1="0" y1="352.0" x2="0" y2="302.0"><stop offset="0" stop-color="#267ae7"/><stop offset="0.4" stop-color="#30ac98"/><stop offset="1" stop-color="#28aeaa"/></linearGradient><linearGradient id="p625" gradientUnits="userSpaceOnUse" x1="0" y1="352.0" x2="0" y2="302.0"><stop offset="0" stop-color="#2369e5"/><stop offset="0.4" stop-color="#26aeb0"/><stop offset="1" stop-color="#2fb3bf"/></linearGradient><linearGradient id="p626" gradientUnits="userSpaceOnUse" x1="0" y1="352.0" x2="0" y2="302.0"><stop offset="0" stop-color="#34b6c4"/><stop offset="0.5" stop-color="#52b16e"/><stop offset="1" stop-color="#53bdd9"/></linearGradient><linearGradient id="p627" gradientUnits="userSpaceOnUse" x1="0" y1="352.0" x2="0" y2="302.0"><stop offset="0" stop-color="#4dbcd6"/><stop offset="0.5" stop-color="#30ac98"/><stop offset="1" stop-color="#6ebee8"/></linearGradient><linearGradient id="p628" gradientUnits="userSpaceOnUse" x1="0" y1="352.0" x2="0" y2="302.0"><stop offset="0" stop-color="#2070e6"/><stop offset="0.3" stop-color="#41ae83"/><stop offset="0.6" stop-color="#9bbd37"/><stop offset="0.85" stop-color="#6cb553"/><stop offset="1" stop-color="#c93436"/></linearGradient><linearGradient id="p629" gradientUnits="userSpaceOnUse" x1="0" y1="352.0" x2="0" y2="302.0"><stop offset="0" stop-color="#2d64e4"/><stop offset="0.3" stop-color="#2bada4"/><stop offset="0.6" stop-color="#75b74b"/><stop offset="0.85" stop-color="#49b079"/><stop offset="1" stop-color="#d64034"/></linearGradient><linearGradient id="cb630" gradientUnits="userSpaceOnUse" x1="0" y1="351.65" x2="0" y2="274.15"><stop offset="0.000" stop-color="#372896"/><stop offset="0.025" stop-color="#4532a8"/><stop offset="0.050" stop-color="#533dba"/><stop offset="0.075" stop-color="#5d46c8"/><stop offset="0.100" stop-color="#614dcf"/><stop offset="0.125" stop-color="#5e53d6"/><stop offset="0.150" stop-color="#4d57dd"/><stop offset="0.175" stop-color="#3c5de2"/><stop offset="0.200" stop-color="#2d64e4"/><stop offset="0.225" stop-color="#1e6ce6"/><stop offset="0.250" stop-color="#267ae7"/><stop offset="0.275" stop-color="#2d87e8"/><stop offset="0.300" stop-color="#459ce8"/><stop offset="0.325" stop-color="#5eb0e8"/><stop offset="0.350" stop-color="#67bee4"/><stop offset="0.375" stop-color="#53bdd9"/><stop offset="0.400" stop-color="#40bacd"/><stop offset="0.425" stop-color="#2fb3bf"/><stop offset="0.450" stop-color="#26aeb0"/><stop offset="0.475" stop-color="#2dad9e"/><stop offset="0.500" stop-color="#41ae83"/><stop offset="0.525" stop-color="#5ab264"/><stop offset="0.550" stop-color="#75b74b"/><stop offset="0.575" stop-color="#91bc39"/><stop offset="0.600" stop-color="#afc035"/><stop offset="0.625" stop-color="#cbc232"/><stop offset="0.650" stop-color="#e2c032"/><stop offset="0.675" stop-color="#f3b92f"/><stop offset="0.700" stop-color="#f7aa25"/><stop offset="0.725" stop-color="#fa9b1d"/><stop offset="0.750" stop-color="#f98d19"/><stop offset="0.775" stop-color="#f78018"/><stop offset="0.800" stop-color="#f3721d"/><stop offset="0.825" stop-color="#ef6422"/><stop offset="0.850" stop-color="#e85828"/><stop offset="0.875" stop-color="#df4c2e"/><stop offset="0.900" stop-color="#d64034"/><stop offset="0.925" stop-color="#cc3637"/><stop offset="0.950" stop-color="#c23034"/><stop offset="0.975" stop-color="#b72a31"/><stop offset="1.000" stop-color="#ac242e"/></linearGradient></defs>
<rect width="500" height="378" fill="#fff"/>
<clipPath id="c0"><rect x="49.45" y="21.55" width="178.97" height="81.85"/></clipPath><g clip-path="url(#c0)"><g filter="url(#bl)"><rect x="49.45" y="19.5" width="2.74" height="79.3" fill="url(#g1)"/><rect x="51.69" y="19.5" width="2.74" height="79.3" fill="url(#g2)"/><rect x="53.92" y="19.5" width="2.74" height="79.3" fill="url(#g3)"/><rect x="56.16" y="19.5" width="2.74" height="79.3" fill="url(#g4)"/><rect x="58.40" y="19.5" width="2.74" height="79.3" fill="url(#g5)"/><rect x="60.64" y="19.5" width="2.74" height="79.3" fill="url(#g6)"/><rect x="62.87" y="19.5" width="2.74" height="79.3" fill="url(#g7)"/><rect x="65.11" y="19.5" width="2.74" height="79.3" fill="url(#g8)"/><rect x="67.35" y="19.5" width="2.74" height="79.3" fill="url(#g9)"/><rect x="69.58" y="19.5" width="2.74" height="79.3" fill="url(#g10)"/><rect x="71.82" y="19.5" width="2.74" height="79.3" fill="url(#g11)"/><rect x="74.06" y="19.5" width="2.74" height="79.3" fill="url(#g12)"/><rect x="76.30" y="19.5" width="2.74" height="79.3" fill="url(#g13)"/><rect x="78.53" y="19.5" width="2.74" height="79.3" fill="url(#g14)"/><rect x="80.77" y="19.5" width="2.74" height="79.3" fill="url(#g15)"/><rect x="83.01" y="19.5" width="2.74" height="79.3" fill="url(#g16)"/><rect x="85.24" y="19.5" width="2.74" height="79.3" fill="url(#g17)"/><rect x="87.48" y="19.5" width="2.74" height="79.3" fill="url(#g18)"/><rect x="89.72" y="19.5" width="2.74" height="79.3" fill="url(#g19)"/><rect x="91.96" y="19.5" width="2.74" height="79.3" fill="url(#g20)"/><rect x="94.19" y="19.5" width="2.74" height="79.3" fill="url(#g21)"/><rect x="96.43" y="19.5" width="2.74" height="79.3" fill="url(#g22)"/><rect x="98.67" y="19.5" width="2.74" height="79.3" fill="url(#g23)"/><rect x="100.90" y="19.5" width="2.74" height="79.3" fill="url(#g24)"/><rect x="103.14" y="19.5" width="2.74" height="79.3" fill="url(#g25)"/><rect x="105.38" y="19.5" width="2.74" height="79.3" fill="url(#g26)"/><rect x="107.62" y="19.5" width="2.74" height="79.3" fill="url(#g27)"/><rect x="109.85" y="19.5" width="2.74" height="79.3" fill="url(#g28)"/><rect x="112.09" y="19.5" width="2.74" height="79.3" fill="url(#g29)"/><rect x="114.33" y="19.5" width="2.74" height="79.3" fill="url(#g30)"/><rect x="116.56" y="19.5" width="2.74" height="79.3" fill="url(#g31)"/><rect x="118.80" y="19.5" width="2.74" height="79.3" fill="url(#g32)"/><rect x="121.04" y="19.5" width="2.74" height="79.3" fill="url(#g33)"/><rect x="123.28" y="19.5" width="2.74" height="79.3" fill="url(#g34)"/><rect x="125.51" y="19.5" width="2.74" height="79.3" fill="url(#g35)"/><rect x="127.75" y="19.5" width="2.74" height="79.3" fill="url(#g36)"/><rect x="129.99" y="19.5" width="2.74" height="79.3" fill="url(#g37)"/><rect x="132.22" y="19.5" width="2.74" height="79.3" fill="url(#g38)"/><rect x="134.46" y="19.5" width="2.74" height="79.3" fill="url(#g39)"/><rect x="136.70" y="19.5" width="2.74" height="79.3" fill="url(#g40)"/><rect x="138.94" y="19.5" width="2.74" height="79.3" fill="url(#g41)"/><rect x="141.17" y="19.5" width="2.74" height="79.3" fill="url(#g42)"/><rect x="143.41" y="19.5" width="2.74" height="79.3" fill="url(#g43)"/><rect x="145.65" y="19.5" width="2.74" height="79.3" fill="url(#g44)"/><rect x="147.88" y="19.5" width="2.74" height="79.3" fill="url(#g45)"/><rect x="150.12" y="19.5" width="2.74" height="79.3" fill="url(#g46)"/><rect x="152.36" y="19.5" width="2.74" height="79.3" fill="url(#g47)"/><rect x="154.59" y="19.5" width="2.74" height="79.3" fill="url(#g48)"/><rect x="156.83" y="19.5" width="2.74" height="79.3" fill="url(#g49)"/><rect x="159.07" y="19.5" width="2.74" height="79.3" fill="url(#g50)"/><rect x="161.31" y="19.5" width="2.74" height="79.3" fill="url(#g51)"/><rect x="163.54" y="19.5" width="2.74" height="79.3" fill="url(#g52)"/><rect x="165.78" y="19.5" width="2.74" height="79.3" fill="url(#g53)"/><rect x="168.02" y="19.5" width="2.74" height="79.3" fill="url(#g54)"/><rect x="170.25" y="19.5" width="2.74" height="79.3" fill="url(#g55)"/><rect x="172.49" y="19.5" width="2.74" height="79.3" fill="url(#g56)"/><rect x="174.73" y="19.5" width="2.74" height="79.3" fill="url(#g57)"/><rect x="176.97" y="19.5" width="2.74" height="79.3" fill="url(#g58)"/><rect x="179.20" y="19.5" width="2.74" height="79.3" fill="url(#g59)"/><rect x="181.44" y="19.5" width="2.74" height="79.3" fill="url(#g60)"/><rect x="183.68" y="19.5" width="2.74" height="79.3" fill="url(#g61)"/><rect x="185.91" y="19.5" width="2.74" height="79.3" fill="url(#g62)"/><rect x="188.15" y="19.5" width="2.74" height="79.3" fill="url(#g63)"/><rect x="190.39" y="19.5" width="2.74" height="79.3" fill="url(#g64)"/><rect x="192.63" y="19.5" width="2.74" height="79.3" fill="url(#g65)"/><rect x="194.86" y="19.5" width="2.74" height="79.3" fill="url(#g66)"/><rect x="197.10" y="19.5" width="2.74" height="79.3" fill="url(#g67)"/><rect x="199.34" y="19.5" width="2.74" height="79.3" fill="url(#g68)"/><rect x="201.57" y="19.5" width="2.74" height="79.3" fill="url(#g69)"/><rect x="203.81" y="19.5" width="2.74" height="79.3" fill="url(#g70)"/><rect x="206.05" y="19.5" width="2.74" height="79.3" fill="url(#g71)"/><rect x="208.29" y="19.5" width="2.74" height="79.3" fill="url(#g72)"/><rect x="210.52" y="19.5" width="2.74" height="79.3" fill="url(#g73)"/><rect x="212.76" y="19.5" width="2.74" height="79.3" fill="url(#g74)"/><rect x="215.00" y="19.5" width="2.74" height="79.3" fill="url(#g75)"/><rect x="217.23" y="19.5" width="2.74" height="79.3" fill="url(#g76)"/><rect x="219.47" y="19.5" width="2.74" height="79.3" fill="url(#g77)"/><rect x="221.71" y="19.5" width="2.74" height="79.3" fill="url(#g78)"/><rect x="223.95" y="19.5" width="2.74" height="79.3" fill="url(#g79)"/><rect x="226.18" y="19.5" width="2.74" height="79.3" fill="url(#g80)"/></g><g filter="url(#bb)"><path d="M47.2 18.6L47.2 62.9L49.5 62.9L56.2 62.9L65.1 62.9L67.3 62.0L69.8 56.6L72.0 61.1L73.2 61.6L74.5 50.2L93.1 49.3L95.3 47.9L97.3 46.6L106.5 45.7L109.2 48.4L111.6 45.2L132.2 44.7L134.9 48.4L137.8 47.5L141.2 45.7L150.1 45.2L163.3 45.7L165.6 47.9L173.4 48.4L179.0 56.1L186.1 57.0L188.6 58.4L193.1 62.0L204.0 63.4L206.0 65.7L216.1 65.9L220.6 65.7L222.8 68.4L228.4 68.8L231.8 68.8L231.8 18.6Z" fill="#46bcd2" fill-opacity="0.35"/><path d="M47.2 18.6L47.2 59.7L49.5 59.7L56.2 59.7L65.1 59.7L67.3 58.8L69.8 53.4L72.0 57.9L73.2 58.4L74.5 47.0L93.1 46.1L95.3 44.7L97.3 43.4L106.5 42.5L109.2 45.2L111.6 42.0L132.2 41.6L134.9 45.2L137.8 44.3L141.2 42.5L150.1 42.0L163.3 42.5L165.6 44.7L173.4 45.2L179.0 52.9L186.1 53.8L188.6 55.2L193.1 58.8L204.0 60.2L206.0 62.5L216.1 62.7L220.6 62.5L222.8 65.2L228.4 65.7L231.8 65.7L231.8 18.6Z" fill="#26aeb0" fill-opacity="0.7"/><path d="M47.2 18.6L47.2 57.0L49.5 57.0L56.2 57.0L65.1 57.0L67.3 56.1L69.8 50.7L72.0 55.2L73.2 55.7L74.5 44.3L93.1 43.4L95.3 42.0L97.3 40.6L106.5 39.7L109.2 42.5L111.6 39.3L132.2 38.8L134.9 42.5L137.8 41.6L141.2 39.7L150.1 39.3L163.3 39.7L165.6 42.0L173.4 42.5L179.0 50.2L186.1 51.1L188.6 52.5L193.1 56.1L204.0 57.5L206.0 59.7L216.1 60.0L220.6 59.7L222.8 62.5L228.4 62.9L231.8 62.9L231.8 18.6Z" fill="#52b16e" fill-opacity="1"/><path d="M47.2 18.6L47.2 54.7L49.5 54.7L56.2 54.7L65.1 54.7L67.3 53.8L69.8 48.4L72.0 52.9L73.2 53.4L74.5 42.0L93.1 41.1L95.3 39.7L97.3 38.4L106.5 37.5L109.2 40.2L111.6 37.0L132.2 36.6L134.9 40.2L137.8 39.3L141.2 37.5L150.1 37.0L163.3 37.5L165.6 39.7L173.4 40.2L179.0 47.9L186.1 48.8L188.6 50.2L193.1 53.8L204.0 55.2L206.0 57.5L216.1 57.7L220.6 57.5L222.8 60.2L228.4 60.7L231.8 60.7L231.8 18.6Z" fill="#9bbd37" fill-opacity="1"/><path d="M47.2 18.6L47.2 52.7L49.5 52.7L56.2 52.7L65.1 52.7L67.3 51.8L69.8 46.3L72.0 50.9L73.2 51.3L74.5 40.0L93.1 39.1L95.3 37.7L97.3 36.3L106.5 35.4L109.2 38.1L111.6 35.0L132.2 34.5L134.9 38.1L137.8 37.2L141.2 35.4L150.1 35.0L163.3 35.4L165.6 37.7L173.4 38.1L179.0 45.9L186.1 46.8L188.6 48.2L193.1 51.8L204.0 53.2L206.0 55.4L216.1 55.7L220.6 55.4L222.8 58.2L228.4 58.6L231.8 58.6L231.8 18.6Z" fill="#e2c032" fill-opacity="1"/><path d="M47.2 18.6L47.2 51.3L49.5 51.3L56.2 51.3L65.1 51.3L67.3 50.4L69.8 45.0L72.0 49.5L73.2 50.0L74.5 38.6L93.1 37.7L95.3 36.3L97.3 35.0L106.5 34.1L109.2 36.8L111.6 33.6L132.2 33.1L134.9 36.8L137.8 35.9L141.2 34.1L150.1 33.6L163.3 34.1L165.6 36.3L173.4 36.8L179.0 44.5L186.1 45.4L188.6 46.8L193.1 50.4L204.0 51.8L206.0 54.1L216.1 54.3L220.6 54.1L222.8 56.8L228.4 57.2L231.8 57.2L231.8 18.6Z" fill="#f9971b" fill-opacity="1"/><path d="M47.2 18.6L47.2 50.2L49.5 50.2L56.2 50.2L65.1 50.2L67.3 49.3L69.8 43.8L72.0 48.4L73.2 48.8L74.5 37.5L93.1 36.6L95.3 35.2L97.3 33.8L106.5 32.9L109.2 35.6L111.6 32.5L132.2 32.0L134.9 35.6L137.8 34.7L141.2 32.9L150.1 32.5L163.3 32.9L165.6 35.2L173.4 35.6L179.0 43.4L186.1 44.3L188.6 45.7L193.1 49.3L204.0 50.7L206.0 52.9L216.1 53.2L220.6 52.9L222.8 55.7L228.4 56.1L231.8 56.1L231.8 18.6Z" fill="#ee6024" fill-opacity="1"/><path d="M47.2 18.6L47.2 48.8L49.5 48.8L56.2 48.8L65.1 48.8L67.3 47.9L69.8 42.5L72.0 47.0L73.2 47.5L74.5 36.1L93.1 35.2L95.3 33.8L97.3 32.5L106.5 31.6L109.2 34.3L111.6 31.1L132.2 30.6L134.9 34.3L137.8 33.4L141.2 31.6L150.1 31.1L163.3 31.6L165.6 33.8L173.4 34.3L179.0 42.0L186.1 42.9L188.6 44.3L193.1 47.9L204.0 49.3L206.0 51.6L216.1 51.8L220.6 51.6L222.8 54.3L228.4 54.7L231.8 54.7L231.8 18.6Z" fill="#b2262a" fill-opacity="1"/></g><rect x="49.45" y="21.55" width="6.71" height="81.85" fill="#fff"/><path d="M56.6 54.7 L48.1 54.7" fill="none" stroke="#267ae7" stroke-width="3.3" stroke-linecap="round" stroke-dasharray="0 1.5" stroke-dashoffset="0" opacity="0.95"/><path d="M64.7 53.8 L56.6 53.8" fill="none" stroke="#5abddd" stroke-width="3.3" stroke-linecap="round" stroke-dasharray="0 3.4" stroke-dashoffset="0" opacity="0.95"/><path d="M69.1 102.0 L64.7 54.3" fill="none" stroke="url(#p81)" stroke-width="3.3" stroke-linecap="round" stroke-dasharray="0 4.9" stroke-dashoffset="0" opacity="0.95"/><path d="M71.8 102.0 L67.3 58.8" fill="none" stroke="url(#p82)" stroke-width="3.3" stroke-linecap="round" stroke-dasharray="0 4.9" stroke-dashoffset="2.2" opacity="0.95"/><path d="M72.3 76.1 L71.4 52.0" fill="none" stroke="#40bacd" stroke-width="3.3" stroke-linecap="round" stroke-dasharray="0 4.9" stroke-dashoffset="0" opacity="0.95"/><path d="M81.7 52.0 L74.1 52.0" fill="none" stroke="#30ac98" stroke-width="3.3" stroke-linecap="round" stroke-dasharray="0 4.9" stroke-dashoffset="0" opacity="0.95"/><path d="M92.9 52.0 L81.7 52.0" fill="none" stroke="#e85828" stroke-width="3.3" stroke-linecap="round" stroke-dasharray="0 4.9" stroke-dashoffset="0" opacity="0.95"/><path d="M95.1 102.0 L92.9 52.0" fill="none" stroke="url(#p83)" stroke-width="3.3" stroke-linecap="round" stroke-dasharray="0 4.9" stroke-dashoffset="0" opacity="0.95"/><path d="M98.9 71.6 L98.0 53.4" fill="none" stroke="url(#p84)" stroke-width="3.3" stroke-linecap="round" stroke-dasharray="0 4.9" stroke-dashoffset="0" opacity="0.95"/><path d="M107.6 48.4 L100.9 48.4" fill="none" stroke="#53bdd9" stroke-width="3.3" stroke-linecap="round" stroke-dasharray="0 4.9" stroke-dashoffset="0" opacity="0.95"/><path d="M115.4 48.4 L107.6 48.4" fill="none" stroke="#52b16e" stroke-width="3.3" stroke-linecap="round" stroke-dasharray="0 4.9" stroke-dashoffset="0" opacity="0.95"/><path d="M120.6 102.0 L115.4 48.4" fill="none" stroke="url(#p85)" stroke-width="3.3" stroke-linecap="round" stroke-dasharray="0 4.9" stroke-dashoffset="0" opacity="0.95"/><path d="M123.3 92.0 L126.6 58.8" fill="none" stroke="url(#p86)" stroke-width="3.3" stroke-linecap="round" stroke-dasharray="0 4.9" stroke-dashoffset="0" opacity="0.95"/><path d="M132.4 102.0 L137.1 55.7" fill="none" stroke="url(#p87)" stroke-width="3.3" stroke-linecap="round" stroke-dasharray="0 4.9" stroke-dashoffset="0" opacity="0.95"/><path d="M135.1 102.0 L139.8 60.2" fill="none" stroke="url(#p88)" stroke-width="3.3" stroke-linecap="round" stroke-dasharray="0 4.9" stroke-dashoffset="2.2" opacity="0.95"/><path d="M143.6 102.0 L147.0 55.2" fill="none" stroke="url(#p89)" stroke-width="3.3" stroke-linecap="round" stroke-dasharray="0 4.9" stroke-dashoffset="0" opacity="0.95"/><path d="M146.5 102.0 L149.9 58.8" fill="none" stroke="url(#p90)" stroke-width="3.3" stroke-linecap="round" stroke-dasharray="0 4.9" stroke-dashoffset="2.2" opacity="0.95"/><path d="M145.9 89.8 L152.6 53.4" fill="none" stroke="url(#p91)" stroke-width="3.3" stroke-linecap="round" stroke-dasharray="0 4.9" stroke-dashoffset="0" opacity="0.95"/><path d="M155.9 102.0 L160.4 52.9 L163.3 52.9" fill="none" stroke="url(#p92)" stroke-width="3.3" stroke-linecap="round" stroke-dasharray="0 4.9" stroke-dashoffset="0" opacity="0.95"/><path d="M158.8 102.0 L163.3 56.6 L166.2 56.6" fill="none" stroke="url(#p93)" stroke-width="3.3" stroke-linecap="round" stroke-dasharray="0 4.9" stroke-dashoffset="2.2" opacity="0.95"/><path d="M166.2 102.0 L171.8 52.9 L181.0 52.9" fill="none" stroke="url(#p94)" stroke-width="3.3" stroke-linecap="round" stroke-dasharray="0 4.9" stroke-dashoffset="0" opacity="0.95"/><path d="M169.1 102.0 L174.7 56.6 L183.9 56.6" fill="none" stroke="url(#p95)" stroke-width="3.3" stroke-linecap="round" stroke-dasharray="0 4.9" stroke-dashoffset="2.2" opacity="0.95"/><path d="M184.1 102.0 L190.4 55.7" fill="none" stroke="url(#p96)" stroke-width="3.3" stroke-linecap="round" stroke-dasharray="0 4.9" stroke-dashoffset="0" opacity="0.95"/><path d="M187.0 102.0 L193.3 59.3" fill="none" stroke="url(#p97)" stroke-width="3.3" stroke-linecap="round" stroke-dasharray="0 4.9" stroke-dashoffset="2.2" opacity="0.95"/><path d="M197.5 102.0 L205.4 49.7" fill="none" stroke="url(#p98)" stroke-width="3.3" stroke-linecap="round" stroke-dasharray="0 4.9" stroke-dashoffset="0" opacity="0.95"/><path d="M200.5 102.0 L208.3 53.4" fill="none" stroke="url(#p99)" stroke-width="3.3" stroke-linecap="round" stroke-dasharray="0 4.9" stroke-dashoffset="2.2" opacity="0.95"/><path d="M211.0 102.0 L219.9 48.8 L222.2 48.8" fill="none" stroke="url(#p100)" stroke-width="3.3" stroke-linecap="round" stroke-dasharray="0 4.9" stroke-dashoffset="0" opacity="0.95"/><path d="M213.9 102.0 L222.8 52.5 L225.1 52.5" fill="none" stroke="url(#p101)" stroke-width="3.3" stroke-linecap="round" stroke-dasharray="0 4.9" stroke-dashoffset="2.2" opacity="0.95"/><path d="M224.6 102.0 L225.7 60.2" fill="none" stroke="url(#p102)" stroke-width="3.3" stroke-linecap="round" stroke-dasharray="0 4.9" stroke-dashoffset="0" opacity="0.95"/><path d="M227.5 102.0 L228.6 63.8" fill="none" stroke="url(#p103)" stroke-width="3.3" stroke-linecap="round" stroke-dasharray="0 4.9" stroke-dashoffset="2.2" opacity="0.95"/><circle cx="69.1" cy="101.8" r="1.9" fill="#614dcf"/><circle cx="69.4" cy="99.1" r="1.7" fill="#6452d4"/><circle cx="95.1" cy="101.8" r="1.9" fill="#6452d4"/><circle cx="95.4" cy="99.1" r="1.7" fill="#5855d8"/><circle cx="120.6" cy="101.8" r="1.9" fill="#6452d4"/><circle cx="120.9" cy="99.1" r="1.7" fill="#5855d8"/><circle cx="132.4" cy="101.8" r="1.9" fill="#415ae1"/><circle cx="132.7" cy="99.1" r="1.7" fill="#375fe2"/><circle cx="143.6" cy="101.8" r="1.9" fill="#2070e6"/><circle cx="143.9" cy="99.1" r="1.7" fill="#267ae7"/><circle cx="155.9" cy="101.8" r="1.9" fill="#2070e6"/><circle cx="156.2" cy="99.1" r="1.7" fill="#267ae7"/><circle cx="166.2" cy="101.8" r="1.9" fill="#2070e6"/><circle cx="166.5" cy="99.1" r="1.7" fill="#267ae7"/><circle cx="184.1" cy="101.8" r="1.9" fill="#2070e6"/><circle cx="184.4" cy="99.1" r="1.7" fill="#267ae7"/><circle cx="197.5" cy="101.8" r="1.9" fill="#2070e6"/><circle cx="197.8" cy="99.1" r="1.7" fill="#267ae7"/><circle cx="211.0" cy="101.8" r="1.9" fill="#2070e6"/><circle cx="211.3" cy="99.1" r="1.7" fill="#267ae7"/><circle cx="224.6" cy="101.8" r="1.9" fill="#66b7e8"/><circle cx="224.9" cy="99.1" r="1.7" fill="#67bee4"/></g><rect x="49.45" y="21.55" width="178.97" height="81.85" fill="none" stroke="#3c3c3c" stroke-width="0.9"/><path d="M49.45 103.40v2.6M71.82 103.40v2.6M94.19 103.40v2.6M116.56 103.40v2.6M138.94 103.40v2.6M161.31 103.40v2.6M183.68 103.40v2.6M206.05 103.40v2.6M228.42 103.40v2.6M49.45 103.40h-2.6M49.45 80.66h-2.6M49.45 57.93h-2.6M49.45 35.19h-2.6" stroke="#333" stroke-width="0.7"/><text x="49.45" y="114.00" class="t" text-anchor="middle" textLength="13.9" lengthAdjust="spacingAndGlyphs">−40</text><text x="71.82" y="114.00" class="t" text-anchor="middle" textLength="13.9" lengthAdjust="spacingAndGlyphs">−30</text><text x="94.19" y="114.00" class="t" text-anchor="middle" textLength="13.9" lengthAdjust="spacingAndGlyphs">−20</text><text x="116.56" y="114.00" class="t" text-anchor="middle" textLength="13.9" lengthAdjust="spacingAndGlyphs">−10</text><text x="138.94" y="114.00" class="t" text-anchor="middle" textLength="4.2" lengthAdjust="spacingAndGlyphs">0</text><text x="161.31" y="114.00" class="t" text-anchor="middle" textLength="8.4" lengthAdjust="spacingAndGlyphs">10</text><text x="183.68" y="114.00" class="t" text-anchor="middle" textLength="8.4" lengthAdjust="spacingAndGlyphs">20</text><text x="206.05" y="114.00" class="t" text-anchor="middle" textLength="8.4" lengthAdjust="spacingAndGlyphs">30</text><text x="228.42" y="114.00" class="t" text-anchor="middle" textLength="8.4" lengthAdjust="spacingAndGlyphs">40</text><text x="44.55" y="105.95" class="t" text-anchor="end" textLength="4.2" lengthAdjust="spacingAndGlyphs">0</text><text x="44.55" y="83.21" class="t" text-anchor="end" textLength="4.2" lengthAdjust="spacingAndGlyphs">5</text><text x="44.55" y="60.48" class="t" text-anchor="end" textLength="8.4" lengthAdjust="spacingAndGlyphs">10</text><text x="44.55" y="37.74" class="t" text-anchor="end" textLength="8.4" lengthAdjust="spacingAndGlyphs">15</text><text x="138.94" y="123.00" class="t" text-anchor="middle" textLength="37.3" lengthAdjust="spacingAndGlyphs">Latitude (°)</text><text transform="translate(32.05 63.27) rotate(-90)" class="t" text-anchor="middle" textLength="43.6" lengthAdjust="spacingAndGlyphs">Altitude (km)</text><text x="19.85" y="15.65" class="l" textLength="11.6" lengthAdjust="spacingAndGlyphs">(a)</text><clipPath id="c1"><rect x="273.45" y="21.55" width="178.97" height="81.85"/></clipPath><g clip-path="url(#c1)"><g filter="url(#bl)"><rect x="273.45" y="19.5" width="2.74" height="79.3" fill="url(#g104)"/><rect x="275.69" y="19.5" width="2.74" height="79.3" fill="url(#g105)"/><rect x="277.92" y="19.5" width="2.74" height="79.3" fill="url(#g106)"/><rect x="280.16" y="19.5" width="2.74" height="79.3" fill="url(#g107)"/><rect x="282.40" y="19.5" width="2.74" height="79.3" fill="url(#g108)"/><rect x="284.64" y="19.5" width="2.74" height="79.3" fill="url(#g109)"/><rect x="286.87" y="19.5" width="2.74" height="79.3" fill="url(#g110)"/><rect x="289.11" y="19.5" width="2.74" height="79.3" fill="url(#g111)"/><rect x="291.35" y="19.5" width="2.74" height="79.3" fill="url(#g112)"/><rect x="293.58" y="19.5" width="2.74" height="79.3" fill="url(#g113)"/><rect x="295.82" y="19.5" width="2.74" height="79.3" fill="url(#g114)"/><rect x="298.06" y="19.5" width="2.74" height="79.3" fill="url(#g115)"/><rect x="300.30" y="19.5" width="2.74" height="79.3" fill="url(#g116)"/><rect x="302.53" y="19.5" width="2.74" height="79.3" fill="url(#g117)"/><rect x="304.77" y="19.5" width="2.74" height="79.3" fill="url(#g118)"/><rect x="307.01" y="19.5" width="2.74" height="79.3" fill="url(#g119)"/><rect x="309.24" y="19.5" width="2.74" height="79.3" fill="url(#g120)"/><rect x="311.48" y="19.5" width="2.74" height="79.3" fill="url(#g121)"/><rect x="313.72" y="19.5" width="2.74" height="79.3" fill="url(#g122)"/><rect x="315.96" y="19.5" width="2.74" height="79.3" fill="url(#g123)"/><rect x="318.19" y="19.5" width="2.74" height="79.3" fill="url(#g124)"/><rect x="320.43" y="19.5" width="2.74" height="79.3" fill="url(#g125)"/><rect x="322.67" y="19.5" width="2.74" height="79.3" fill="url(#g126)"/><rect x="324.90" y="19.5" width="2.74" height="79.3" fill="url(#g127)"/><rect x="327.14" y="19.5" width="2.74" height="79.3" fill="url(#g128)"/><rect x="329.38" y="19.5" width="2.74" height="79.3" fill="url(#g129)"/><rect x="331.62" y="19.5" width="2.74" height="79.3" fill="url(#g130)"/><rect x="333.85" y="19.5" width="2.74" height="79.3" fill="url(#g131)"/><rect x="336.09" y="19.5" width="2.74" height="79.3" fill="url(#g132)"/><rect x="338.33" y="19.5" width="2.74" height="79.3" fill="url(#g133)"/><rect x="340.56" y="19.5" width="2.74" height="79.3" fill="url(#g134)"/><rect x="342.80" y="19.5" width="2.74" height="79.3" fill="url(#g135)"/><rect x="345.04" y="19.5" width="2.74" height="79.3" fill="url(#g136)"/><rect x="347.28" y="19.5" width="2.74" height="79.3" fill="url(#g137)"/><rect x="349.51" y="19.5" width="2.74" height="79.3" fill="url(#g138)"/><rect x="351.75" y="19.5" width="2.74" height="79.3" fill="url(#g139)"/><rect x="353.99" y="19.5" width="2.74" height="79.3" fill="url(#g140)"/><rect x="356.22" y="19.5" width="2.74" height="79.3" fill="url(#g141)"/><rect x="358.46" y="19.5" width="2.74" height="79.3" fill="url(#g142)"/><rect x="360.70" y="19.5" width="2.74" height="79.3" fill="url(#g143)"/><rect x="362.93" y="19.5" width="2.74" height="79.3" fill="url(#g144)"/><rect x="365.17" y="19.5" width="2.74" height="79.3" fill="url(#g145)"/><rect x="367.41" y="19.5" width="2.74" height="79.3" fill="url(#g146)"/><rect x="369.65" y="19.5" width="2.74" height="79.3" fill="url(#g147)"/><rect x="371.88" y="19.5" width="2.74" height="79.3" fill="url(#g148)"/><rect x="374.12" y="19.5" width="2.74" height="79.3" fill="url(#g149)"/><rect x="376.36" y="19.5" width="2.74" height="79.3" fill="url(#g150)"/><rect x="378.59" y="19.5" width="2.74" height="79.3" fill="url(#g151)"/><rect x="380.83" y="19.5" width="2.74" height="79.3" fill="url(#g152)"/><rect x="383.07" y="19.5" width="2.74" height="79.3" fill="url(#g153)"/><rect x="385.31" y="19.5" width="2.74" height="79.3" fill="url(#g154)"/><rect x="387.54" y="19.5" width="2.74" height="79.3" fill="url(#g155)"/><rect x="389.78" y="19.5" width="2.74" height="79.3" fill="url(#g156)"/><rect x="392.02" y="19.5" width="2.74" height="79.3" fill="url(#g157)"/><rect x="394.25" y="19.5" width="2.74" height="79.3" fill="url(#g158)"/><rect x="396.49" y="19.5" width="2.74" height="79.3" fill="url(#g159)"/><rect x="398.73" y="19.5" width="2.74" height="79.3" fill="url(#g160)"/><rect x="400.97" y="19.5" width="2.74" height="79.3" fill="url(#g161)"/><rect x="403.20" y="19.5" width="2.74" height="79.3" fill="url(#g162)"/><rect x="405.44" y="19.5" width="2.74" height="79.3" fill="url(#g163)"/><rect x="407.68" y="19.5" width="2.74" height="79.3" fill="url(#g164)"/><rect x="409.91" y="19.5" width="2.74" height="79.3" fill="url(#g165)"/><rect x="412.15" y="19.5" width="2.74" height="79.3" fill="url(#g166)"/><rect x="414.39" y="19.5" width="2.74" height="79.3" fill="url(#g167)"/><rect x="416.63" y="19.5" width="2.74" height="79.3" fill="url(#g168)"/><rect x="418.86" y="19.5" width="2.74" height="79.3" fill="url(#g169)"/><rect x="421.10" y="19.5" width="2.74" height="79.3" fill="url(#g170)"/><rect x="423.34" y="19.5" width="2.74" height="79.3" fill="url(#g171)"/><rect x="425.57" y="19.5" width="2.74" height="79.3" fill="url(#g172)"/><rect x="427.81" y="19.5" width="2.74" height="79.3" fill="url(#g173)"/><rect x="430.05" y="19.5" width="2.74" height="79.3" fill="url(#g174)"/><rect x="432.29" y="19.5" width="2.74" height="79.3" fill="url(#g175)"/><rect x="434.52" y="19.5" width="2.74" height="79.3" fill="url(#g176)"/><rect x="436.76" y="19.5" width="2.74" height="79.3" fill="url(#g177)"/><rect x="439.00" y="19.5" width="2.74" height="79.3" fill="url(#g178)"/><rect x="441.23" y="19.5" width="2.74" height="79.3" fill="url(#g179)"/><rect x="443.47" y="19.5" width="2.74" height="79.3" fill="url(#g180)"/><rect x="445.71" y="19.5" width="2.74" height="79.3" fill="url(#g181)"/><rect x="447.95" y="19.5" width="2.74" height="79.3" fill="url(#g182)"/><rect x="450.18" y="19.5" width="2.74" height="79.3" fill="url(#g183)"/></g><g filter="url(#bb)"><path d="M271.2 18.6L271.2 64.9L273.4 64.9L276.4 64.0L282.4 64.0L286.2 63.0L298.1 62.6L300.3 59.4L302.5 60.3L303.7 64.4L310.4 64.4L311.9 59.9L316.0 59.5L317.3 60.6L318.2 60.4L321.3 52.2L323.1 51.1L324.9 54.0L331.6 54.9L333.4 52.6L335.0 55.3L348.4 56.2L349.5 54.0L362.9 54.0L363.8 53.5L370.5 51.1L371.9 49.9L377.3 47.9L380.8 45.4L391.8 45.4L397.4 55.2L398.7 54.3L401.9 57.0L403.2 55.2L405.4 58.8L407.7 57.5L409.9 59.7L414.6 62.0L418.9 63.4L433.4 63.8L441.2 64.3L445.5 64.3L447.9 62.0L451.1 62.5L452.4 65.2L455.8 65.2L455.8 18.6Z" fill="#46bcd2" fill-opacity="0.35"/><path d="M271.2 18.6L271.2 62.5L273.4 62.5L276.4 61.6L282.4 61.6L286.2 60.7L298.1 60.2L300.3 57.0L302.5 57.9L303.7 62.0L310.4 62.0L311.9 57.5L316.0 57.1L317.3 57.9L318.2 57.6L321.3 48.8L323.1 47.3L324.9 49.8L331.6 50.7L333.4 48.5L335.0 51.2L348.4 52.1L349.5 49.8L362.9 49.8L363.8 49.5L370.5 47.7L371.9 46.7L377.3 44.7L380.8 42.2L391.8 42.2L397.4 52.0L398.7 51.1L401.9 53.8L403.2 52.0L405.4 55.7L407.7 54.3L409.9 56.6L414.6 58.8L418.9 60.2L433.4 60.7L441.2 61.1L445.5 61.1L447.9 58.8L451.1 59.3L452.4 62.0L455.8 62.0L455.8 18.6Z" fill="#26aeb0" fill-opacity="0.7"/><path d="M271.2 18.6L271.2 60.4L273.4 60.4L276.4 59.5L282.4 59.5L286.2 58.6L298.1 58.2L300.3 55.0L302.5 55.9L303.7 60.0L310.4 60.0L311.9 55.4L316.0 55.1L317.3 55.6L318.2 55.2L321.3 45.9L323.1 44.0L324.9 46.3L331.6 47.2L333.4 44.9L335.0 47.7L348.4 48.6L349.5 46.3L362.9 46.3L363.8 46.0L370.5 44.9L371.9 44.0L377.3 42.0L380.8 39.5L391.8 39.5L397.4 49.3L398.7 48.4L401.9 51.1L403.2 49.3L405.4 52.9L407.7 51.6L409.9 53.8L414.6 56.1L418.9 57.5L433.4 57.9L441.2 58.4L445.5 58.4L447.9 56.1L451.1 56.6L452.4 59.3L455.8 59.3L455.8 18.6Z" fill="#52b16e" fill-opacity="1"/><path d="M271.2 18.6L271.2 58.7L273.4 58.7L276.4 57.8L282.4 57.8L286.2 56.9L298.1 56.4L300.3 53.3L302.5 54.2L303.7 58.3L310.4 58.3L311.9 53.7L316.0 53.4L317.3 53.8L318.2 53.2L321.3 43.4L323.1 41.3L324.9 43.3L331.6 44.2L333.4 42.0L335.0 44.7L348.4 45.6L349.5 43.3L362.9 43.3L363.8 43.2L370.5 42.5L371.9 41.7L377.3 39.7L380.8 37.2L391.8 37.2L397.4 47.0L398.7 46.1L401.9 48.8L403.2 47.0L405.4 50.7L407.7 49.3L409.9 51.6L414.6 53.8L418.9 55.2L433.4 55.7L441.2 56.1L445.5 56.1L447.9 53.8L451.1 54.3L452.4 57.0L455.8 57.0L455.8 18.6Z" fill="#9bbd37" fill-opacity="1"/><path d="M271.2 18.6L271.2 57.2L273.4 57.2L276.4 56.3L282.4 56.3L286.2 55.4L298.1 54.9L300.3 51.7L302.5 52.6L303.7 56.7L310.4 56.7L311.9 52.2L316.0 51.8L317.3 52.1L318.2 51.4L321.3 41.2L323.1 38.9L324.9 40.7L331.6 41.6L333.4 39.3L335.0 42.0L348.4 42.9L349.5 40.7L362.9 40.7L363.8 40.6L370.5 40.4L371.9 39.7L377.3 37.7L380.8 35.2L391.8 35.2L397.4 45.0L398.7 44.1L401.9 46.8L403.2 45.0L405.4 48.6L407.7 47.2L409.9 49.5L414.6 51.8L418.9 53.2L433.4 53.6L441.2 54.1L445.5 54.1L447.9 51.8L451.1 52.2L452.4 55.0L455.8 55.0L455.8 18.6Z" fill="#e2c032" fill-opacity="1"/><path d="M271.2 18.6L271.2 56.2L273.4 56.2L276.4 55.3L282.4 55.3L286.2 54.3L298.1 53.9L300.3 50.7L302.5 51.6L303.7 55.7L310.4 55.7L311.9 51.2L316.0 50.8L317.3 50.9L318.2 50.1L321.3 39.7L323.1 37.3L324.9 38.9L331.6 39.8L333.4 37.5L335.0 40.3L348.4 41.2L349.5 38.9L362.9 38.9L363.8 38.8L370.5 38.9L371.9 38.3L377.3 36.3L380.8 33.8L391.8 33.8L397.4 43.6L398.7 42.7L401.9 45.4L403.2 43.6L405.4 47.2L407.7 45.9L409.9 48.2L414.6 50.4L418.9 51.8L433.4 52.2L441.2 52.7L445.5 52.7L447.9 50.4L451.1 50.9L452.4 53.6L455.8 53.6L455.8 18.6Z" fill="#f9971b" fill-opacity="1"/><path d="M271.2 18.6L271.2 55.3L273.4 55.3L276.4 54.4L282.4 54.4L286.2 53.5L298.1 53.0L300.3 49.9L302.5 50.8L303.7 54.9L310.4 54.9L311.9 50.3L316.0 50.0L317.3 50.0L318.2 49.1L321.3 38.5L323.1 35.9L324.9 37.4L331.6 38.3L333.4 36.1L335.0 38.8L348.4 39.7L349.5 37.4L362.9 37.4L363.8 37.4L370.5 37.8L371.9 37.2L377.3 35.2L380.8 32.7L391.8 32.7L397.4 42.5L398.7 41.6L401.9 44.3L403.2 42.5L405.4 46.1L407.7 44.7L409.9 47.0L414.6 49.3L418.9 50.7L433.4 51.1L441.2 51.6L445.5 51.6L447.9 49.3L451.1 49.7L452.4 52.5L455.8 52.5L455.8 18.6Z" fill="#ee6024" fill-opacity="1"/><path d="M271.2 18.6L271.2 54.3L273.4 54.3L276.4 53.4L282.4 53.4L286.2 52.5L298.1 52.0L300.3 48.8L302.5 49.7L303.7 53.8L310.4 53.8L311.9 49.3L316.0 48.9L317.3 48.8L318.2 47.9L321.3 37.0L323.1 34.3L324.9 35.6L331.6 36.6L333.4 34.3L335.0 37.0L348.4 37.9L349.5 35.6L362.9 35.6L363.8 35.6L370.5 36.3L371.9 35.8L377.3 33.8L380.8 31.3L391.8 31.3L397.4 41.1L398.7 40.2L401.9 42.9L403.2 41.1L405.4 44.7L407.7 43.4L409.9 45.7L414.6 47.9L418.9 49.3L433.4 49.7L441.2 50.2L445.5 50.2L447.9 47.9L451.1 48.4L452.4 51.1L455.8 51.1L455.8 18.6Z" fill="#b2262a" fill-opacity="1"/></g><path d="M281.7 102.0 L280.2 52.9" fill="none" stroke="url(#p184)" stroke-width="3.3" stroke-linecap="round" stroke-dasharray="0 4.9" stroke-dashoffset="0" opacity="0.95"/><path d="M284.6 102.0 L283.1 56.6" fill="none" stroke="url(#p185)" stroke-width="3.3" stroke-linecap="round" stroke-dasharray="0 4.9" stroke-dashoffset="2.2" opacity="0.95"/><path d="M284.0 96.1 L288.9 52.9" fill="none" stroke="#53bdd9" stroke-width="3.3" stroke-linecap="round" stroke-dasharray="0 4.9" stroke-dashoffset="0" opacity="0.95"/><path d="M301.2 49.3 L290.0 49.3" fill="none" stroke="#e2502c" stroke-width="3.3" stroke-linecap="round" stroke-dasharray="0 4.9" stroke-dashoffset="0" opacity="0.95"/><path d="M305.2 102.0 L303.4 60.2" fill="none" stroke="url(#p186)" stroke-width="3.3" stroke-linecap="round" stroke-dasharray="0 4.9" stroke-dashoffset="0" opacity="0.95"/><path d="M308.1 102.0 L306.3 63.8" fill="none" stroke="url(#p187)" stroke-width="3.3" stroke-linecap="round" stroke-dasharray="0 4.9" stroke-dashoffset="2.2" opacity="0.95"/><path d="M308.3 98.9 L311.3 48.4 L316.9 48.4" fill="none" stroke="url(#p188)" stroke-width="3.3" stroke-linecap="round" stroke-dasharray="0 4.9" stroke-dashoffset="0" opacity="0.95"/><path d="M318.6 92.0 L319.1 62.5" fill="none" stroke="url(#p189)" stroke-width="3.3" stroke-linecap="round" stroke-dasharray="0 4.9" stroke-dashoffset="0" opacity="0.95"/><path d="M321.3 102.0 L324.5 67.0 L326.5 46.1" fill="none" stroke="url(#p190)" stroke-width="3.3" stroke-linecap="round" stroke-dasharray="0 4.9" stroke-dashoffset="0" opacity="0.95"/><path d="M332.5 44.7 L326.5 46.1" fill="none" stroke="#f7aa25" stroke-width="3.3" stroke-linecap="round" stroke-dasharray="0 4.9" stroke-dashoffset="0" opacity="0.95"/><path d="M345.5 43.1 L333.9 43.1" fill="none" stroke="#f98d19" stroke-width="3.3" stroke-linecap="round" stroke-dasharray="0 4.9" stroke-dashoffset="0" opacity="0.95"/><path d="M345.3 102.0 L345.0 52.9" fill="none" stroke="url(#p191)" stroke-width="3.3" stroke-linecap="round" stroke-dasharray="0 4.9" stroke-dashoffset="0" opacity="0.95"/><path d="M348.2 102.0 L347.9 56.6" fill="none" stroke="url(#p192)" stroke-width="3.3" stroke-linecap="round" stroke-dasharray="0 4.9" stroke-dashoffset="2.2" opacity="0.95"/><path d="M355.1 102.0 L352.9 55.2" fill="none" stroke="url(#p193)" stroke-width="3.3" stroke-linecap="round" stroke-dasharray="0 4.9" stroke-dashoffset="0" opacity="0.95"/><path d="M358.0 102.0 L355.8 58.8" fill="none" stroke="url(#p194)" stroke-width="3.3" stroke-linecap="round" stroke-dasharray="0 4.9" stroke-dashoffset="2.2" opacity="0.95"/><path d="M359.6 71.6 L360.7 52.9" fill="none" stroke="#53bdd9" stroke-width="3.3" stroke-linecap="round" stroke-dasharray="0 4.9" stroke-dashoffset="0" opacity="0.95"/><path d="M363.2 67.9 L363.2 67.0" fill="none" stroke="#f9971b" stroke-width="3.3" stroke-linecap="round" stroke-dasharray="0 4.9" stroke-dashoffset="0" opacity="0.95"/><path d="M367.4 102.0 L373.2 46.1 L375.5 46.6" fill="none" stroke="url(#p195)" stroke-width="3.3" stroke-linecap="round" stroke-dasharray="0 4.9" stroke-dashoffset="0" opacity="0.95"/><path d="M370.3 102.0 L376.1 49.7 L378.4 50.2" fill="none" stroke="url(#p196)" stroke-width="3.3" stroke-linecap="round" stroke-dasharray="0 4.9" stroke-dashoffset="2.2" opacity="0.95"/><path d="M383.3 102.0 L379.0 52.9" fill="none" stroke="url(#p197)" stroke-width="3.3" stroke-linecap="round" stroke-dasharray="0 4.9" stroke-dashoffset="0" opacity="0.95"/><path d="M386.2 102.0 L382.0 56.6" fill="none" stroke="url(#p198)" stroke-width="3.3" stroke-linecap="round" stroke-dasharray="0 4.9" stroke-dashoffset="2.2" opacity="0.95"/><path d="M395.6 102.0 L390.0 43.8 L395.8 43.8" fill="none" stroke="url(#p199)" stroke-width="3.3" stroke-linecap="round" stroke-dasharray="0 4.9" stroke-dashoffset="0" opacity="0.95"/><path d="M398.5 102.0 L392.9 47.5 L398.7 47.5" fill="none" stroke="url(#p200)" stroke-width="3.3" stroke-linecap="round" stroke-dasharray="0 4.9" stroke-dashoffset="2.2" opacity="0.95"/><path d="M408.1 102.0 L403.7 54.3 L400.3 54.3" fill="none" stroke="url(#p201)" stroke-width="3.3" stroke-linecap="round" stroke-dasharray="0 4.9" stroke-dashoffset="0" opacity="0.95"/><path d="M411.0 102.0 L406.6 57.9 L403.2 57.9" fill="none" stroke="url(#p202)" stroke-width="3.3" stroke-linecap="round" stroke-dasharray="0 4.9" stroke-dashoffset="2.2" opacity="0.95"/><path d="M409.0 96.6 L412.6 52.9 L422.7 52.9" fill="none" stroke="url(#p203)" stroke-width="3.3" stroke-linecap="round" stroke-dasharray="0 4.9" stroke-dashoffset="0" opacity="0.95"/><path d="M427.1 102.0 L423.8 56.6" fill="none" stroke="url(#p204)" stroke-width="3.3" stroke-linecap="round" stroke-dasharray="0 4.9" stroke-dashoffset="0" opacity="0.95"/><path d="M430.0 102.0 L426.7 60.2" fill="none" stroke="url(#p205)" stroke-width="3.3" stroke-linecap="round" stroke-dasharray="0 4.9" stroke-dashoffset="2.2" opacity="0.95"/><path d="M429.4 89.8 L433.0 50.2 L436.3 50.2" fill="none" stroke="#53bdd9" stroke-width="3.3" stroke-linecap="round" stroke-dasharray="0 4.9" stroke-dashoffset="0" opacity="0.95"/><path d="M440.6 102.0 L442.8 52.9" fill="none" stroke="url(#p206)" stroke-width="3.3" stroke-linecap="round" stroke-dasharray="0 4.9" stroke-dashoffset="0" opacity="0.95"/><path d="M443.5 102.0 L445.7 56.6" fill="none" stroke="url(#p207)" stroke-width="3.3" stroke-linecap="round" stroke-dasharray="0 4.9" stroke-dashoffset="2.2" opacity="0.95"/><path d="M448.6 102.0 L449.7 46.6" fill="none" stroke="url(#p208)" stroke-width="3.3" stroke-linecap="round" stroke-dasharray="0 4.9" stroke-dashoffset="0" opacity="0.95"/><path d="M451.5 102.0 L452.6 50.2" fill="none" stroke="url(#p209)" stroke-width="3.3" stroke-linecap="round" stroke-dasharray="0 4.9" stroke-dashoffset="2.2" opacity="0.95"/><circle cx="281.7" cy="101.8" r="1.9" fill="#2070e6"/><circle cx="282.0" cy="99.1" r="1.7" fill="#267ae7"/><circle cx="305.2" cy="101.8" r="1.9" fill="#2070e6"/><circle cx="305.5" cy="99.1" r="1.7" fill="#267ae7"/><circle cx="321.3" cy="101.8" r="1.9" fill="#2070e6"/><circle cx="321.6" cy="99.1" r="1.7" fill="#267ae7"/><circle cx="345.3" cy="101.8" r="1.9" fill="#2070e6"/><circle cx="345.6" cy="99.1" r="1.7" fill="#267ae7"/><circle cx="355.1" cy="101.8" r="1.9" fill="#2070e6"/><circle cx="355.4" cy="99.1" r="1.7" fill="#267ae7"/><circle cx="367.4" cy="101.8" r="1.9" fill="#2070e6"/><circle cx="367.7" cy="99.1" r="1.7" fill="#267ae7"/><circle cx="383.3" cy="101.8" r="1.9" fill="#2070e6"/><circle cx="383.6" cy="99.1" r="1.7" fill="#267ae7"/><circle cx="395.6" cy="101.8" r="1.9" fill="#267ae7"/><circle cx="395.9" cy="99.1" r="1.7" fill="#2a82e8"/><circle cx="408.1" cy="101.8" r="1.9" fill="#267ae7"/><circle cx="408.4" cy="99.1" r="1.7" fill="#2a82e8"/><circle cx="427.1" cy="101.8" r="1.9" fill="#267ae7"/><circle cx="427.4" cy="99.1" r="1.7" fill="#2a82e8"/><circle cx="440.6" cy="101.8" r="1.9" fill="#34b6c4"/><circle cx="440.9" cy="99.1" r="1.7" fill="#29b1bb"/><circle cx="448.6" cy="101.8" r="1.9" fill="#2070e6"/><circle cx="448.9" cy="99.1" r="1.7" fill="#267ae7"/></g><rect x="273.45" y="21.55" width="178.97" height="81.85" fill="none" stroke="#3c3c3c" stroke-width="0.9"/><path d="M273.45 103.40v2.6M295.82 103.40v2.6M318.19 103.40v2.6M340.56 103.40v2.6M362.93 103.40v2.6M385.31 103.40v2.6M407.68 103.40v2.6M430.05 103.40v2.6M452.42 103.40v2.6M273.45 103.40h-2.6M273.45 80.66h-2.6M273.45 57.93h-2.6M273.45 35.19h-2.6" stroke="#333" stroke-width="0.7"/><text x="273.45" y="114.00" class="t" text-anchor="middle" textLength="13.9" lengthAdjust="spacingAndGlyphs">−40</text><text x="295.82" y="114.00" class="t" text-anchor="middle" textLength="13.9" lengthAdjust="spacingAndGlyphs">−30</text><text x="318.19" y="114.00" class="t" text-anchor="middle" textLength="13.9" lengthAdjust="spacingAndGlyphs">−20</text><text x="340.56" y="114.00" class="t" text-anchor="middle" textLength="13.9" lengthAdjust="spacingAndGlyphs">−10</text><text x="362.93" y="114.00" class="t" text-anchor="middle" textLength="4.2" lengthAdjust="spacingAndGlyphs">0</text><text x="385.31" y="114.00" class="t" text-anchor="middle" textLength="8.4" lengthAdjust="spacingAndGlyphs">10</text><text x="407.68" y="114.00" class="t" text-anchor="middle" textLength="8.4" lengthAdjust="spacingAndGlyphs">20</text><text x="430.05" y="114.00" class="t" text-anchor="middle" textLength="8.4" lengthAdjust="spacingAndGlyphs">30</text><text x="452.42" y="114.00" class="t" text-anchor="middle" textLength="8.4" lengthAdjust="spacingAndGlyphs">40</text><text x="268.55" y="105.95" class="t" text-anchor="end" textLength="4.2" lengthAdjust="spacingAndGlyphs">0</text><text x="268.55" y="83.21" class="t" text-anchor="end" textLength="4.2" lengthAdjust="spacingAndGlyphs">5</text><text x="268.55" y="60.48" class="t" text-anchor="end" textLength="8.4" lengthAdjust="spacingAndGlyphs">10</text><text x="268.55" y="37.74" class="t" text-anchor="end" textLength="8.4" lengthAdjust="spacingAndGlyphs">15</text><text x="362.94" y="123.00" class="t" text-anchor="middle" textLength="37.3" lengthAdjust="spacingAndGlyphs">Latitude (°)</text><text transform="translate(256.05 63.27) rotate(-90)" class="t" text-anchor="middle" textLength="43.6" lengthAdjust="spacingAndGlyphs">Altitude (km)</text><text x="243.15" y="15.65" class="l" textLength="11.6" lengthAdjust="spacingAndGlyphs">(b)</text><path d="M463.1 103.00V25.50L465.50 21.20L467.9 25.50V103.00Z" fill="url(#cb210)" stroke="#222" stroke-width="0.7"/><text x="472.80" y="105.55" class="t" textLength="4.2" lengthAdjust="spacingAndGlyphs">0</text><text x="472.80" y="86.17" class="t" textLength="8.4" lengthAdjust="spacingAndGlyphs">30</text><text x="472.80" y="66.80" class="t" textLength="8.4" lengthAdjust="spacingAndGlyphs">60</text><text x="472.80" y="47.42" class="t" textLength="8.4" lengthAdjust="spacingAndGlyphs">90</text><text x="472.80" y="28.05" class="t" textLength="12.6" lengthAdjust="spacingAndGlyphs">120</text><path d="M467.9 103.00h2.6M467.9 83.62h2.6M467.9 64.25h2.6M467.9 44.87h2.6M467.9 25.50h2.6" stroke="#333" stroke-width="0.7"/><text transform="translate(493.40 65.35) rotate(-90)" class="t" text-anchor="middle" textLength="17.6" lengthAdjust="spacingAndGlyphs">(ppb)</text><clipPath id="c2"><rect x="49.45" y="145.60" width="178.97" height="81.85"/></clipPath><g clip-path="url(#c2)"><g filter="url(#bl)"><rect x="49.45" y="143.6" width="2.74" height="77.0" fill="url(#g211)"/><rect x="51.69" y="143.6" width="2.74" height="77.0" fill="url(#g212)"/><rect x="53.92" y="143.6" width="2.74" height="77.0" fill="url(#g213)"/><rect x="56.16" y="143.6" width="2.74" height="77.0" fill="url(#g214)"/><rect x="58.40" y="143.6" width="2.74" height="77.0" fill="url(#g215)"/><rect x="60.64" y="143.6" width="2.74" height="77.0" fill="url(#g216)"/><rect x="62.87" y="143.6" width="2.74" height="77.0" fill="url(#g217)"/><rect x="65.11" y="143.6" width="2.74" height="77.0" fill="url(#g218)"/><rect x="67.35" y="143.6" width="2.74" height="77.0" fill="url(#g219)"/><rect x="69.58" y="143.6" width="2.74" height="77.0" fill="url(#g220)"/><rect x="71.82" y="143.6" width="2.74" height="77.0" fill="url(#g221)"/><rect x="74.06" y="143.6" width="2.74" height="77.0" fill="url(#g222)"/><rect x="76.30" y="143.6" width="2.74" height="77.0" fill="url(#g223)"/><rect x="78.53" y="143.6" width="2.74" height="77.0" fill="url(#g224)"/><rect x="80.77" y="143.6" width="2.74" height="77.0" fill="url(#g225)"/><rect x="83.01" y="143.6" width="2.74" height="77.0" fill="url(#g226)"/><rect x="85.24" y="143.6" width="2.74" height="77.0" fill="url(#g227)"/><rect x="87.48" y="143.6" width="2.74" height="77.0" fill="url(#g228)"/><rect x="89.72" y="143.6" width="2.74" height="77.0" fill="url(#g229)"/><rect x="91.96" y="143.6" width="2.74" height="77.0" fill="url(#g230)"/><rect x="94.19" y="143.6" width="2.74" height="77.0" fill="url(#g231)"/><rect x="96.43" y="143.6" width="2.74" height="77.0" fill="url(#g232)"/><rect x="98.67" y="143.6" width="2.74" height="77.0" fill="url(#g233)"/><rect x="100.90" y="143.6" width="2.74" height="77.0" fill="url(#g234)"/><rect x="103.14" y="143.6" width="2.74" height="77.0" fill="url(#g235)"/><rect x="105.38" y="143.6" width="2.74" height="77.0" fill="url(#g236)"/><rect x="107.62" y="143.6" width="2.74" height="77.0" fill="url(#g237)"/><rect x="109.85" y="143.6" width="2.74" height="77.0" fill="url(#g238)"/><rect x="112.09" y="143.6" width="2.74" height="77.0" fill="url(#g239)"/><rect x="114.33" y="143.6" width="2.74" height="77.0" fill="url(#g240)"/><rect x="116.56" y="143.6" width="2.74" height="77.0" fill="url(#g241)"/><rect x="118.80" y="143.6" width="2.74" height="77.0" fill="url(#g242)"/><rect x="121.04" y="143.6" width="2.74" height="77.0" fill="url(#g243)"/><rect x="123.28" y="143.6" width="2.74" height="77.0" fill="url(#g244)"/><rect x="125.51" y="143.6" width="2.74" height="77.0" fill="url(#g245)"/><rect x="127.75" y="143.6" width="2.74" height="77.0" fill="url(#g246)"/><rect x="129.99" y="143.6" width="2.74" height="77.0" fill="url(#g247)"/><rect x="132.22" y="143.6" width="2.74" height="77.0" fill="url(#g248)"/><rect x="134.46" y="143.6" width="2.74" height="77.0" fill="url(#g249)"/><rect x="136.70" y="143.6" width="2.74" height="77.0" fill="url(#g250)"/><rect x="138.94" y="143.6" width="2.74" height="77.0" fill="url(#g251)"/><rect x="141.17" y="143.6" width="2.74" height="77.0" fill="url(#g252)"/><rect x="143.41" y="143.6" width="2.74" height="77.0" fill="url(#g253)"/><rect x="145.65" y="143.6" width="2.74" height="77.0" fill="url(#g254)"/><rect x="147.88" y="143.6" width="2.74" height="77.0" fill="url(#g255)"/><rect x="150.12" y="143.6" width="2.74" height="77.0" fill="url(#g256)"/><rect x="152.36" y="143.6" width="2.74" height="77.0" fill="url(#g257)"/><rect x="154.59" y="143.6" width="2.74" height="77.0" fill="url(#g258)"/><rect x="156.83" y="143.6" width="2.74" height="77.0" fill="url(#g259)"/><rect x="159.07" y="143.6" width="2.74" height="77.0" fill="url(#g260)"/><rect x="161.31" y="143.6" width="2.74" height="77.0" fill="url(#g261)"/><rect x="163.54" y="143.6" width="2.74" height="77.0" fill="url(#g262)"/><rect x="165.78" y="143.6" width="2.74" height="77.0" fill="url(#g263)"/><rect x="168.02" y="143.6" width="2.74" height="77.0" fill="url(#g264)"/><rect x="170.25" y="143.6" width="2.74" height="77.0" fill="url(#g265)"/><rect x="172.49" y="143.6" width="2.74" height="77.0" fill="url(#g266)"/><rect x="174.73" y="143.6" width="2.74" height="77.0" fill="url(#g267)"/><rect x="176.97" y="143.6" width="2.74" height="77.0" fill="url(#g268)"/><rect x="179.20" y="143.6" width="2.74" height="77.0" fill="url(#g269)"/><rect x="181.44" y="143.6" width="2.74" height="77.0" fill="url(#g270)"/><rect x="183.68" y="143.6" width="2.74" height="77.0" fill="url(#g271)"/><rect x="185.91" y="143.6" width="2.74" height="77.0" fill="url(#g272)"/><rect x="188.15" y="143.6" width="2.74" height="77.0" fill="url(#g273)"/><rect x="190.39" y="143.6" width="2.74" height="77.0" fill="url(#g274)"/><rect x="192.63" y="143.6" width="2.74" height="77.0" fill="url(#g275)"/><rect x="194.86" y="143.6" width="2.74" height="77.0" fill="url(#g276)"/><rect x="197.10" y="143.6" width="2.74" height="77.0" fill="url(#g277)"/><rect x="199.34" y="143.6" width="2.74" height="77.0" fill="url(#g278)"/><rect x="201.57" y="143.6" width="2.74" height="77.0" fill="url(#g279)"/><rect x="203.81" y="143.6" width="2.74" height="77.0" fill="url(#g280)"/><rect x="206.05" y="143.6" width="2.74" height="77.0" fill="url(#g281)"/><rect x="208.29" y="143.6" width="2.74" height="77.0" fill="url(#g282)"/><rect x="210.52" y="143.6" width="2.74" height="77.0" fill="url(#g283)"/><rect x="212.76" y="143.6" width="2.74" height="77.0" fill="url(#g284)"/><rect x="215.00" y="143.6" width="2.74" height="77.0" fill="url(#g285)"/><rect x="217.23" y="143.6" width="2.74" height="77.0" fill="url(#g286)"/><rect x="219.47" y="143.6" width="2.74" height="77.0" fill="url(#g287)"/><rect x="221.71" y="143.6" width="2.74" height="77.0" fill="url(#g288)"/><rect x="223.95" y="143.6" width="2.74" height="77.0" fill="url(#g289)"/><rect x="226.18" y="143.6" width="2.74" height="77.0" fill="url(#g290)"/></g><g filter="url(#bb)"><path d="M47.2 142.6L47.2 166.7L48.1 166.7L49.5 166.6L60.6 166.1L71.8 166.5L73.8 170.0L80.8 183.3L84.8 186.4L89.7 188.8L96.0 186.4L103.1 182.5L109.0 176.0L116.6 168.5L118.8 167.9L125.5 166.5L132.2 164.7L138.9 164.6L140.1 164.7L165.6 165.2L168.0 166.5L173.4 167.9L178.1 170.6L182.1 173.8L183.7 174.2L185.9 174.4L189.7 174.8L195.3 176.7L197.5 181.9L199.8 185.2L206.0 185.3L217.2 186.2L223.9 187.5L228.4 188.5L230.2 188.9L231.8 188.9L231.8 142.6Z" fill="#52b16e" fill-opacity="0.35"/><path d="M47.2 142.6L47.2 165.0L48.1 165.0L49.5 164.9L60.6 164.4L71.8 164.7L73.8 167.4L80.8 177.9L84.8 180.1L89.7 181.5L96.0 179.5L103.1 176.0L109.0 170.6L116.6 164.5L118.8 163.9L125.5 162.7L132.2 161.0L138.9 161.0L140.1 161.1L165.6 161.5L168.0 162.9L173.4 164.2L178.1 167.0L182.1 170.2L183.7 170.5L185.9 170.8L189.7 171.3L195.3 173.5L197.5 178.7L199.8 182.1L206.0 182.3L217.2 183.3L223.9 184.6L228.4 185.6L230.2 186.0L231.8 186.0L231.8 142.6Z" fill="#9bbd37" fill-opacity="0.7"/><path d="M47.2 142.6L47.2 163.6L48.1 163.6L49.5 163.5L60.6 162.9L71.8 163.1L73.8 165.1L80.8 173.1L84.8 174.6L89.7 175.2L96.0 173.4L103.1 170.2L109.0 165.8L116.6 161.0L118.8 160.5L125.5 159.3L132.2 157.7L138.9 157.8L140.1 157.9L165.6 158.3L168.0 159.7L173.4 161.1L178.1 163.8L182.1 167.0L183.7 167.3L185.9 167.7L189.7 168.3L195.3 170.6L197.5 175.9L199.8 179.4L206.0 179.8L217.2 180.7L223.9 182.1L228.4 183.0L230.2 183.4L231.8 183.4L231.8 142.6Z" fill="#e2c032" fill-opacity="1"/><path d="M47.2 142.6L47.2 162.4L48.1 162.4L49.5 162.3L60.6 161.6L71.8 161.7L73.8 163.1L80.8 169.0L84.8 169.9L89.7 169.7L96.0 168.2L103.1 165.3L109.0 161.7L116.6 158.0L118.8 157.5L125.5 156.4L132.2 154.9L138.9 155.1L140.1 155.1L165.6 155.6L168.0 157.0L173.4 158.3L178.1 161.1L182.1 164.2L183.7 164.6L185.9 165.0L189.7 165.7L195.3 168.2L197.5 173.5L199.8 177.0L206.0 177.6L217.2 178.5L223.9 179.9L228.4 180.9L230.2 181.3L231.8 181.3L231.8 142.6Z" fill="#faa01e" fill-opacity="1"/><path d="M47.2 142.6L47.2 161.3L48.1 161.3L49.5 161.2L60.6 160.5L71.8 160.6L73.8 161.4L80.8 165.6L84.8 166.0L89.7 165.2L96.0 163.9L103.1 161.2L109.0 158.3L116.6 155.5L118.8 155.0L125.5 154.0L132.2 152.5L138.9 152.8L140.1 152.9L165.6 153.3L168.0 154.7L173.4 156.1L178.1 158.8L182.1 162.0L183.7 162.3L185.9 162.8L189.7 163.6L195.3 166.1L197.5 171.5L199.8 175.1L206.0 175.8L217.2 176.7L223.9 178.1L228.4 179.0L230.2 179.4L231.8 179.4L231.8 142.6Z" fill="#f88416" fill-opacity="1"/><path d="M47.2 142.6L47.2 160.2L48.1 160.2L49.5 160.1L60.6 159.3L71.8 159.4L73.8 159.6L80.8 161.9L84.8 161.7L89.7 160.2L96.0 159.1L103.1 156.7L109.0 154.6L116.6 152.7L118.8 152.3L125.5 151.4L132.2 150.0L138.9 150.3L140.1 150.4L165.6 150.8L168.0 152.2L173.4 153.6L178.1 156.3L182.1 159.5L183.7 159.8L185.9 160.4L189.7 161.2L195.3 163.9L197.5 169.3L199.8 172.9L206.0 173.8L217.2 174.7L223.9 176.1L228.4 177.0L230.2 177.4L231.8 177.4L231.8 142.6Z" fill="#ee6024" fill-opacity="1"/><path d="M47.2 142.6L47.2 159.7L48.1 159.7L49.5 159.6L60.6 158.8L71.8 158.8L73.8 158.8L80.8 160.2L84.8 159.7L89.7 157.9L96.0 157.0L103.1 154.7L109.0 152.9L116.6 151.5L118.8 151.1L125.5 150.1L132.2 148.8L138.9 149.2L140.1 149.2L165.6 149.7L168.0 151.1L173.4 152.4L178.1 155.1L182.1 158.3L183.7 158.7L185.9 159.2L189.7 160.2L195.3 162.9L197.5 168.3L199.8 172.0L206.0 172.9L217.2 173.8L223.9 175.2L228.4 176.1L230.2 176.5L231.8 176.5L231.8 142.6Z" fill="#b2262a" fill-opacity="1"/></g><path d="M56.6 178.8 L48.1 178.8" fill="none" stroke="#267ae7" stroke-width="3.3" stroke-linecap="round" stroke-dasharray="0 1.5" stroke-dashoffset="0" opacity="0.95"/><path d="M64.7 177.9 L56.6 177.9" fill="none" stroke="#5abddd" stroke-width="3.3" stroke-linecap="round" stroke-dasharray="0 3.4" stroke-dashoffset="0" opacity="0.95"/><path d="M69.1 226.1 L64.7 178.3" fill="none" stroke="url(#p291)" stroke-width="3.3" stroke-linecap="round" stroke-dasharray="0 4.9" stroke-dashoffset="0" opacity="0.95"/><path d="M71.8 226.1 L67.3 182.9" fill="none" stroke="url(#p292)" stroke-width="3.3" stroke-linecap="round" stroke-dasharray="0 4.9" stroke-dashoffset="2.2" opacity="0.95"/><path d="M72.3 200.2 L71.4 176.1" fill="none" stroke="#40bacd" stroke-width="3.3" stroke-linecap="round" stroke-dasharray="0 4.9" stroke-dashoffset="0" opacity="0.95"/><path d="M81.7 176.1 L74.1 176.1" fill="none" stroke="#30ac98" stroke-width="3.3" stroke-linecap="round" stroke-dasharray="0 4.9" stroke-dashoffset="0" opacity="0.95"/><path d="M92.9 176.1 L81.7 176.1" fill="none" stroke="#e85828" stroke-width="3.3" stroke-linecap="round" stroke-dasharray="0 4.9" stroke-dashoffset="0" opacity="0.95"/><path d="M95.1 226.1 L92.9 176.1" fill="none" stroke="url(#p293)" stroke-width="3.3" stroke-linecap="round" stroke-dasharray="0 4.9" stroke-dashoffset="0" opacity="0.95"/><path d="M98.9 195.6 L98.0 177.4" fill="none" stroke="url(#p294)" stroke-width="3.3" stroke-linecap="round" stroke-dasharray="0 4.9" stroke-dashoffset="0" opacity="0.95"/><path d="M107.6 172.4 L100.9 172.4" fill="none" stroke="#53bdd9" stroke-width="3.3" stroke-linecap="round" stroke-dasharray="0 4.9" stroke-dashoffset="0" opacity="0.95"/><path d="M115.4 172.4 L107.6 172.4" fill="none" stroke="#52b16e" stroke-width="3.3" stroke-linecap="round" stroke-dasharray="0 4.9" stroke-dashoffset="0" opacity="0.95"/><path d="M120.6 226.1 L115.4 172.4" fill="none" stroke="url(#p295)" stroke-width="3.3" stroke-linecap="round" stroke-dasharray="0 4.9" stroke-dashoffset="0" opacity="0.95"/><path d="M123.3 216.1 L126.6 182.9" fill="none" stroke="url(#p296)" stroke-width="3.3" stroke-linecap="round" stroke-dasharray="0 4.9" stroke-dashoffset="0" opacity="0.95"/><path d="M132.4 226.1 L137.1 179.7" fill="none" stroke="url(#p297)" stroke-width="3.3" stroke-linecap="round" stroke-dasharray="0 4.9" stroke-dashoffset="0" opacity="0.95"/><path d="M135.1 226.1 L139.8 184.3" fill="none" stroke="url(#p298)" stroke-width="3.3" stroke-linecap="round" stroke-dasharray="0 4.9" stroke-dashoffset="2.2" opacity="0.95"/><path d="M143.6 226.1 L147.0 179.2" fill="none" stroke="url(#p299)" stroke-width="3.3" stroke-linecap="round" stroke-dasharray="0 4.9" stroke-dashoffset="0" opacity="0.95"/><path d="M146.5 226.1 L149.9 182.9" fill="none" stroke="url(#p300)" stroke-width="3.3" stroke-linecap="round" stroke-dasharray="0 4.9" stroke-dashoffset="2.2" opacity="0.95"/><path d="M145.9 213.8 L152.6 177.4" fill="none" stroke="url(#p301)" stroke-width="3.3" stroke-linecap="round" stroke-dasharray="0 4.9" stroke-dashoffset="0" opacity="0.95"/><path d="M155.9 226.1 L160.4 177.0 L163.3 177.0" fill="none" stroke="url(#p302)" stroke-width="3.3" stroke-linecap="round" stroke-dasharray="0 4.9" stroke-dashoffset="0" opacity="0.95"/><path d="M158.8 226.1 L163.3 180.6 L166.2 180.6" fill="none" stroke="url(#p303)" stroke-width="3.3" stroke-linecap="round" stroke-dasharray="0 4.9" stroke-dashoffset="2.2" opacity="0.95"/><path d="M166.2 226.1 L171.8 177.0 L181.0 177.0" fill="none" stroke="url(#p304)" stroke-width="3.3" stroke-linecap="round" stroke-dasharray="0 4.9" stroke-dashoffset="0" opacity="0.95"/><path d="M169.1 226.1 L174.7 180.6 L183.9 180.6" fill="none" stroke="url(#p305)" stroke-width="3.3" stroke-linecap="round" stroke-dasharray="0 4.9" stroke-dashoffset="2.2" opacity="0.95"/><path d="M184.1 226.1 L190.4 179.7" fill="none" stroke="url(#p306)" stroke-width="3.3" stroke-linecap="round" stroke-dasharray="0 4.9" stroke-dashoffset="0" opacity="0.95"/><path d="M187.0 226.1 L193.3 183.3" fill="none" stroke="url(#p307)" stroke-width="3.3" stroke-linecap="round" stroke-dasharray="0 4.9" stroke-dashoffset="2.2" opacity="0.95"/><path d="M197.5 226.1 L205.4 173.8" fill="none" stroke="url(#p308)" stroke-width="3.3" stroke-linecap="round" stroke-dasharray="0 4.9" stroke-dashoffset="0" opacity="0.95"/><path d="M200.5 226.1 L208.3 177.4" fill="none" stroke="url(#p309)" stroke-width="3.3" stroke-linecap="round" stroke-dasharray="0 4.9" stroke-dashoffset="2.2" opacity="0.95"/><path d="M211.0 226.1 L219.9 172.9 L222.2 172.9" fill="none" stroke="url(#p310)" stroke-width="3.3" stroke-linecap="round" stroke-dasharray="0 4.9" stroke-dashoffset="0" opacity="0.95"/><path d="M213.9 226.1 L222.8 176.5 L225.1 176.5" fill="none" stroke="url(#p311)" stroke-width="3.3" stroke-linecap="round" stroke-dasharray="0 4.9" stroke-dashoffset="2.2" opacity="0.95"/><path d="M224.6 226.1 L225.7 184.3" fill="none" stroke="url(#p312)" stroke-width="3.3" stroke-linecap="round" stroke-dasharray="0 4.9" stroke-dashoffset="0" opacity="0.95"/><path d="M227.5 226.1 L228.6 187.9" fill="none" stroke="url(#p313)" stroke-width="3.3" stroke-linecap="round" stroke-dasharray="0 4.9" stroke-dashoffset="2.2" opacity="0.95"/><circle cx="69.1" cy="225.9" r="1.9" fill="#614dcf"/><circle cx="69.4" cy="223.1" r="1.7" fill="#6452d4"/><circle cx="95.1" cy="225.9" r="1.9" fill="#6452d4"/><circle cx="95.4" cy="223.1" r="1.7" fill="#5855d8"/><circle cx="120.6" cy="225.9" r="1.9" fill="#6452d4"/><circle cx="120.9" cy="223.1" r="1.7" fill="#5855d8"/><circle cx="132.4" cy="225.9" r="1.9" fill="#415ae1"/><circle cx="132.7" cy="223.1" r="1.7" fill="#375fe2"/><circle cx="143.6" cy="225.9" r="1.9" fill="#2070e6"/><circle cx="143.9" cy="223.1" r="1.7" fill="#267ae7"/><circle cx="155.9" cy="225.9" r="1.9" fill="#2070e6"/><circle cx="156.2" cy="223.1" r="1.7" fill="#267ae7"/><circle cx="166.2" cy="225.9" r="1.9" fill="#2070e6"/><circle cx="166.5" cy="223.1" r="1.7" fill="#267ae7"/><circle cx="184.1" cy="225.9" r="1.9" fill="#2070e6"/><circle cx="184.4" cy="223.1" r="1.7" fill="#267ae7"/><circle cx="197.5" cy="225.9" r="1.9" fill="#2070e6"/><circle cx="197.8" cy="223.1" r="1.7" fill="#267ae7"/><circle cx="211.0" cy="225.9" r="1.9" fill="#2070e6"/><circle cx="211.3" cy="223.1" r="1.7" fill="#267ae7"/><circle cx="224.6" cy="225.9" r="1.9" fill="#66b7e8"/><circle cx="224.9" cy="223.1" r="1.7" fill="#67bee4"/></g><rect x="49.45" y="145.60" width="178.97" height="81.85" fill="none" stroke="#3c3c3c" stroke-width="0.9"/><path d="M49.45 227.45v2.6M71.82 227.45v2.6M94.19 227.45v2.6M116.56 227.45v2.6M138.94 227.45v2.6M161.31 227.45v2.6M183.68 227.45v2.6M206.05 227.45v2.6M228.42 227.45v2.6M49.45 227.45h-2.6M49.45 204.71h-2.6M49.45 181.98h-2.6M49.45 159.24h-2.6" stroke="#333" stroke-width="0.7"/><text x="49.45" y="238.05" class="t" text-anchor="middle" textLength="13.9" lengthAdjust="spacingAndGlyphs">−40</text><text x="71.82" y="238.05" class="t" text-anchor="middle" textLength="13.9" lengthAdjust="spacingAndGlyphs">−30</text><text x="94.19" y="238.05" class="t" text-anchor="middle" textLength="13.9" lengthAdjust="spacingAndGlyphs">−20</text><text x="116.56" y="238.05" class="t" text-anchor="middle" textLength="13.9" lengthAdjust="spacingAndGlyphs">−10</text><text x="138.94" y="238.05" class="t" text-anchor="middle" textLength="4.2" lengthAdjust="spacingAndGlyphs">0</text><text x="161.31" y="238.05" class="t" text-anchor="middle" textLength="8.4" lengthAdjust="spacingAndGlyphs">10</text><text x="183.68" y="238.05" class="t" text-anchor="middle" textLength="8.4" lengthAdjust="spacingAndGlyphs">20</text><text x="206.05" y="238.05" class="t" text-anchor="middle" textLength="8.4" lengthAdjust="spacingAndGlyphs">30</text><text x="228.42" y="238.05" class="t" text-anchor="middle" textLength="8.4" lengthAdjust="spacingAndGlyphs">40</text><text x="44.55" y="230.00" class="t" text-anchor="end" textLength="4.2" lengthAdjust="spacingAndGlyphs">0</text><text x="44.55" y="207.26" class="t" text-anchor="end" textLength="4.2" lengthAdjust="spacingAndGlyphs">5</text><text x="44.55" y="184.53" class="t" text-anchor="end" textLength="8.4" lengthAdjust="spacingAndGlyphs">10</text><text x="44.55" y="161.79" class="t" text-anchor="end" textLength="8.4" lengthAdjust="spacingAndGlyphs">15</text><text x="138.94" y="247.05" class="t" text-anchor="middle" textLength="37.3" lengthAdjust="spacingAndGlyphs">Latitude (°)</text><text transform="translate(32.05 187.32) rotate(-90)" class="t" text-anchor="middle" textLength="43.6" lengthAdjust="spacingAndGlyphs">Altitude (km)</text><text x="19.85" y="139.70" class="l" textLength="11.6" lengthAdjust="spacingAndGlyphs">(c)</text><clipPath id="c3"><rect x="273.45" y="145.60" width="178.97" height="81.85"/></clipPath><g clip-path="url(#c3)"><g filter="url(#bl)"><rect x="273.45" y="143.6" width="2.74" height="77.0" fill="url(#g314)"/><rect x="275.69" y="143.6" width="2.74" height="77.0" fill="url(#g315)"/><rect x="277.92" y="143.6" width="2.74" height="77.0" fill="url(#g316)"/><rect x="280.16" y="143.6" width="2.74" height="77.0" fill="url(#g317)"/><rect x="282.40" y="143.6" width="2.74" height="77.0" fill="url(#g318)"/><rect x="284.64" y="143.6" width="2.74" height="77.0" fill="url(#g319)"/><rect x="286.87" y="143.6" width="2.74" height="77.0" fill="url(#g320)"/><rect x="289.11" y="143.6" width="2.74" height="77.0" fill="url(#g321)"/><rect x="291.35" y="143.6" width="2.74" height="77.0" fill="url(#g322)"/><rect x="293.58" y="143.6" width="2.74" height="77.0" fill="url(#g323)"/><rect x="295.82" y="143.6" width="2.74" height="77.0" fill="url(#g324)"/><rect x="298.06" y="143.6" width="2.74" height="77.0" fill="url(#g325)"/><rect x="300.30" y="143.6" width="2.74" height="77.0" fill="url(#g326)"/><rect x="302.53" y="143.6" width="2.74" height="77.0" fill="url(#g327)"/><rect x="304.77" y="143.6" width="2.74" height="77.0" fill="url(#g328)"/><rect x="307.01" y="143.6" width="2.74" height="77.0" fill="url(#g329)"/><rect x="309.24" y="143.6" width="2.74" height="77.0" fill="url(#g330)"/><rect x="311.48" y="143.6" width="2.74" height="77.0" fill="url(#g331)"/><rect x="313.72" y="143.6" width="2.74" height="77.0" fill="url(#g332)"/><rect x="315.96" y="143.6" width="2.74" height="77.0" fill="url(#g333)"/><rect x="318.19" y="143.6" width="2.74" height="77.0" fill="url(#g334)"/><rect x="320.43" y="143.6" width="2.74" height="77.0" fill="url(#g335)"/><rect x="322.67" y="143.6" width="2.74" height="77.0" fill="url(#g336)"/><rect x="324.90" y="143.6" width="2.74" height="77.0" fill="url(#g337)"/><rect x="327.14" y="143.6" width="2.74" height="77.0" fill="url(#g338)"/><rect x="329.38" y="143.6" width="2.74" height="77.0" fill="url(#g339)"/><rect x="331.62" y="143.6" width="2.74" height="77.0" fill="url(#g340)"/><rect x="333.85" y="143.6" width="2.74" height="77.0" fill="url(#g341)"/><rect x="336.09" y="143.6" width="2.74" height="77.0" fill="url(#g342)"/><rect x="338.33" y="143.6" width="2.74" height="77.0" fill="url(#g343)"/><rect x="340.56" y="143.6" width="2.74" height="77.0" fill="url(#g344)"/><rect x="342.80" y="143.6" width="2.74" height="77.0" fill="url(#g345)"/><rect x="345.04" y="143.6" width="2.74" height="77.0" fill="url(#g346)"/><rect x="347.28" y="143.6" width="2.74" height="77.0" fill="url(#g347)"/><rect x="349.51" y="143.6" width="2.74" height="77.0" fill="url(#g348)"/><rect x="351.75" y="143.6" width="2.74" height="77.0" fill="url(#g349)"/><rect x="353.99" y="143.6" width="2.74" height="77.0" fill="url(#g350)"/><rect x="356.22" y="143.6" width="2.74" height="77.0" fill="url(#g351)"/><rect x="358.46" y="143.6" width="2.74" height="77.0" fill="url(#g352)"/><rect x="360.70" y="143.6" width="2.74" height="77.0" fill="url(#g353)"/><rect x="362.93" y="143.6" width="2.74" height="77.0" fill="url(#g354)"/><rect x="365.17" y="143.6" width="2.74" height="77.0" fill="url(#g355)"/><rect x="367.41" y="143.6" width="2.74" height="77.0" fill="url(#g356)"/><rect x="369.65" y="143.6" width="2.74" height="77.0" fill="url(#g357)"/><rect x="371.88" y="143.6" width="2.74" height="77.0" fill="url(#g358)"/><rect x="374.12" y="143.6" width="2.74" height="77.0" fill="url(#g359)"/><rect x="376.36" y="143.6" width="2.74" height="77.0" fill="url(#g360)"/><rect x="378.59" y="143.6" width="2.74" height="77.0" fill="url(#g361)"/><rect x="380.83" y="143.6" width="2.74" height="77.0" fill="url(#g362)"/><rect x="383.07" y="143.6" width="2.74" height="77.0" fill="url(#g363)"/><rect x="385.31" y="143.6" width="2.74" height="77.0" fill="url(#g364)"/><rect x="387.54" y="143.6" width="2.74" height="77.0" fill="url(#g365)"/><rect x="389.78" y="143.6" width="2.74" height="77.0" fill="url(#g366)"/><rect x="392.02" y="143.6" width="2.74" height="77.0" fill="url(#g367)"/><rect x="394.25" y="143.6" width="2.74" height="77.0" fill="url(#g368)"/><rect x="396.49" y="143.6" width="2.74" height="77.0" fill="url(#g369)"/><rect x="398.73" y="143.6" width="2.74" height="77.0" fill="url(#g370)"/><rect x="400.97" y="143.6" width="2.74" height="77.0" fill="url(#g371)"/><rect x="403.20" y="143.6" width="2.74" height="77.0" fill="url(#g372)"/><rect x="405.44" y="143.6" width="2.74" height="77.0" fill="url(#g373)"/><rect x="407.68" y="143.6" width="2.74" height="77.0" fill="url(#g374)"/><rect x="409.91" y="143.6" width="2.74" height="77.0" fill="url(#g375)"/><rect x="412.15" y="143.6" width="2.74" height="77.0" fill="url(#g376)"/><rect x="414.39" y="143.6" width="2.74" height="77.0" fill="url(#g377)"/><rect x="416.63" y="143.6" width="2.74" height="77.0" fill="url(#g378)"/><rect x="418.86" y="143.6" width="2.74" height="77.0" fill="url(#g379)"/><rect x="421.10" y="143.6" width="2.74" height="77.0" fill="url(#g380)"/><rect x="423.34" y="143.6" width="2.74" height="77.0" fill="url(#g381)"/><rect x="425.57" y="143.6" width="2.74" height="77.0" fill="url(#g382)"/><rect x="427.81" y="143.6" width="2.74" height="77.0" fill="url(#g383)"/><rect x="430.05" y="143.6" width="2.74" height="77.0" fill="url(#g384)"/><rect x="432.29" y="143.6" width="2.74" height="77.0" fill="url(#g385)"/><rect x="434.52" y="143.6" width="2.74" height="77.0" fill="url(#g386)"/><rect x="436.76" y="143.6" width="2.74" height="77.0" fill="url(#g387)"/><rect x="439.00" y="143.6" width="2.74" height="77.0" fill="url(#g388)"/><rect x="441.23" y="143.6" width="2.74" height="77.0" fill="url(#g389)"/><rect x="443.47" y="143.6" width="2.74" height="77.0" fill="url(#g390)"/><rect x="445.71" y="143.6" width="2.74" height="77.0" fill="url(#g391)"/><rect x="447.95" y="143.6" width="2.74" height="77.0" fill="url(#g392)"/><rect x="450.18" y="143.6" width="2.74" height="77.0" fill="url(#g393)"/></g><g filter="url(#bb)"><path d="M271.2 142.6L271.2 188.3L273.4 188.3L277.0 187.0L280.2 182.4L282.4 180.2L289.1 178.8L293.1 180.2L299.8 182.0L303.7 184.9L306.1 184.3L309.7 183.8L316.0 183.8L316.4 184.4L318.6 178.4L320.7 174.3L324.9 178.3L328.9 177.1L340.6 175.5L354.0 174.0L363.9 164.1L365.2 162.8L374.1 162.0L386.0 162.9L392.0 164.7L397.2 166.1L403.2 167.9L408.1 169.8L412.2 172.9L414.6 175.5L416.6 179.1L418.0 181.1L420.0 178.3L423.3 175.6L429.8 174.7L433.4 172.9L440.8 172.9L452.4 172.9L455.8 172.9L455.8 142.6Z" fill="#87ba3a" fill-opacity="0.35"/><path d="M271.2 142.6L271.2 185.4L273.4 185.4L277.0 184.1L280.2 179.5L282.4 177.2L289.1 175.9L293.1 177.2L299.8 179.1L303.7 182.0L306.1 181.3L309.7 180.9L316.0 180.9L316.4 181.3L318.6 174.5L320.7 169.7L324.9 172.2L328.9 171.0L340.6 169.7L354.0 168.5L363.9 161.2L365.2 160.2L374.1 159.4L386.0 160.3L392.0 162.2L397.2 163.5L403.2 165.3L408.1 166.9L412.2 169.6L414.6 172.0L416.6 175.4L418.0 177.4L420.0 174.7L423.3 172.0L429.8 171.1L433.4 169.2L440.8 169.2L452.4 169.2L455.8 169.2L455.8 142.6Z" fill="#c3c332" fill-opacity="0.7"/><path d="M271.2 142.6L271.2 182.9L273.4 182.9L277.0 181.5L280.2 177.0L282.4 174.7L289.1 173.3L293.1 174.7L299.8 176.5L303.7 179.5L306.1 178.8L309.7 178.3L316.0 178.3L316.4 178.6L318.6 171.1L320.7 165.6L324.9 166.7L328.9 165.6L340.6 164.6L354.0 163.8L363.9 158.7L365.2 158.0L374.1 157.2L386.0 158.1L392.0 159.9L397.2 161.3L403.2 163.1L408.1 164.3L412.2 166.7L414.6 168.9L416.6 172.2L418.0 174.2L420.0 171.5L423.3 168.8L429.8 167.9L433.4 166.1L440.8 166.1L452.4 166.1L455.8 166.1L455.8 142.6Z" fill="#f5b42b" fill-opacity="1"/><path d="M271.2 142.6L271.2 180.7L273.4 180.7L277.0 179.3L280.2 174.8L282.4 172.5L289.1 171.2L293.1 172.5L299.8 174.3L303.7 177.3L306.1 176.6L309.7 176.2L316.0 176.2L316.4 176.3L318.6 168.2L320.7 162.2L324.9 162.1L328.9 161.1L340.6 160.3L354.0 159.7L363.9 156.6L365.2 156.1L374.1 155.3L386.0 156.2L392.0 158.0L397.2 159.4L403.2 161.2L408.1 162.1L412.2 164.3L414.6 166.3L416.6 169.5L418.0 171.5L420.0 168.8L423.3 166.1L429.8 165.2L433.4 163.3L440.8 163.3L452.4 163.3L455.8 163.3L455.8 142.6Z" fill="#f98d19" fill-opacity="1"/><path d="M271.2 142.6L271.2 178.5L273.4 178.5L277.0 177.2L280.2 172.6L282.4 170.3L289.1 169.0L293.1 170.3L299.8 172.2L303.7 175.1L306.1 174.4L309.7 174.0L316.0 174.0L316.4 174.0L318.6 165.2L320.7 158.7L324.9 157.5L328.9 156.5L340.6 156.0L354.0 155.6L363.9 154.4L365.2 154.2L374.1 153.4L386.0 154.3L392.0 156.1L397.2 157.5L403.2 159.3L408.1 159.9L412.2 161.8L414.6 163.7L416.6 166.8L418.0 168.8L420.0 166.1L423.3 163.3L429.8 162.4L433.4 160.6L440.8 160.6L452.4 160.6L455.8 160.6L455.8 142.6Z" fill="#ee6024" fill-opacity="1"/><path d="M271.2 142.6L271.2 177.4L273.4 177.4L277.0 176.1L280.2 171.5L282.4 169.2L289.1 167.9L293.1 169.2L299.8 171.1L303.7 174.0L306.1 173.3L309.7 172.9L316.0 172.9L316.4 172.9L318.6 163.8L320.7 157.0L324.9 155.1L328.9 154.2L340.6 153.8L354.0 153.5L363.9 153.3L365.2 153.2L374.1 152.4L386.0 153.3L392.0 155.1L397.2 156.5L403.2 158.3L408.1 158.8L412.2 160.6L414.6 162.4L416.6 165.4L418.0 167.4L420.0 164.7L423.3 162.0L429.8 161.1L433.4 159.2L440.8 159.2L452.4 159.2L455.8 159.2L455.8 142.6Z" fill="#b2262a" fill-opacity="1"/></g><path d="M281.7 226.1 L280.2 177.0" fill="none" stroke="url(#p394)" stroke-width="3.3" stroke-linecap="round" stroke-dasharray="0 4.9" stroke-dashoffset="0" opacity="0.95"/><path d="M284.6 226.1 L283.1 180.6" fill="none" stroke="url(#p395)" stroke-width="3.3" stroke-linecap="round" stroke-dasharray="0 4.9" stroke-dashoffset="2.2" opacity="0.95"/><path d="M284.0 220.2 L288.9 177.0" fill="none" stroke="#53bdd9" stroke-width="3.3" stroke-linecap="round" stroke-dasharray="0 4.9" stroke-dashoffset="0" opacity="0.95"/><path d="M301.2 173.3 L290.0 173.3" fill="none" stroke="#e2502c" stroke-width="3.3" stroke-linecap="round" stroke-dasharray="0 4.9" stroke-dashoffset="0" opacity="0.95"/><path d="M305.2 226.1 L303.4 184.3" fill="none" stroke="url(#p396)" stroke-width="3.3" stroke-linecap="round" stroke-dasharray="0 4.9" stroke-dashoffset="0" opacity="0.95"/><path d="M308.1 226.1 L306.3 187.9" fill="none" stroke="url(#p397)" stroke-width="3.3" stroke-linecap="round" stroke-dasharray="0 4.9" stroke-dashoffset="2.2" opacity="0.95"/><path d="M308.3 222.9 L311.3 172.4 L316.9 172.4" fill="none" stroke="url(#p398)" stroke-width="3.3" stroke-linecap="round" stroke-dasharray="0 4.9" stroke-dashoffset="0" opacity="0.95"/><path d="M318.6 216.1 L319.1 186.5" fill="none" stroke="url(#p399)" stroke-width="3.3" stroke-linecap="round" stroke-dasharray="0 4.9" stroke-dashoffset="0" opacity="0.95"/><path d="M321.3 226.1 L324.5 191.1 L326.5 170.2" fill="none" stroke="url(#p400)" stroke-width="3.3" stroke-linecap="round" stroke-dasharray="0 4.9" stroke-dashoffset="0" opacity="0.95"/><path d="M332.5 168.8 L326.5 170.2" fill="none" stroke="#f7aa25" stroke-width="3.3" stroke-linecap="round" stroke-dasharray="0 4.9" stroke-dashoffset="0" opacity="0.95"/><path d="M345.5 167.2 L333.9 167.2" fill="none" stroke="#f98d19" stroke-width="3.3" stroke-linecap="round" stroke-dasharray="0 4.9" stroke-dashoffset="0" opacity="0.95"/><path d="M345.3 226.1 L345.0 177.0" fill="none" stroke="url(#p401)" stroke-width="3.3" stroke-linecap="round" stroke-dasharray="0 4.9" stroke-dashoffset="0" opacity="0.95"/><path d="M348.2 226.1 L347.9 180.6" fill="none" stroke="url(#p402)" stroke-width="3.3" stroke-linecap="round" stroke-dasharray="0 4.9" stroke-dashoffset="2.2" opacity="0.95"/><path d="M355.1 226.1 L352.9 179.2" fill="none" stroke="url(#p403)" stroke-width="3.3" stroke-linecap="round" stroke-dasharray="0 4.9" stroke-dashoffset="0" opacity="0.95"/><path d="M358.0 226.1 L355.8 182.9" fill="none" stroke="url(#p404)" stroke-width="3.3" stroke-linecap="round" stroke-dasharray="0 4.9" stroke-dashoffset="2.2" opacity="0.95"/><path d="M359.6 195.6 L360.7 177.0" fill="none" stroke="#53bdd9" stroke-width="3.3" stroke-linecap="round" stroke-dasharray="0 4.9" stroke-dashoffset="0" opacity="0.95"/><path d="M363.2 192.0 L363.2 191.1" fill="none" stroke="#f9971b" stroke-width="3.3" stroke-linecap="round" stroke-dasharray="0 4.9" stroke-dashoffset="0" opacity="0.95"/><path d="M367.4 226.1 L373.2 170.2 L375.5 170.6" fill="none" stroke="url(#p405)" stroke-width="3.3" stroke-linecap="round" stroke-dasharray="0 4.9" stroke-dashoffset="0" opacity="0.95"/><path d="M370.3 226.1 L376.1 173.8 L378.4 174.2" fill="none" stroke="url(#p406)" stroke-width="3.3" stroke-linecap="round" stroke-dasharray="0 4.9" stroke-dashoffset="2.2" opacity="0.95"/><path d="M383.3 226.1 L379.0 177.0" fill="none" stroke="url(#p407)" stroke-width="3.3" stroke-linecap="round" stroke-dasharray="0 4.9" stroke-dashoffset="0" opacity="0.95"/><path d="M386.2 226.1 L382.0 180.6" fill="none" stroke="url(#p408)" stroke-width="3.3" stroke-linecap="round" stroke-dasharray="0 4.9" stroke-dashoffset="2.2" opacity="0.95"/><path d="M395.6 226.1 L390.0 167.9 L395.8 167.9" fill="none" stroke="url(#p409)" stroke-width="3.3" stroke-linecap="round" stroke-dasharray="0 4.9" stroke-dashoffset="0" opacity="0.95"/><path d="M398.5 226.1 L392.9 171.5 L398.7 171.5" fill="none" stroke="url(#p410)" stroke-width="3.3" stroke-linecap="round" stroke-dasharray="0 4.9" stroke-dashoffset="2.2" opacity="0.95"/><path d="M408.1 226.1 L403.7 178.3 L400.3 178.3" fill="none" stroke="url(#p411)" stroke-width="3.3" stroke-linecap="round" stroke-dasharray="0 4.9" stroke-dashoffset="0" opacity="0.95"/><path d="M411.0 226.1 L406.6 182.0 L403.2 182.0" fill="none" stroke="url(#p412)" stroke-width="3.3" stroke-linecap="round" stroke-dasharray="0 4.9" stroke-dashoffset="2.2" opacity="0.95"/><path d="M409.0 220.6 L412.6 177.0 L422.7 177.0" fill="none" stroke="url(#p413)" stroke-width="3.3" stroke-linecap="round" stroke-dasharray="0 4.9" stroke-dashoffset="0" opacity="0.95"/><path d="M427.1 226.1 L423.8 180.6" fill="none" stroke="url(#p414)" stroke-width="3.3" stroke-linecap="round" stroke-dasharray="0 4.9" stroke-dashoffset="0" opacity="0.95"/><path d="M430.0 226.1 L426.7 184.3" fill="none" stroke="url(#p415)" stroke-width="3.3" stroke-linecap="round" stroke-dasharray="0 4.9" stroke-dashoffset="2.2" opacity="0.95"/><path d="M429.4 213.8 L433.0 174.2 L436.3 174.2" fill="none" stroke="#53bdd9" stroke-width="3.3" stroke-linecap="round" stroke-dasharray="0 4.9" stroke-dashoffset="0" opacity="0.95"/><path d="M440.6 226.1 L442.8 177.0" fill="none" stroke="url(#p416)" stroke-width="3.3" stroke-linecap="round" stroke-dasharray="0 4.9" stroke-dashoffset="0" opacity="0.95"/><path d="M443.5 226.1 L445.7 180.6" fill="none" stroke="url(#p417)" stroke-width="3.3" stroke-linecap="round" stroke-dasharray="0 4.9" stroke-dashoffset="2.2" opacity="0.95"/><path d="M448.6 226.1 L449.7 170.6" fill="none" stroke="url(#p418)" stroke-width="3.3" stroke-linecap="round" stroke-dasharray="0 4.9" stroke-dashoffset="0" opacity="0.95"/><path d="M451.5 226.1 L452.6 174.2" fill="none" stroke="url(#p419)" stroke-width="3.3" stroke-linecap="round" stroke-dasharray="0 4.9" stroke-dashoffset="2.2" opacity="0.95"/><circle cx="281.7" cy="225.9" r="1.9" fill="#2070e6"/><circle cx="282.0" cy="223.1" r="1.7" fill="#267ae7"/><circle cx="305.2" cy="225.9" r="1.9" fill="#2070e6"/><circle cx="305.5" cy="223.1" r="1.7" fill="#267ae7"/><circle cx="321.3" cy="225.9" r="1.9" fill="#2070e6"/><circle cx="321.6" cy="223.1" r="1.7" fill="#267ae7"/><circle cx="345.3" cy="225.9" r="1.9" fill="#2070e6"/><circle cx="345.6" cy="223.1" r="1.7" fill="#267ae7"/><circle cx="355.1" cy="225.9" r="1.9" fill="#2070e6"/><circle cx="355.4" cy="223.1" r="1.7" fill="#267ae7"/><circle cx="367.4" cy="225.9" r="1.9" fill="#2070e6"/><circle cx="367.7" cy="223.1" r="1.7" fill="#267ae7"/><circle cx="383.3" cy="225.9" r="1.9" fill="#2070e6"/><circle cx="383.6" cy="223.1" r="1.7" fill="#267ae7"/><circle cx="395.6" cy="225.9" r="1.9" fill="#267ae7"/><circle cx="395.9" cy="223.1" r="1.7" fill="#2a82e8"/><circle cx="408.1" cy="225.9" r="1.9" fill="#267ae7"/><circle cx="408.4" cy="223.1" r="1.7" fill="#2a82e8"/><circle cx="427.1" cy="225.9" r="1.9" fill="#267ae7"/><circle cx="427.4" cy="223.1" r="1.7" fill="#2a82e8"/><circle cx="440.6" cy="225.9" r="1.9" fill="#34b6c4"/><circle cx="440.9" cy="223.1" r="1.7" fill="#29b1bb"/><circle cx="448.6" cy="225.9" r="1.9" fill="#2070e6"/><circle cx="448.9" cy="223.1" r="1.7" fill="#267ae7"/></g><rect x="273.45" y="145.60" width="178.97" height="81.85" fill="none" stroke="#3c3c3c" stroke-width="0.9"/><path d="M273.45 227.45v2.6M295.82 227.45v2.6M318.19 227.45v2.6M340.56 227.45v2.6M362.93 227.45v2.6M385.31 227.45v2.6M407.68 227.45v2.6M430.05 227.45v2.6M452.42 227.45v2.6M273.45 227.45h-2.6M273.45 204.71h-2.6M273.45 181.98h-2.6M273.45 159.24h-2.6" stroke="#333" stroke-width="0.7"/><text x="273.45" y="238.05" class="t" text-anchor="middle" textLength="13.9" lengthAdjust="spacingAndGlyphs">−40</text><text x="295.82" y="238.05" class="t" text-anchor="middle" textLength="13.9" lengthAdjust="spacingAndGlyphs">−30</text><text x="318.19" y="238.05" class="t" text-anchor="middle" textLength="13.9" lengthAdjust="spacingAndGlyphs">−20</text><text x="340.56" y="238.05" class="t" text-anchor="middle" textLength="13.9" lengthAdjust="spacingAndGlyphs">−10</text><text x="362.93" y="238.05" class="t" text-anchor="middle" textLength="4.2" lengthAdjust="spacingAndGlyphs">0</text><text x="385.31" y="238.05" class="t" text-anchor="middle" textLength="8.4" lengthAdjust="spacingAndGlyphs">10</text><text x="407.68" y="238.05" class="t" text-anchor="middle" textLength="8.4" lengthAdjust="spacingAndGlyphs">20</text><text x="430.05" y="238.05" class="t" text-anchor="middle" textLength="8.4" lengthAdjust="spacingAndGlyphs">30</text><text x="452.42" y="238.05" class="t" text-anchor="middle" textLength="8.4" lengthAdjust="spacingAndGlyphs">40</text><text x="268.55" y="230.00" class="t" text-anchor="end" textLength="4.2" lengthAdjust="spacingAndGlyphs">0</text><text x="268.55" y="207.26" class="t" text-anchor="end" textLength="4.2" lengthAdjust="spacingAndGlyphs">5</text><text x="268.55" y="184.53" class="t" text-anchor="end" textLength="8.4" lengthAdjust="spacingAndGlyphs">10</text><text x="268.55" y="161.79" class="t" text-anchor="end" textLength="8.4" lengthAdjust="spacingAndGlyphs">15</text><text x="362.94" y="247.05" class="t" text-anchor="middle" textLength="37.3" lengthAdjust="spacingAndGlyphs">Latitude (°)</text><text transform="translate(256.05 187.32) rotate(-90)" class="t" text-anchor="middle" textLength="43.6" lengthAdjust="spacingAndGlyphs">Altitude (km)</text><text x="243.15" y="139.70" class="l" textLength="11.6" lengthAdjust="spacingAndGlyphs">(d)</text><path d="M463.1 227.05V149.55L465.50 145.25L467.9 149.55V227.05Z" fill="url(#cb420)" stroke="#222" stroke-width="0.7"/><text x="472.80" y="229.60" class="t" textLength="4.2" lengthAdjust="spacingAndGlyphs">0</text><text x="472.80" y="210.22" class="t" textLength="8.4" lengthAdjust="spacingAndGlyphs">30</text><text x="472.80" y="190.85" class="t" textLength="8.4" lengthAdjust="spacingAndGlyphs">60</text><text x="472.80" y="171.47" class="t" textLength="8.4" lengthAdjust="spacingAndGlyphs">90</text><text x="472.80" y="152.10" class="t" textLength="12.6" lengthAdjust="spacingAndGlyphs">120</text><path d="M467.9 227.05h2.6M467.9 207.67h2.6M467.9 188.30h2.6M467.9 168.92h2.6M467.9 149.55h2.6" stroke="#333" stroke-width="0.7"/><text transform="translate(493.40 189.40) rotate(-90)" class="t" text-anchor="middle" textLength="17.6" lengthAdjust="spacingAndGlyphs">(ppb)</text><clipPath id="c4"><rect x="49.45" y="270.20" width="178.97" height="81.85"/></clipPath><g clip-path="url(#c4)"><g filter="url(#bl)"><rect x="49.45" y="268.2" width="2.74" height="77.0" fill="url(#g421)"/><rect x="51.69" y="268.2" width="2.74" height="77.0" fill="url(#g422)"/><rect x="53.92" y="268.2" width="2.74" height="77.0" fill="url(#g423)"/><rect x="56.16" y="268.2" width="2.74" height="77.0" fill="url(#g424)"/><rect x="58.40" y="268.2" width="2.74" height="77.0" fill="url(#g425)"/><rect x="60.64" y="268.2" width="2.74" height="77.0" fill="url(#g426)"/><rect x="62.87" y="268.2" width="2.74" height="77.0" fill="url(#g427)"/><rect x="65.11" y="268.2" width="2.74" height="77.0" fill="url(#g428)"/><rect x="67.35" y="268.2" width="2.74" height="77.0" fill="url(#g429)"/><rect x="69.58" y="268.2" width="2.74" height="77.0" fill="url(#g430)"/><rect x="71.82" y="268.2" width="2.74" height="77.0" fill="url(#g431)"/><rect x="74.06" y="268.2" width="2.74" height="77.0" fill="url(#g432)"/><rect x="76.30" y="268.2" width="2.74" height="77.0" fill="url(#g433)"/><rect x="78.53" y="268.2" width="2.74" height="77.0" fill="url(#g434)"/><rect x="80.77" y="268.2" width="2.74" height="77.0" fill="url(#g435)"/><rect x="83.01" y="268.2" width="2.74" height="77.0" fill="url(#g436)"/><rect x="85.24" y="268.2" width="2.74" height="77.0" fill="url(#g437)"/><rect x="87.48" y="268.2" width="2.74" height="77.0" fill="url(#g438)"/><rect x="89.72" y="268.2" width="2.74" height="77.0" fill="url(#g439)"/><rect x="91.96" y="268.2" width="2.74" height="77.0" fill="url(#g440)"/><rect x="94.19" y="268.2" width="2.74" height="77.0" fill="url(#g441)"/><rect x="96.43" y="268.2" width="2.74" height="77.0" fill="url(#g442)"/><rect x="98.67" y="268.2" width="2.74" height="77.0" fill="url(#g443)"/><rect x="100.90" y="268.2" width="2.74" height="77.0" fill="url(#g444)"/><rect x="103.14" y="268.2" width="2.74" height="77.0" fill="url(#g445)"/><rect x="105.38" y="268.2" width="2.74" height="77.0" fill="url(#g446)"/><rect x="107.62" y="268.2" width="2.74" height="77.0" fill="url(#g447)"/><rect x="109.85" y="268.2" width="2.74" height="77.0" fill="url(#g448)"/><rect x="112.09" y="268.2" width="2.74" height="77.0" fill="url(#g449)"/><rect x="114.33" y="268.2" width="2.74" height="77.0" fill="url(#g450)"/><rect x="116.56" y="268.2" width="2.74" height="77.0" fill="url(#g451)"/><rect x="118.80" y="268.2" width="2.74" height="77.0" fill="url(#g452)"/><rect x="121.04" y="268.2" width="2.74" height="77.0" fill="url(#g453)"/><rect x="123.28" y="268.2" width="2.74" height="77.0" fill="url(#g454)"/><rect x="125.51" y="268.2" width="2.74" height="77.0" fill="url(#g455)"/><rect x="127.75" y="268.2" width="2.74" height="77.0" fill="url(#g456)"/><rect x="129.99" y="268.2" width="2.74" height="77.0" fill="url(#g457)"/><rect x="132.22" y="268.2" width="2.74" height="77.0" fill="url(#g458)"/><rect x="134.46" y="268.2" width="2.74" height="77.0" fill="url(#g459)"/><rect x="136.70" y="268.2" width="2.74" height="77.0" fill="url(#g460)"/><rect x="138.94" y="268.2" width="2.74" height="77.0" fill="url(#g461)"/><rect x="141.17" y="268.2" width="2.74" height="77.0" fill="url(#g462)"/><rect x="143.41" y="268.2" width="2.74" height="77.0" fill="url(#g463)"/><rect x="145.65" y="268.2" width="2.74" height="77.0" fill="url(#g464)"/><rect x="147.88" y="268.2" width="2.74" height="77.0" fill="url(#g465)"/><rect x="150.12" y="268.2" width="2.74" height="77.0" fill="url(#g466)"/><rect x="152.36" y="268.2" width="2.74" height="77.0" fill="url(#g467)"/><rect x="154.59" y="268.2" width="2.74" height="77.0" fill="url(#g468)"/><rect x="156.83" y="268.2" width="2.74" height="77.0" fill="url(#g469)"/><rect x="159.07" y="268.2" width="2.74" height="77.0" fill="url(#g470)"/><rect x="161.31" y="268.2" width="2.74" height="77.0" fill="url(#g471)"/><rect x="163.54" y="268.2" width="2.74" height="77.0" fill="url(#g472)"/><rect x="165.78" y="268.2" width="2.74" height="77.0" fill="url(#g473)"/><rect x="168.02" y="268.2" width="2.74" height="77.0" fill="url(#g474)"/><rect x="170.25" y="268.2" width="2.74" height="77.0" fill="url(#g475)"/><rect x="172.49" y="268.2" width="2.74" height="77.0" fill="url(#g476)"/><rect x="174.73" y="268.2" width="2.74" height="77.0" fill="url(#g477)"/><rect x="176.97" y="268.2" width="2.74" height="77.0" fill="url(#g478)"/><rect x="179.20" y="268.2" width="2.74" height="77.0" fill="url(#g479)"/><rect x="181.44" y="268.2" width="2.74" height="77.0" fill="url(#g480)"/><rect x="183.68" y="268.2" width="2.74" height="77.0" fill="url(#g481)"/><rect x="185.91" y="268.2" width="2.74" height="77.0" fill="url(#g482)"/><rect x="188.15" y="268.2" width="2.74" height="77.0" fill="url(#g483)"/><rect x="190.39" y="268.2" width="2.74" height="77.0" fill="url(#g484)"/><rect x="192.63" y="268.2" width="2.74" height="77.0" fill="url(#g485)"/><rect x="194.86" y="268.2" width="2.74" height="77.0" fill="url(#g486)"/><rect x="197.10" y="268.2" width="2.74" height="77.0" fill="url(#g487)"/><rect x="199.34" y="268.2" width="2.74" height="77.0" fill="url(#g488)"/><rect x="201.57" y="268.2" width="2.74" height="77.0" fill="url(#g489)"/><rect x="203.81" y="268.2" width="2.74" height="77.0" fill="url(#g490)"/><rect x="206.05" y="268.2" width="2.74" height="77.0" fill="url(#g491)"/><rect x="208.29" y="268.2" width="2.74" height="77.0" fill="url(#g492)"/><rect x="210.52" y="268.2" width="2.74" height="77.0" fill="url(#g493)"/><rect x="212.76" y="268.2" width="2.74" height="77.0" fill="url(#g494)"/><rect x="215.00" y="268.2" width="2.74" height="77.0" fill="url(#g495)"/><rect x="217.23" y="268.2" width="2.74" height="77.0" fill="url(#g496)"/><rect x="219.47" y="268.2" width="2.74" height="77.0" fill="url(#g497)"/><rect x="221.71" y="268.2" width="2.74" height="77.0" fill="url(#g498)"/><rect x="223.95" y="268.2" width="2.74" height="77.0" fill="url(#g499)"/><rect x="226.18" y="268.2" width="2.74" height="77.0" fill="url(#g500)"/></g><g filter="url(#bb)"><path d="M47.2 267.2L47.2 296.8L49.5 296.8L58.0 296.7L60.6 295.5L69.1 295.8L69.6 296.1L75.8 308.2L80.8 311.0L81.9 310.0L94.0 310.5L102.9 309.1L103.1 309.0L109.9 299.8L116.1 292.6L116.6 292.1L127.7 287.5L139.9 287.5L162.0 287.5L166.9 289.3L173.2 290.2L177.0 292.5L179.2 293.4L182.6 295.4L185.9 296.9L190.6 299.1L192.6 302.5L194.0 304.5L197.3 309.9L201.6 311.3L216.1 312.7L221.7 314.5L228.4 315.6L230.2 315.9L231.8 315.9L231.8 267.2Z" fill="#52b16e" fill-opacity="0.35"/><path d="M47.2 267.2L47.2 294.7L49.5 294.7L58.0 294.5L60.6 293.2L69.1 293.5L69.6 293.7L75.8 303.9L80.8 305.1L81.9 304.2L94.0 304.7L102.9 303.3L103.1 303.2L109.9 295.2L116.1 289.2L116.6 288.8L127.7 284.8L139.9 284.8L162.0 284.8L166.9 286.6L173.2 287.5L177.0 289.8L179.2 290.7L182.6 292.5L185.9 293.9L190.6 295.9L192.6 299.2L194.0 301.2L197.3 306.7L201.6 308.0L216.1 309.4L221.7 311.2L228.4 312.3L230.2 312.6L231.8 312.6L231.8 267.2Z" fill="#9bbd37" fill-opacity="0.7"/><path d="M47.2 267.2L47.2 292.5L49.5 292.5L58.0 292.2L60.6 290.9L69.1 291.1L69.6 291.4L75.8 299.6L80.8 299.3L81.9 298.4L94.0 298.8L102.9 297.5L103.1 297.4L109.9 290.7L116.1 285.9L116.6 285.6L127.7 282.0L139.9 282.0L162.0 282.0L166.9 283.8L173.2 284.8L177.0 287.0L179.2 287.9L182.6 289.6L185.9 290.9L190.6 292.7L192.6 295.9L194.0 297.9L197.3 303.4L201.6 304.8L216.1 306.1L221.7 307.9L228.4 309.0L230.2 309.3L231.8 309.3L231.8 267.2Z" fill="#e2c032" fill-opacity="1"/><path d="M47.2 267.2L47.2 290.8L49.5 290.8L58.0 290.5L60.6 289.2L69.1 289.3L69.6 289.6L75.8 296.4L80.8 295.0L81.9 294.0L94.0 294.5L102.9 293.1L103.1 293.0L109.9 287.3L116.1 283.4L116.6 283.1L127.7 280.0L139.9 280.0L162.0 280.0L166.9 281.8L173.2 282.7L177.0 285.0L179.2 285.9L182.6 287.5L185.9 288.6L190.6 290.3L192.6 293.5L194.0 295.5L197.3 300.9L201.6 302.3L216.1 303.7L221.7 305.5L228.4 306.6L230.2 306.9L231.8 306.9L231.8 267.2Z" fill="#faa01e" fill-opacity="1"/><path d="M47.2 267.2L47.2 289.5L49.5 289.5L58.0 289.1L60.6 287.8L69.1 287.9L69.6 288.1L75.8 293.7L80.8 291.3L81.9 290.4L94.0 290.8L102.9 289.5L103.1 289.4L109.9 284.4L116.1 281.3L116.6 281.1L127.7 278.3L139.9 278.3L162.0 278.3L166.9 280.1L173.2 281.0L177.0 283.3L179.2 284.2L182.6 285.7L185.9 286.8L190.6 288.3L192.6 291.4L194.0 293.4L197.3 298.9L201.6 300.3L216.1 301.6L221.7 303.4L228.4 304.5L230.2 304.8L231.8 304.8L231.8 267.2Z" fill="#f88416" fill-opacity="1"/><path d="M47.2 267.2L47.2 287.7L49.5 287.7L58.0 287.3L60.6 285.9L69.1 285.9L69.6 286.2L75.8 290.2L80.8 286.6L81.9 285.7L94.0 286.1L102.9 284.8L103.1 284.6L109.9 280.7L116.1 278.5L116.6 278.4L127.7 276.1L139.9 276.1L162.0 276.1L166.9 277.9L173.2 278.8L177.0 281.1L179.2 282.0L182.6 283.4L185.9 284.3L190.6 285.7L192.6 288.8L194.0 290.8L197.3 296.2L201.6 297.6L216.1 299.0L221.7 300.8L228.4 301.9L230.2 302.1L231.8 302.1L231.8 267.2Z" fill="#ee6024" fill-opacity="1"/><path d="M47.2 267.2L47.2 287.0L49.5 287.0L58.0 286.6L60.6 285.2L69.1 285.2L69.6 285.4L75.8 288.8L80.8 284.8L81.9 283.8L94.0 284.3L102.9 282.9L103.1 282.8L109.9 279.3L116.1 277.5L116.6 277.4L127.7 275.2L139.9 275.2L162.0 275.2L166.9 277.0L173.2 277.9L177.0 280.2L179.2 281.1L182.6 282.5L185.9 283.4L190.6 284.8L192.6 287.8L194.0 289.8L197.3 295.2L201.6 296.6L216.1 297.9L221.7 299.8L228.4 300.8L230.2 301.1L231.8 301.1L231.8 267.2Z" fill="#b2262a" fill-opacity="1"/></g><path d="M56.6 303.4 L48.1 303.4" fill="none" stroke="#267ae7" stroke-width="3.3" stroke-linecap="round" stroke-dasharray="0 1.5" stroke-dashoffset="0" opacity="0.95"/><path d="M64.7 302.5 L56.6 302.5" fill="none" stroke="#5abddd" stroke-width="3.3" stroke-linecap="round" stroke-dasharray="0 3.4" stroke-dashoffset="0" opacity="0.95"/><path d="M69.1 350.7 L64.7 302.9" fill="none" stroke="url(#p501)" stroke-width="3.3" stroke-linecap="round" stroke-dasharray="0 4.9" stroke-dashoffset="0" opacity="0.95"/><path d="M71.8 350.7 L67.3 307.5" fill="none" stroke="url(#p502)" stroke-width="3.3" stroke-linecap="round" stroke-dasharray="0 4.9" stroke-dashoffset="2.2" opacity="0.95"/><path d="M72.3 324.8 L71.4 300.7" fill="none" stroke="#40bacd" stroke-width="3.3" stroke-linecap="round" stroke-dasharray="0 4.9" stroke-dashoffset="0" opacity="0.95"/><path d="M81.7 300.7 L74.1 300.7" fill="none" stroke="#30ac98" stroke-width="3.3" stroke-linecap="round" stroke-dasharray="0 4.9" stroke-dashoffset="0" opacity="0.95"/><path d="M92.9 300.7 L81.7 300.7" fill="none" stroke="#e85828" stroke-width="3.3" stroke-linecap="round" stroke-dasharray="0 4.9" stroke-dashoffset="0" opacity="0.95"/><path d="M95.1 350.7 L92.9 300.7" fill="none" stroke="url(#p503)" stroke-width="3.3" stroke-linecap="round" stroke-dasharray="0 4.9" stroke-dashoffset="0" opacity="0.95"/><path d="M98.9 320.2 L98.0 302.0" fill="none" stroke="url(#p504)" stroke-width="3.3" stroke-linecap="round" stroke-dasharray="0 4.9" stroke-dashoffset="0" opacity="0.95"/><path d="M107.6 297.0 L100.9 297.0" fill="none" stroke="#53bdd9" stroke-width="3.3" stroke-linecap="round" stroke-dasharray="0 4.9" stroke-dashoffset="0" opacity="0.95"/><path d="M115.4 297.0 L107.6 297.0" fill="none" stroke="#52b16e" stroke-width="3.3" stroke-linecap="round" stroke-dasharray="0 4.9" stroke-dashoffset="0" opacity="0.95"/><path d="M120.6 350.7 L115.4 297.0" fill="none" stroke="url(#p505)" stroke-width="3.3" stroke-linecap="round" stroke-dasharray="0 4.9" stroke-dashoffset="0" opacity="0.95"/><path d="M123.3 340.7 L126.6 307.5" fill="none" stroke="url(#p506)" stroke-width="3.3" stroke-linecap="round" stroke-dasharray="0 4.9" stroke-dashoffset="0" opacity="0.95"/><path d="M132.4 350.7 L137.1 304.3" fill="none" stroke="url(#p507)" stroke-width="3.3" stroke-linecap="round" stroke-dasharray="0 4.9" stroke-dashoffset="0" opacity="0.95"/><path d="M135.1 350.7 L139.8 308.9" fill="none" stroke="url(#p508)" stroke-width="3.3" stroke-linecap="round" stroke-dasharray="0 4.9" stroke-dashoffset="2.2" opacity="0.95"/><path d="M143.6 350.7 L147.0 303.8" fill="none" stroke="url(#p509)" stroke-width="3.3" stroke-linecap="round" stroke-dasharray="0 4.9" stroke-dashoffset="0" opacity="0.95"/><path d="M146.5 350.7 L149.9 307.5" fill="none" stroke="url(#p510)" stroke-width="3.3" stroke-linecap="round" stroke-dasharray="0 4.9" stroke-dashoffset="2.2" opacity="0.95"/><path d="M145.9 338.4 L152.6 302.0" fill="none" stroke="url(#p511)" stroke-width="3.3" stroke-linecap="round" stroke-dasharray="0 4.9" stroke-dashoffset="0" opacity="0.95"/><path d="M155.9 350.7 L160.4 301.6 L163.3 301.6" fill="none" stroke="url(#p512)" stroke-width="3.3" stroke-linecap="round" stroke-dasharray="0 4.9" stroke-dashoffset="0" opacity="0.95"/><path d="M158.8 350.7 L163.3 305.2 L166.2 305.2" fill="none" stroke="url(#p513)" stroke-width="3.3" stroke-linecap="round" stroke-dasharray="0 4.9" stroke-dashoffset="2.2" opacity="0.95"/><path d="M166.2 350.7 L171.8 301.6 L181.0 301.6" fill="none" stroke="url(#p514)" stroke-width="3.3" stroke-linecap="round" stroke-dasharray="0 4.9" stroke-dashoffset="0" opacity="0.95"/><path d="M169.1 350.7 L174.7 305.2 L183.9 305.2" fill="none" stroke="url(#p515)" stroke-width="3.3" stroke-linecap="round" stroke-dasharray="0 4.9" stroke-dashoffset="2.2" opacity="0.95"/><path d="M184.1 350.7 L190.4 304.3" fill="none" stroke="url(#p516)" stroke-width="3.3" stroke-linecap="round" stroke-dasharray="0 4.9" stroke-dashoffset="0" opacity="0.95"/><path d="M187.0 350.7 L193.3 307.9" fill="none" stroke="url(#p517)" stroke-width="3.3" stroke-linecap="round" stroke-dasharray="0 4.9" stroke-dashoffset="2.2" opacity="0.95"/><path d="M197.5 350.7 L205.4 298.4" fill="none" stroke="url(#p518)" stroke-width="3.3" stroke-linecap="round" stroke-dasharray="0 4.9" stroke-dashoffset="0" opacity="0.95"/><path d="M200.5 350.7 L208.3 302.0" fill="none" stroke="url(#p519)" stroke-width="3.3" stroke-linecap="round" stroke-dasharray="0 4.9" stroke-dashoffset="2.2" opacity="0.95"/><path d="M211.0 350.7 L219.9 297.5 L222.2 297.5" fill="none" stroke="url(#p520)" stroke-width="3.3" stroke-linecap="round" stroke-dasharray="0 4.9" stroke-dashoffset="0" opacity="0.95"/><path d="M213.9 350.7 L222.8 301.1 L225.1 301.1" fill="none" stroke="url(#p521)" stroke-width="3.3" stroke-linecap="round" stroke-dasharray="0 4.9" stroke-dashoffset="2.2" opacity="0.95"/><path d="M224.6 350.7 L225.7 308.9" fill="none" stroke="url(#p522)" stroke-width="3.3" stroke-linecap="round" stroke-dasharray="0 4.9" stroke-dashoffset="0" opacity="0.95"/><path d="M227.5 350.7 L228.6 312.5" fill="none" stroke="url(#p523)" stroke-width="3.3" stroke-linecap="round" stroke-dasharray="0 4.9" stroke-dashoffset="2.2" opacity="0.95"/><circle cx="69.1" cy="350.5" r="1.9" fill="#614dcf"/><circle cx="69.4" cy="347.7" r="1.7" fill="#6452d4"/><circle cx="95.1" cy="350.5" r="1.9" fill="#6452d4"/><circle cx="95.4" cy="347.7" r="1.7" fill="#5855d8"/><circle cx="120.6" cy="350.5" r="1.9" fill="#6452d4"/><circle cx="120.9" cy="347.7" r="1.7" fill="#5855d8"/><circle cx="132.4" cy="350.5" r="1.9" fill="#415ae1"/><circle cx="132.7" cy="347.7" r="1.7" fill="#375fe2"/><circle cx="143.6" cy="350.5" r="1.9" fill="#2070e6"/><circle cx="143.9" cy="347.7" r="1.7" fill="#267ae7"/><circle cx="155.9" cy="350.5" r="1.9" fill="#2070e6"/><circle cx="156.2" cy="347.7" r="1.7" fill="#267ae7"/><circle cx="166.2" cy="350.5" r="1.9" fill="#2070e6"/><circle cx="166.5" cy="347.7" r="1.7" fill="#267ae7"/><circle cx="184.1" cy="350.5" r="1.9" fill="#2070e6"/><circle cx="184.4" cy="347.7" r="1.7" fill="#267ae7"/><circle cx="197.5" cy="350.5" r="1.9" fill="#2070e6"/><circle cx="197.8" cy="347.7" r="1.7" fill="#267ae7"/><circle cx="211.0" cy="350.5" r="1.9" fill="#2070e6"/><circle cx="211.3" cy="347.7" r="1.7" fill="#267ae7"/><circle cx="224.6" cy="350.5" r="1.9" fill="#66b7e8"/><circle cx="224.9" cy="347.7" r="1.7" fill="#67bee4"/></g><rect x="49.45" y="270.20" width="178.97" height="81.85" fill="none" stroke="#3c3c3c" stroke-width="0.9"/><path d="M49.45 352.05v2.6M71.82 352.05v2.6M94.19 352.05v2.6M116.56 352.05v2.6M138.94 352.05v2.6M161.31 352.05v2.6M183.68 352.05v2.6M206.05 352.05v2.6M228.42 352.05v2.6M49.45 352.05h-2.6M49.45 329.31h-2.6M49.45 306.58h-2.6M49.45 283.84h-2.6" stroke="#333" stroke-width="0.7"/><text x="49.45" y="362.65" class="t" text-anchor="middle" textLength="13.9" lengthAdjust="spacingAndGlyphs">−40</text><text x="71.82" y="362.65" class="t" text-anchor="middle" textLength="13.9" lengthAdjust="spacingAndGlyphs">−30</text><text x="94.19" y="362.65" class="t" text-anchor="middle" textLength="13.9" lengthAdjust="spacingAndGlyphs">−20</text><text x="116.56" y="362.65" class="t" text-anchor="middle" textLength="13.9" lengthAdjust="spacingAndGlyphs">−10</text><text x="138.94" y="362.65" class="t" text-anchor="middle" textLength="4.2" lengthAdjust="spacingAndGlyphs">0</text><text x="161.31" y="362.65" class="t" text-anchor="middle" textLength="8.4" lengthAdjust="spacingAndGlyphs">10</text><text x="183.68" y="362.65" class="t" text-anchor="middle" textLength="8.4" lengthAdjust="spacingAndGlyphs">20</text><text x="206.05" y="362.65" class="t" text-anchor="middle" textLength="8.4" lengthAdjust="spacingAndGlyphs">30</text><text x="228.42" y="362.65" class="t" text-anchor="middle" textLength="8.4" lengthAdjust="spacingAndGlyphs">40</text><text x="44.55" y="354.60" class="t" text-anchor="end" textLength="4.2" lengthAdjust="spacingAndGlyphs">0</text><text x="44.55" y="331.86" class="t" text-anchor="end" textLength="4.2" lengthAdjust="spacingAndGlyphs">5</text><text x="44.55" y="309.13" class="t" text-anchor="end" textLength="8.4" lengthAdjust="spacingAndGlyphs">10</text><text x="44.55" y="286.39" class="t" text-anchor="end" textLength="8.4" lengthAdjust="spacingAndGlyphs">15</text><text x="138.94" y="371.65" class="t" text-anchor="middle" textLength="37.3" lengthAdjust="spacingAndGlyphs">Latitude (°)</text><text transform="translate(32.05 311.93) rotate(-90)" class="t" text-anchor="middle" textLength="43.6" lengthAdjust="spacingAndGlyphs">Altitude (km)</text><text x="19.85" y="264.30" class="l" textLength="11.6" lengthAdjust="spacingAndGlyphs">(e)</text><clipPath id="c5"><rect x="273.45" y="270.20" width="178.97" height="81.85"/></clipPath><g clip-path="url(#c5)"><g filter="url(#bl)"><rect x="273.45" y="268.2" width="2.74" height="77.0" fill="url(#g524)"/><rect x="275.69" y="268.2" width="2.74" height="77.0" fill="url(#g525)"/><rect x="277.92" y="268.2" width="2.74" height="77.0" fill="url(#g526)"/><rect x="280.16" y="268.2" width="2.74" height="77.0" fill="url(#g527)"/><rect x="282.40" y="268.2" width="2.74" height="77.0" fill="url(#g528)"/><rect x="284.64" y="268.2" width="2.74" height="77.0" fill="url(#g529)"/><rect x="286.87" y="268.2" width="2.74" height="77.0" fill="url(#g530)"/><rect x="289.11" y="268.2" width="2.74" height="77.0" fill="url(#g531)"/><rect x="291.35" y="268.2" width="2.74" height="77.0" fill="url(#g532)"/><rect x="293.58" y="268.2" width="2.74" height="77.0" fill="url(#g533)"/><rect x="295.82" y="268.2" width="2.74" height="77.0" fill="url(#g534)"/><rect x="298.06" y="268.2" width="2.74" height="77.0" fill="url(#g535)"/><rect x="300.30" y="268.2" width="2.74" height="77.0" fill="url(#g536)"/><rect x="302.53" y="268.2" width="2.74" height="77.0" fill="url(#g537)"/><rect x="304.77" y="268.2" width="2.74" height="77.0" fill="url(#g538)"/><rect x="307.01" y="268.2" width="2.74" height="77.0" fill="url(#g539)"/><rect x="309.24" y="268.2" width="2.74" height="77.0" fill="url(#g540)"/><rect x="311.48" y="268.2" width="2.74" height="77.0" fill="url(#g541)"/><rect x="313.72" y="268.2" width="2.74" height="77.0" fill="url(#g542)"/><rect x="315.96" y="268.2" width="2.74" height="77.0" fill="url(#g543)"/><rect x="318.19" y="268.2" width="2.74" height="77.0" fill="url(#g544)"/><rect x="320.43" y="268.2" width="2.74" height="77.0" fill="url(#g545)"/><rect x="322.67" y="268.2" width="2.74" height="77.0" fill="url(#g546)"/><rect x="324.90" y="268.2" width="2.74" height="77.0" fill="url(#g547)"/><rect x="327.14" y="268.2" width="2.74" height="77.0" fill="url(#g548)"/><rect x="329.38" y="268.2" width="2.74" height="77.0" fill="url(#g549)"/><rect x="331.62" y="268.2" width="2.74" height="77.0" fill="url(#g550)"/><rect x="333.85" y="268.2" width="2.74" height="77.0" fill="url(#g551)"/><rect x="336.09" y="268.2" width="2.74" height="77.0" fill="url(#g552)"/><rect x="338.33" y="268.2" width="2.74" height="77.0" fill="url(#g553)"/><rect x="340.56" y="268.2" width="2.74" height="77.0" fill="url(#g554)"/><rect x="342.80" y="268.2" width="2.74" height="77.0" fill="url(#g555)"/><rect x="345.04" y="268.2" width="2.74" height="77.0" fill="url(#g556)"/><rect x="347.28" y="268.2" width="2.74" height="77.0" fill="url(#g557)"/><rect x="349.51" y="268.2" width="2.74" height="77.0" fill="url(#g558)"/><rect x="351.75" y="268.2" width="2.74" height="77.0" fill="url(#g559)"/><rect x="353.99" y="268.2" width="2.74" height="77.0" fill="url(#g560)"/><rect x="356.22" y="268.2" width="2.74" height="77.0" fill="url(#g561)"/><rect x="358.46" y="268.2" width="2.74" height="77.0" fill="url(#g562)"/><rect x="360.70" y="268.2" width="2.74" height="77.0" fill="url(#g563)"/><rect x="362.93" y="268.2" width="2.74" height="77.0" fill="url(#g564)"/><rect x="365.17" y="268.2" width="2.74" height="77.0" fill="url(#g565)"/><rect x="367.41" y="268.2" width="2.74" height="77.0" fill="url(#g566)"/><rect x="369.65" y="268.2" width="2.74" height="77.0" fill="url(#g567)"/><rect x="371.88" y="268.2" width="2.74" height="77.0" fill="url(#g568)"/><rect x="374.12" y="268.2" width="2.74" height="77.0" fill="url(#g569)"/><rect x="376.36" y="268.2" width="2.74" height="77.0" fill="url(#g570)"/><rect x="378.59" y="268.2" width="2.74" height="77.0" fill="url(#g571)"/><rect x="380.83" y="268.2" width="2.74" height="77.0" fill="url(#g572)"/><rect x="383.07" y="268.2" width="2.74" height="77.0" fill="url(#g573)"/><rect x="385.31" y="268.2" width="2.74" height="77.0" fill="url(#g574)"/><rect x="387.54" y="268.2" width="2.74" height="77.0" fill="url(#g575)"/><rect x="389.78" y="268.2" width="2.74" height="77.0" fill="url(#g576)"/><rect x="392.02" y="268.2" width="2.74" height="77.0" fill="url(#g577)"/><rect x="394.25" y="268.2" width="2.74" height="77.0" fill="url(#g578)"/><rect x="396.49" y="268.2" width="2.74" height="77.0" fill="url(#g579)"/><rect x="398.73" y="268.2" width="2.74" height="77.0" fill="url(#g580)"/><rect x="400.97" y="268.2" width="2.74" height="77.0" fill="url(#g581)"/><rect x="403.20" y="268.2" width="2.74" height="77.0" fill="url(#g582)"/><rect x="405.44" y="268.2" width="2.74" height="77.0" fill="url(#g583)"/><rect x="407.68" y="268.2" width="2.74" height="77.0" fill="url(#g584)"/><rect x="409.91" y="268.2" width="2.74" height="77.0" fill="url(#g585)"/><rect x="412.15" y="268.2" width="2.74" height="77.0" fill="url(#g586)"/><rect x="414.39" y="268.2" width="2.74" height="77.0" fill="url(#g587)"/><rect x="416.63" y="268.2" width="2.74" height="77.0" fill="url(#g588)"/><rect x="418.86" y="268.2" width="2.74" height="77.0" fill="url(#g589)"/><rect x="421.10" y="268.2" width="2.74" height="77.0" fill="url(#g590)"/><rect x="423.34" y="268.2" width="2.74" height="77.0" fill="url(#g591)"/><rect x="425.57" y="268.2" width="2.74" height="77.0" fill="url(#g592)"/><rect x="427.81" y="268.2" width="2.74" height="77.0" fill="url(#g593)"/><rect x="430.05" y="268.2" width="2.74" height="77.0" fill="url(#g594)"/><rect x="432.29" y="268.2" width="2.74" height="77.0" fill="url(#g595)"/><rect x="434.52" y="268.2" width="2.74" height="77.0" fill="url(#g596)"/><rect x="436.76" y="268.2" width="2.74" height="77.0" fill="url(#g597)"/><rect x="439.00" y="268.2" width="2.74" height="77.0" fill="url(#g598)"/><rect x="441.23" y="268.2" width="2.74" height="77.0" fill="url(#g599)"/><rect x="443.47" y="268.2" width="2.74" height="77.0" fill="url(#g600)"/><rect x="445.71" y="268.2" width="2.74" height="77.0" fill="url(#g601)"/><rect x="447.95" y="268.2" width="2.74" height="77.0" fill="url(#g602)"/><rect x="450.18" y="268.2" width="2.74" height="77.0" fill="url(#g603)"/></g><g filter="url(#bb)"><path d="M271.2 267.2L271.2 315.2L273.4 315.2L275.9 314.8L280.2 309.8L284.6 307.5L293.1 307.9L298.1 310.7L301.0 311.6L304.8 318.4L305.9 316.6L311.0 312.9L315.3 312.0L317.7 304.3L318.2 303.0L319.8 299.5L323.8 301.1L329.4 304.6L332.5 303.9L340.6 302.5L362.9 299.3L363.9 298.9L374.1 295.2L386.0 295.2L396.5 296.6L409.9 297.9L414.6 298.4L418.0 303.8L420.0 302.0L425.6 301.6L440.8 301.6L452.4 301.2L454.2 301.1L455.8 301.1L455.8 267.2Z" fill="#87ba3a" fill-opacity="0.35"/><path d="M271.2 267.2L271.2 311.6L273.4 311.6L275.9 311.1L280.2 306.1L284.6 303.8L293.1 304.3L298.1 307.0L301.0 307.9L304.8 314.8L305.9 312.9L311.0 309.3L315.3 308.4L317.7 300.7L318.2 299.4L319.8 295.6L323.8 296.4L329.4 298.8L332.5 298.2L340.6 297.0L362.9 294.6L363.9 294.3L374.1 291.6L386.0 291.6L396.5 292.9L409.9 294.3L414.6 294.8L418.0 300.2L420.0 298.4L425.6 297.9L440.8 297.9L452.4 297.5L454.2 297.5L455.8 297.5L455.8 267.2Z" fill="#c3c332" fill-opacity="0.7"/><path d="M271.2 267.2L271.2 308.4L273.4 308.4L275.9 307.9L280.2 302.9L284.6 300.7L293.1 301.1L298.1 303.8L301.0 304.8L304.8 311.6L305.9 309.8L311.0 306.1L315.3 305.2L317.7 297.5L318.2 296.2L319.8 292.1L323.8 292.3L329.4 293.7L332.5 293.2L340.6 292.3L362.9 290.5L363.9 290.3L374.1 288.4L386.0 288.4L396.5 289.8L409.9 291.1L414.6 291.6L418.0 297.0L420.0 295.2L425.6 294.8L440.8 294.8L452.4 294.4L454.2 294.3L455.8 294.3L455.8 267.2Z" fill="#f5b42b" fill-opacity="1"/><path d="M271.2 267.2L271.2 305.7L273.4 305.7L275.9 305.2L280.2 300.2L284.6 297.9L293.1 298.4L298.1 301.1L301.0 302.0L304.8 308.9L305.9 307.0L311.0 303.4L315.3 302.5L317.7 294.8L318.2 293.4L319.8 289.2L323.8 288.7L329.4 289.4L332.5 288.9L340.6 288.2L362.9 286.9L363.9 286.8L374.1 285.7L386.0 285.7L396.5 287.0L409.9 288.4L414.6 288.8L418.0 294.3L420.0 292.5L425.6 292.0L440.8 292.0L452.4 291.6L454.2 291.6L455.8 291.6L455.8 267.2Z" fill="#f98d19" fill-opacity="1"/><path d="M271.2 267.2L271.2 302.9L273.4 302.9L275.9 302.5L280.2 297.5L284.6 295.2L293.1 295.7L298.1 298.4L301.0 299.3L304.8 306.1L305.9 304.3L311.0 300.7L315.3 299.8L317.7 292.0L318.2 290.7L319.8 286.2L323.8 285.2L329.4 285.0L332.5 284.6L340.6 284.1L362.9 283.4L363.9 283.3L374.1 282.9L386.0 282.9L396.5 284.3L409.9 285.7L414.6 286.1L418.0 291.6L420.0 289.8L425.6 289.3L440.8 289.3L452.4 288.9L454.2 288.8L455.8 288.8L455.8 267.2Z" fill="#ee6024" fill-opacity="1"/><path d="M271.2 267.2L271.2 301.6L273.4 301.6L275.9 301.1L280.2 296.1L284.6 293.8L293.1 294.3L298.1 297.0L301.0 297.9L304.8 304.8L305.9 302.9L311.0 299.3L315.3 298.4L317.7 290.7L318.2 289.3L319.8 284.8L323.8 283.4L329.4 282.8L332.5 282.5L340.6 282.0L362.9 281.6L363.9 281.6L374.1 281.6L386.0 281.6L396.5 282.9L409.9 284.3L414.6 284.8L418.0 290.2L420.0 288.4L425.6 287.9L440.8 287.9L452.4 287.5L454.2 287.5L455.8 287.5L455.8 267.2Z" fill="#b2262a" fill-opacity="1"/></g><path d="M281.7 350.7 L280.2 301.6" fill="none" stroke="url(#p604)" stroke-width="3.3" stroke-linecap="round" stroke-dasharray="0 4.9" stroke-dashoffset="0" opacity="0.95"/><path d="M284.6 350.7 L283.1 305.2" fill="none" stroke="url(#p605)" stroke-width="3.3" stroke-linecap="round" stroke-dasharray="0 4.9" stroke-dashoffset="2.2" opacity="0.95"/><path d="M284.0 344.8 L288.9 301.6" fill="none" stroke="#53bdd9" stroke-width="3.3" stroke-linecap="round" stroke-dasharray="0 4.9" stroke-dashoffset="0" opacity="0.95"/><path d="M301.2 297.9 L290.0 297.9" fill="none" stroke="#e2502c" stroke-width="3.3" stroke-linecap="round" stroke-dasharray="0 4.9" stroke-dashoffset="0" opacity="0.95"/><path d="M305.2 350.7 L303.4 308.9" fill="none" stroke="url(#p606)" stroke-width="3.3" stroke-linecap="round" stroke-dasharray="0 4.9" stroke-dashoffset="0" opacity="0.95"/><path d="M308.1 350.7 L306.3 312.5" fill="none" stroke="url(#p607)" stroke-width="3.3" stroke-linecap="round" stroke-dasharray="0 4.9" stroke-dashoffset="2.2" opacity="0.95"/><path d="M308.3 347.5 L311.3 297.0 L316.9 297.0" fill="none" stroke="url(#p608)" stroke-width="3.3" stroke-linecap="round" stroke-dasharray="0 4.9" stroke-dashoffset="0" opacity="0.95"/><path d="M318.6 340.7 L319.1 311.1" fill="none" stroke="url(#p609)" stroke-width="3.3" stroke-linecap="round" stroke-dasharray="0 4.9" stroke-dashoffset="0" opacity="0.95"/><path d="M321.3 350.7 L324.5 315.7 L326.5 294.8" fill="none" stroke="url(#p610)" stroke-width="3.3" stroke-linecap="round" stroke-dasharray="0 4.9" stroke-dashoffset="0" opacity="0.95"/><path d="M332.5 293.4 L326.5 294.8" fill="none" stroke="#f7aa25" stroke-width="3.3" stroke-linecap="round" stroke-dasharray="0 4.9" stroke-dashoffset="0" opacity="0.95"/><path d="M345.5 291.8 L333.9 291.8" fill="none" stroke="#f98d19" stroke-width="3.3" stroke-linecap="round" stroke-dasharray="0 4.9" stroke-dashoffset="0" opacity="0.95"/><path d="M345.3 350.7 L345.0 301.6" fill="none" stroke="url(#p611)" stroke-width="3.3" stroke-linecap="round" stroke-dasharray="0 4.9" stroke-dashoffset="0" opacity="0.95"/><path d="M348.2 350.7 L347.9 305.2" fill="none" stroke="url(#p612)" stroke-width="3.3" stroke-linecap="round" stroke-dasharray="0 4.9" stroke-dashoffset="2.2" opacity="0.95"/><path d="M355.1 350.7 L352.9 303.8" fill="none" stroke="url(#p613)" stroke-width="3.3" stroke-linecap="round" stroke-dasharray="0 4.9" stroke-dashoffset="0" opacity="0.95"/><path d="M358.0 350.7 L355.8 307.5" fill="none" stroke="url(#p614)" stroke-width="3.3" stroke-linecap="round" stroke-dasharray="0 4.9" stroke-dashoffset="2.2" opacity="0.95"/><path d="M359.6 320.2 L360.7 301.6" fill="none" stroke="#53bdd9" stroke-width="3.3" stroke-linecap="round" stroke-dasharray="0 4.9" stroke-dashoffset="0" opacity="0.95"/><path d="M363.2 316.6 L363.2 315.7" fill="none" stroke="#f9971b" stroke-width="3.3" stroke-linecap="round" stroke-dasharray="0 4.9" stroke-dashoffset="0" opacity="0.95"/><path d="M367.4 350.7 L373.2 294.8 L375.5 295.2" fill="none" stroke="url(#p615)" stroke-width="3.3" stroke-linecap="round" stroke-dasharray="0 4.9" stroke-dashoffset="0" opacity="0.95"/><path d="M370.3 350.7 L376.1 298.4 L378.4 298.8" fill="none" stroke="url(#p616)" stroke-width="3.3" stroke-linecap="round" stroke-dasharray="0 4.9" stroke-dashoffset="2.2" opacity="0.95"/><path d="M383.3 350.7 L379.0 301.6" fill="none" stroke="url(#p617)" stroke-width="3.3" stroke-linecap="round" stroke-dasharray="0 4.9" stroke-dashoffset="0" opacity="0.95"/><path d="M386.2 350.7 L382.0 305.2" fill="none" stroke="url(#p618)" stroke-width="3.3" stroke-linecap="round" stroke-dasharray="0 4.9" stroke-dashoffset="2.2" opacity="0.95"/><path d="M395.6 350.7 L390.0 292.5 L395.8 292.5" fill="none" stroke="url(#p619)" stroke-width="3.3" stroke-linecap="round" stroke-dasharray="0 4.9" stroke-dashoffset="0" opacity="0.95"/><path d="M398.5 350.7 L392.9 296.1 L398.7 296.1" fill="none" stroke="url(#p620)" stroke-width="3.3" stroke-linecap="round" stroke-dasharray="0 4.9" stroke-dashoffset="2.2" opacity="0.95"/><path d="M408.1 350.7 L403.7 302.9 L400.3 302.9" fill="none" stroke="url(#p621)" stroke-width="3.3" stroke-linecap="round" stroke-dasharray="0 4.9" stroke-dashoffset="0" opacity="0.95"/><path d="M411.0 350.7 L406.6 306.6 L403.2 306.6" fill="none" stroke="url(#p622)" stroke-width="3.3" stroke-linecap="round" stroke-dasharray="0 4.9" stroke-dashoffset="2.2" opacity="0.95"/><path d="M409.0 345.2 L412.6 301.6 L422.7 301.6" fill="none" stroke="url(#p623)" stroke-width="3.3" stroke-linecap="round" stroke-dasharray="0 4.9" stroke-dashoffset="0" opacity="0.95"/><path d="M427.1 350.7 L423.8 305.2" fill="none" stroke="url(#p624)" stroke-width="3.3" stroke-linecap="round" stroke-dasharray="0 4.9" stroke-dashoffset="0" opacity="0.95"/><path d="M430.0 350.7 L426.7 308.9" fill="none" stroke="url(#p625)" stroke-width="3.3" stroke-linecap="round" stroke-dasharray="0 4.9" stroke-dashoffset="2.2" opacity="0.95"/><path d="M429.4 338.4 L433.0 298.8 L436.3 298.8" fill="none" stroke="#53bdd9" stroke-width="3.3" stroke-linecap="round" stroke-dasharray="0 4.9" stroke-dashoffset="0" opacity="0.95"/><path d="M440.6 350.7 L442.8 301.6" fill="none" stroke="url(#p626)" stroke-width="3.3" stroke-linecap="round" stroke-dasharray="0 4.9" stroke-dashoffset="0" opacity="0.95"/><path d="M443.5 350.7 L445.7 305.2" fill="none" stroke="url(#p627)" stroke-width="3.3" stroke-linecap="round" stroke-dasharray="0 4.9" stroke-dashoffset="2.2" opacity="0.95"/><path d="M448.6 350.7 L449.7 295.2" fill="none" stroke="url(#p628)" stroke-width="3.3" stroke-linecap="round" stroke-dasharray="0 4.9" stroke-dashoffset="0" opacity="0.95"/><path d="M451.5 350.7 L452.6 298.8" fill="none" stroke="url(#p629)" stroke-width="3.3" stroke-linecap="round" stroke-dasharray="0 4.9" stroke-dashoffset="2.2" opacity="0.95"/><circle cx="281.7" cy="350.5" r="1.9" fill="#2070e6"/><circle cx="282.0" cy="347.7" r="1.7" fill="#267ae7"/><circle cx="305.2" cy="350.5" r="1.9" fill="#2070e6"/><circle cx="305.5" cy="347.7" r="1.7" fill="#267ae7"/><circle cx="321.3" cy="350.5" r="1.9" fill="#2070e6"/><circle cx="321.6" cy="347.7" r="1.7" fill="#267ae7"/><circle cx="345.3" cy="350.5" r="1.9" fill="#2070e6"/><circle cx="345.6" cy="347.7" r="1.7" fill="#267ae7"/><circle cx="355.1" cy="350.5" r="1.9" fill="#2070e6"/><circle cx="355.4" cy="347.7" r="1.7" fill="#267ae7"/><circle cx="367.4" cy="350.5" r="1.9" fill="#2070e6"/><circle cx="367.7" cy="347.7" r="1.7" fill="#267ae7"/><circle cx="383.3" cy="350.5" r="1.9" fill="#2070e6"/><circle cx="383.6" cy="347.7" r="1.7" fill="#267ae7"/><circle cx="395.6" cy="350.5" r="1.9" fill="#267ae7"/><circle cx="395.9" cy="347.7" r="1.7" fill="#2a82e8"/><circle cx="408.1" cy="350.5" r="1.9" fill="#267ae7"/><circle cx="408.4" cy="347.7" r="1.7" fill="#2a82e8"/><circle cx="427.1" cy="350.5" r="1.9" fill="#267ae7"/><circle cx="427.4" cy="347.7" r="1.7" fill="#2a82e8"/><circle cx="440.6" cy="350.5" r="1.9" fill="#34b6c4"/><circle cx="440.9" cy="347.7" r="1.7" fill="#29b1bb"/><circle cx="448.6" cy="350.5" r="1.9" fill="#2070e6"/><circle cx="448.9" cy="347.7" r="1.7" fill="#267ae7"/></g><rect x="273.45" y="270.20" width="178.97" height="81.85" fill="none" stroke="#3c3c3c" stroke-width="0.9"/><path d="M273.45 352.05v2.6M295.82 352.05v2.6M318.19 352.05v2.6M340.56 352.05v2.6M362.93 352.05v2.6M385.31 352.05v2.6M407.68 352.05v2.6M430.05 352.05v2.6M452.42 352.05v2.6M273.45 352.05h-2.6M273.45 329.31h-2.6M273.45 306.58h-2.6M273.45 283.84h-2.6" stroke="#333" stroke-width="0.7"/><text x="273.45" y="362.65" class="t" text-anchor="middle" textLength="13.9" lengthAdjust="spacingAndGlyphs">−40</text><text x="295.82" y="362.65" class="t" text-anchor="middle" textLength="13.9" lengthAdjust="spacingAndGlyphs">−30</text><text x="318.19" y="362.65" class="t" text-anchor="middle" textLength="13.9" lengthAdjust="spacingAndGlyphs">−20</text><text x="340.56" y="362.65" class="t" text-anchor="middle" textLength="13.9" lengthAdjust="spacingAndGlyphs">−10</text><text x="362.93" y="362.65" class="t" text-anchor="middle" textLength="4.2" lengthAdjust="spacingAndGlyphs">0</text><text x="385.31" y="362.65" class="t" text-anchor="middle" textLength="8.4" lengthAdjust="spacingAndGlyphs">10</text><text x="407.68" y="362.65" class="t" text-anchor="middle" textLength="8.4" lengthAdjust="spacingAndGlyphs">20</text><text x="430.05" y="362.65" class="t" text-anchor="middle" textLength="8.4" lengthAdjust="spacingAndGlyphs">30</text><text x="452.42" y="362.65" class="t" text-anchor="middle" textLength="8.4" lengthAdjust="spacingAndGlyphs">40</text><text x="268.55" y="354.60" class="t" text-anchor="end" textLength="4.2" lengthAdjust="spacingAndGlyphs">0</text><text x="268.55" y="331.86" class="t" text-anchor="end" textLength="4.2" lengthAdjust="spacingAndGlyphs">5</text><text x="268.55" y="309.13" class="t" text-anchor="end" textLength="8.4" lengthAdjust="spacingAndGlyphs">10</text><text x="268.55" y="286.39" class="t" text-anchor="end" textLength="8.4" lengthAdjust="spacingAndGlyphs">15</text><text x="362.94" y="371.65" class="t" text-anchor="middle" textLength="37.3" lengthAdjust="spacingAndGlyphs">Latitude (°)</text><text transform="translate(256.05 311.93) rotate(-90)" class="t" text-anchor="middle" textLength="43.6" lengthAdjust="spacingAndGlyphs">Altitude (km)</text><text x="243.15" y="264.30" class="l" textLength="11.6" lengthAdjust="spacingAndGlyphs">(f)</text><path d="M463.1 351.65V274.15L465.50 269.85L467.9 274.15V351.65Z" fill="url(#cb630)" stroke="#222" stroke-width="0.7"/><text x="472.80" y="354.20" class="t" textLength="4.2" lengthAdjust="spacingAndGlyphs">0</text><text x="472.80" y="334.82" class="t" textLength="8.4" lengthAdjust="spacingAndGlyphs">30</text><text x="472.80" y="315.45" class="t" textLength="8.4" lengthAdjust="spacingAndGlyphs">60</text><text x="472.80" y="296.07" class="t" textLength="8.4" lengthAdjust="spacingAndGlyphs">90</text><text x="472.80" y="276.70" class="t" textLength="12.6" lengthAdjust="spacingAndGlyphs">120</text><path d="M467.9 351.65h2.6M467.9 332.27h2.6M467.9 312.90h2.6M467.9 293.52h2.6M467.9 274.15h2.6" stroke="#333" stroke-width="0.7"/><text transform="translate(493.40 314.00) rotate(-90)" class="t" text-anchor="middle" textLength="17.6" lengthAdjust="spacingAndGlyphs">(ppb)</text><text x="89.6" y="12.8" class="ti" textLength="100.4" lengthAdjust="spacingAndGlyphs">13-15 February 2017</text><text x="313.8" y="12.8" class="ti" textLength="96.2" lengthAdjust="spacingAndGlyphs">17-20 October 2017</text><text transform="translate(12.5 62.40) rotate(-90)" class="ti" text-anchor="middle" textLength="64.6" lengthAdjust="spacingAndGlyphs">IASI+GOME2</text><text transform="translate(12.5 186.15) rotate(-90)" class="ti" text-anchor="middle" textLength="28.4" lengthAdjust="spacingAndGlyphs">TCR-2</text><text transform="translate(12.5 310.60) rotate(-90)" class="ti" text-anchor="middle" textLength="79.8" lengthAdjust="spacingAndGlyphs">CAMS reanalysis</text>
</svg></body></html>
